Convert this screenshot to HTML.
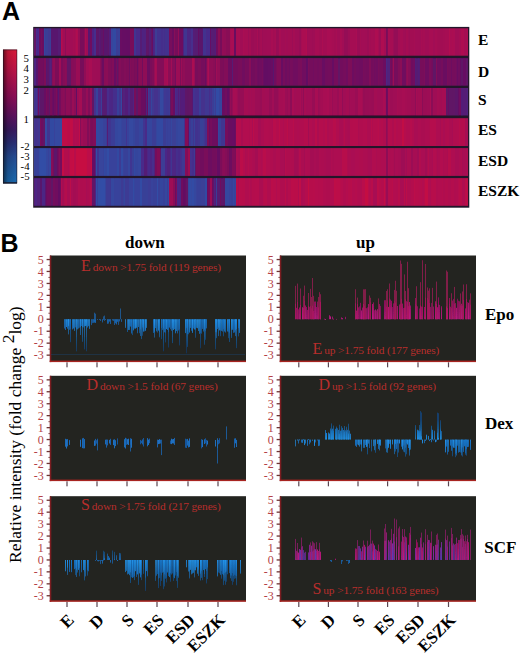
<!DOCTYPE html>
<html><head><meta charset="utf-8"><title>Figure</title>
<style>
html,body{margin:0;padding:0;background:#fff;}
body{width:520px;height:657px;position:relative;overflow:hidden;font-family:"Liberation Serif",serif;}
svg{position:absolute;left:0;top:0;}
.ax{font-family:"Liberation Serif",serif;font-size:12px;fill:#b44044;}
.ann{font-family:"Liberation Serif",serif;font-size:11.4px;fill:#b82e2c;letter-spacing:-0.12px;}
.annb{font-size:16px;}
.xl{font-family:"Liberation Serif",serif;font-weight:bold;font-size:17px;fill:#000;}
.rl{font-family:"Liberation Serif",serif;font-weight:bold;font-size:15.5px;fill:#000;}
.hd{font-family:"Liberation Serif",serif;font-weight:bold;font-size:17px;fill:#000;}
.pl{font-family:"Liberation Sans",sans-serif;font-weight:bold;font-size:25px;fill:#000;}
.cb{font-family:"Liberation Serif",serif;font-size:10.8px;fill:#000;}
.yl{font-family:"Liberation Serif",serif;font-size:17.5px;fill:#000;}
</style></head>
<body>
<svg width="520" height="657" viewBox="0 0 520 657">
<defs>
<linearGradient id="bu0a" gradientUnits="userSpaceOnUse" x1="0" y1="319.2" x2="0" y2="299.2"><stop offset="0" stop-color="#2090e4"/><stop offset="1" stop-color="#0e4a8a"/></linearGradient>
<linearGradient id="bd0a" gradientUnits="userSpaceOnUse" x1="0" y1="319.2" x2="0" y2="353.2"><stop offset="0" stop-color="#2396ee"/><stop offset="1" stop-color="#0a3a70"/></linearGradient>
<linearGradient id="bd0b" gradientUnits="userSpaceOnUse" x1="0" y1="319.2" x2="0" y2="353.2"><stop offset="0" stop-color="#1a78cc"/><stop offset="1" stop-color="#0a3464"/></linearGradient>
<linearGradient id="bdd0u" gradientUnits="userSpaceOnUse" x1="0" y1="319.2" x2="0" y2="339.2"><stop offset="0" stop-color="#1a6ab8"/><stop offset="1" stop-color="#0c3a6a"/></linearGradient>
<linearGradient id="bdd0c" gradientUnits="userSpaceOnUse" x1="0" y1="319.2" x2="0" y2="339.2"><stop offset="0" stop-color="#1a6ab8"/><stop offset="1" stop-color="#0c3a6a"/></linearGradient>
<linearGradient id="bu1a" gradientUnits="userSpaceOnUse" x1="0" y1="439.6" x2="0" y2="419.6"><stop offset="0" stop-color="#2090e4"/><stop offset="1" stop-color="#0e4a8a"/></linearGradient>
<linearGradient id="bd1a" gradientUnits="userSpaceOnUse" x1="0" y1="439.6" x2="0" y2="473.6"><stop offset="0" stop-color="#2396ee"/><stop offset="1" stop-color="#0a3a70"/></linearGradient>
<linearGradient id="bd1b" gradientUnits="userSpaceOnUse" x1="0" y1="439.6" x2="0" y2="473.6"><stop offset="0" stop-color="#1a78cc"/><stop offset="1" stop-color="#0a3464"/></linearGradient>
<linearGradient id="bu2a" gradientUnits="userSpaceOnUse" x1="0" y1="560.0" x2="0" y2="540.0"><stop offset="0" stop-color="#2090e4"/><stop offset="1" stop-color="#0e4a8a"/></linearGradient>
<linearGradient id="bd2a" gradientUnits="userSpaceOnUse" x1="0" y1="560.0" x2="0" y2="594.0"><stop offset="0" stop-color="#2396ee"/><stop offset="1" stop-color="#0a3a70"/></linearGradient>
<linearGradient id="bd2b" gradientUnits="userSpaceOnUse" x1="0" y1="560.0" x2="0" y2="594.0"><stop offset="0" stop-color="#1a78cc"/><stop offset="1" stop-color="#0a3464"/></linearGradient>
<linearGradient id="bu2d" gradientUnits="userSpaceOnUse" x1="0" y1="560.0" x2="0" y2="546.0"><stop offset="0" stop-color="#1a72c4"/><stop offset="1" stop-color="#10406e"/></linearGradient>
<linearGradient id="bdd2c" gradientUnits="userSpaceOnUse" x1="0" y1="560.0" x2="0" y2="580.0"><stop offset="0" stop-color="#1a6ab8"/><stop offset="1" stop-color="#0c3a6a"/></linearGradient>
<linearGradient id="mu0a" gradientUnits="userSpaceOnUse" x1="0" y1="319.2" x2="0" y2="289.2"><stop offset="0" stop-color="#c8168a"/><stop offset="1" stop-color="#8a1048"/></linearGradient>
<linearGradient id="mu0b" gradientUnits="userSpaceOnUse" x1="0" y1="319.2" x2="0" y2="289.2"><stop offset="0" stop-color="#b01478"/><stop offset="1" stop-color="#7a1050"/></linearGradient>
<linearGradient id="mu0c" gradientUnits="userSpaceOnUse" x1="0" y1="319.2" x2="0" y2="289.2"><stop offset="0" stop-color="#b01478"/><stop offset="1" stop-color="#7a1050"/></linearGradient>
<linearGradient id="mu2a" gradientUnits="userSpaceOnUse" x1="0" y1="560.0" x2="0" y2="530.0"><stop offset="0" stop-color="#c8168a"/><stop offset="1" stop-color="#8a1048"/></linearGradient>
<linearGradient id="su2b" gradientUnits="userSpaceOnUse" x1="0" y1="560.0" x2="0" y2="530.0"><stop offset="0" stop-color="#5a3ab8"/><stop offset="1" stop-color="#9a1a88"/></linearGradient>
<linearGradient id="su2c" gradientUnits="userSpaceOnUse" x1="0" y1="560.0" x2="0" y2="530.0"><stop offset="0" stop-color="#7a2aa8"/><stop offset="1" stop-color="#a8147a"/></linearGradient>
<linearGradient id="bdd2d" gradientUnits="userSpaceOnUse" x1="0" y1="560.0" x2="0" y2="580.0"><stop offset="0" stop-color="#1a6ab8"/><stop offset="1" stop-color="#0c3a6a"/></linearGradient>
<filter id="bb" x="-0.05" y="-0.05" width="1.1" height="1.1"><feGaussianBlur stdDeviation="0.45 0.3"/></filter>
<filter id="hb" x="-0.01" y="0" width="1.02" height="1"><feGaussianBlur stdDeviation="0.6 0"/></filter>
<linearGradient id="cbv" x1="0" y1="0" x2="0" y2="1">
<stop offset="0" stop-color="#dc1a3a"/>
<stop offset="0.15" stop-color="#c01448"/>
<stop offset="0.35" stop-color="#8e0e58"/>
<stop offset="0.5" stop-color="#5c1260"/>
<stop offset="0.6" stop-color="#3a1a62"/>
<stop offset="0.7" stop-color="#2a3078"/>
<stop offset="0.8" stop-color="#264c94"/>
<stop offset="0.92" stop-color="#1e60a6"/>
<stop offset="1" stop-color="#1a6cb2"/>
</linearGradient>
<linearGradient id="cbh" x1="0" y1="0" x2="1" y2="0">
<stop offset="0" stop-color="#000" stop-opacity="0.55"/>
<stop offset="0.35" stop-color="#000" stop-opacity="0.15"/>
<stop offset="1" stop-color="#000" stop-opacity="0"/>
</linearGradient>
</defs>
<text x="2" y="19.6" class="pl">A</text>
<text x="0.6" y="252.3" class="pl">B</text>
<rect x="3" y="49.6" width="14" height="133.7" fill="url(#cbv)"/>
<rect x="3" y="49.6" width="14" height="133.7" fill="url(#cbh)"/>
<rect x="3.3" y="49.9" width="13.6" height="133.1" fill="none" stroke="#1e1420" stroke-width="0.7" stroke-opacity="0.8"/>
<rect x="3" y="182.3" width="14" height="1.2" fill="#1a1a2a"/>
<text x="23.6" y="61.5" class="cb">5</text>
<text x="23.6" y="71.8" class="cb">4</text>
<text x="23.6" y="82.8" class="cb">3</text>
<text x="23.6" y="93.8" class="cb">2</text>
<text x="23.6" y="123" class="cb">1</text>
<text x="20.6" y="150.2" class="cb">-2</text>
<text x="20.6" y="160" class="cb">-3</text>
<text x="20.6" y="169.8" class="cb">-4</text>
<text x="20.6" y="179.5" class="cb">-5</text>
<text x="478" y="45.3" class="rl">E</text>
<text x="478" y="76.5" class="rl">D</text>
<text x="478" y="105.3" class="rl">S</text>
<text x="478" y="135.4" class="rl">ES</text>
<text x="478" y="165.5" class="rl">ESD</text>
<text x="478" y="195.6" class="rl">ESZK</text>
<text x="125" y="248" class="hd">down</text>
<text x="356" y="248.2" class="hd">up</text>
<text x="485" y="320.2" class="hd">Epo</text>
<text x="485" y="428.8" class="hd">Dex</text>
<text x="484.3" y="552.5" class="hd">SCF</text>
<text class="yl" transform="translate(20.6,563) rotate(-90)">Relative intensity (fold change <tspan dy="-6.4">2</tspan><tspan dy="6.4">log)</tspan></text>
<rect x="33.2" y="26.9" width="436.1" height="180.8" fill="#22162a"/>
<g filter="url(#hb)">
<rect x="34" y="28.3" width="2" height="27.4" fill="#621265"/>
<rect x="36" y="28.3" width="1" height="27.4" fill="#482b8a"/>
<rect x="37" y="28.3" width="1" height="27.4" fill="#4b2686"/>
<rect x="38" y="28.3" width="1" height="27.4" fill="#472c8a"/>
<rect x="39" y="28.3" width="2" height="27.4" fill="#6a0f61"/>
<rect x="41" y="28.3" width="1" height="27.4" fill="#750b5b"/>
<rect x="42" y="28.3" width="1" height="27.4" fill="#6a0f61"/>
<rect x="43" y="28.3" width="1" height="27.4" fill="#671062"/>
<rect x="44" y="28.3" width="1" height="27.4" fill="#36459d"/>
<rect x="45" y="28.3" width="3" height="27.4" fill="#3a3e96"/>
<rect x="48" y="28.3" width="2" height="27.4" fill="#3f3792"/>
<rect x="50" y="28.3" width="1" height="27.4" fill="#3a3e96"/>
<rect x="51" y="28.3" width="4" height="27.4" fill="#59186e"/>
<rect x="55" y="28.3" width="3" height="27.4" fill="#58186e"/>
<rect x="58" y="28.3" width="3" height="27.4" fill="#551b74"/>
<rect x="61" y="28.3" width="1" height="27.4" fill="#b40c4d"/>
<rect x="62" y="28.3" width="1" height="27.4" fill="#aa0c51"/>
<rect x="63" y="28.3" width="2" height="27.4" fill="#a10c54"/>
<rect x="65" y="28.3" width="1" height="27.4" fill="#8f0b57"/>
<rect x="66" y="28.3" width="3" height="27.4" fill="#a20c54"/>
<rect x="69" y="28.3" width="4" height="27.4" fill="#a10c54"/>
<rect x="73" y="28.3" width="1" height="27.4" fill="#a50c53"/>
<rect x="74" y="28.3" width="1" height="27.4" fill="#a30c53"/>
<rect x="75" y="28.3" width="1" height="27.4" fill="#a70c52"/>
<rect x="76" y="28.3" width="1" height="27.4" fill="#b00c50"/>
<rect x="77" y="28.3" width="1" height="27.4" fill="#ad0c51"/>
<rect x="78" y="28.3" width="2" height="27.4" fill="#940b56"/>
<rect x="80" y="28.3" width="1" height="27.4" fill="#780a5a"/>
<rect x="81" y="28.3" width="3" height="27.4" fill="#790a5a"/>
<rect x="84" y="28.3" width="1" height="27.4" fill="#880b58"/>
<rect x="85" y="28.3" width="1" height="27.4" fill="#a80c52"/>
<rect x="86" y="28.3" width="2" height="27.4" fill="#9c0c55"/>
<rect x="88" y="28.3" width="2" height="27.4" fill="#58186f"/>
<rect x="90" y="28.3" width="2" height="27.4" fill="#6f0d5f"/>
<rect x="92" y="28.3" width="2" height="27.4" fill="#4d2482"/>
<rect x="94" y="28.3" width="1" height="27.4" fill="#472d8b"/>
<rect x="95" y="28.3" width="1" height="27.4" fill="#452f8d"/>
<rect x="96" y="28.3" width="1" height="27.4" fill="#611266"/>
<rect x="97" y="28.3" width="2" height="27.4" fill="#5b1569"/>
<rect x="99" y="28.3" width="1" height="27.4" fill="#561b72"/>
<rect x="100" y="28.3" width="1" height="27.4" fill="#581970"/>
<rect x="101" y="28.3" width="2" height="27.4" fill="#5c1469"/>
<rect x="103" y="28.3" width="1" height="27.4" fill="#671063"/>
<rect x="104" y="28.3" width="4" height="27.4" fill="#59176d"/>
<rect x="108" y="28.3" width="1" height="27.4" fill="#5d1467"/>
<rect x="109" y="28.3" width="2" height="27.4" fill="#531e79"/>
<rect x="111" y="28.3" width="2" height="27.4" fill="#37449c"/>
<rect x="113" y="28.3" width="3" height="27.4" fill="#3349a1"/>
<rect x="116" y="28.3" width="2" height="27.4" fill="#3a3e96"/>
<rect x="118" y="28.3" width="2" height="27.4" fill="#393f97"/>
<rect x="120" y="28.3" width="2" height="27.4" fill="#690f62"/>
<rect x="122" y="28.3" width="4" height="27.4" fill="#661063"/>
<rect x="126" y="28.3" width="4" height="27.4" fill="#651164"/>
<rect x="130" y="28.3" width="4" height="27.4" fill="#780a5a"/>
<rect x="134" y="28.3" width="2" height="27.4" fill="#413590"/>
<rect x="136" y="28.3" width="4" height="27.4" fill="#482b8a"/>
<rect x="140" y="28.3" width="2" height="27.4" fill="#551c75"/>
<rect x="142" y="28.3" width="1" height="27.4" fill="#4e2381"/>
<rect x="143" y="28.3" width="3" height="27.4" fill="#4f237f"/>
<rect x="146" y="28.3" width="2" height="27.4" fill="#5f1367"/>
<rect x="148" y="28.3" width="1" height="27.4" fill="#5b1569"/>
<rect x="149" y="28.3" width="2" height="27.4" fill="#551c75"/>
<rect x="151" y="28.3" width="1" height="27.4" fill="#621265"/>
<rect x="152" y="28.3" width="1" height="27.4" fill="#661063"/>
<rect x="153" y="28.3" width="1" height="27.4" fill="#4d2482"/>
<rect x="154" y="28.3" width="1" height="27.4" fill="#4d2583"/>
<rect x="155" y="28.3" width="2" height="27.4" fill="#3c3c94"/>
<rect x="157" y="28.3" width="4" height="27.4" fill="#42338f"/>
<rect x="161" y="28.3" width="2" height="27.4" fill="#452f8c"/>
<rect x="163" y="28.3" width="1" height="27.4" fill="#44308d"/>
<rect x="164" y="28.3" width="1" height="27.4" fill="#452f8c"/>
<rect x="165" y="28.3" width="4" height="27.4" fill="#43328e"/>
<rect x="169" y="28.3" width="3" height="27.4" fill="#770a5b"/>
<rect x="172" y="28.3" width="1" height="27.4" fill="#6a0f61"/>
<rect x="173" y="28.3" width="1" height="27.4" fill="#6b0f60"/>
<rect x="174" y="28.3" width="1" height="27.4" fill="#870b58"/>
<rect x="175" y="28.3" width="3" height="27.4" fill="#770a5a"/>
<rect x="178" y="28.3" width="1" height="27.4" fill="#940b56"/>
<rect x="179" y="28.3" width="4" height="27.4" fill="#6d0e5f"/>
<rect x="183" y="28.3" width="1" height="27.4" fill="#4e2380"/>
<rect x="184" y="28.3" width="3" height="27.4" fill="#413590"/>
<rect x="187" y="28.3" width="4" height="27.4" fill="#4c2584"/>
<rect x="191" y="28.3" width="2" height="27.4" fill="#462e8c"/>
<rect x="193" y="28.3" width="2" height="27.4" fill="#541d76"/>
<rect x="195" y="28.3" width="3" height="27.4" fill="#561a72"/>
<rect x="198" y="28.3" width="1" height="27.4" fill="#631164"/>
<rect x="199" y="28.3" width="3" height="27.4" fill="#5a166b"/>
<rect x="202" y="28.3" width="1" height="27.4" fill="#59186e"/>
<rect x="203" y="28.3" width="3" height="27.4" fill="#43318e"/>
<rect x="206" y="28.3" width="1" height="27.4" fill="#492a89"/>
<rect x="207" y="28.3" width="3" height="27.4" fill="#472c8b"/>
<rect x="210" y="28.3" width="1" height="27.4" fill="#661063"/>
<rect x="211" y="28.3" width="2" height="27.4" fill="#561b73"/>
<rect x="213" y="28.3" width="2" height="27.4" fill="#561a72"/>
<rect x="215" y="28.3" width="1" height="27.4" fill="#521f79"/>
<rect x="216" y="28.3" width="1" height="27.4" fill="#6e0e5f"/>
<rect x="217" y="28.3" width="1" height="27.4" fill="#700d5e"/>
<rect x="218" y="28.3" width="2" height="27.4" fill="#8a0b57"/>
<rect x="220" y="28.3" width="2" height="27.4" fill="#770a5a"/>
<rect x="222" y="28.3" width="2" height="27.4" fill="#920b56"/>
<rect x="224" y="28.3" width="2" height="27.4" fill="#900b56"/>
<rect x="226" y="28.3" width="4" height="27.4" fill="#890b57"/>
<rect x="230" y="28.3" width="1" height="27.4" fill="#a50c53"/>
<rect x="231" y="28.3" width="3" height="27.4" fill="#a90c52"/>
<rect x="234" y="28.3" width="2" height="27.4" fill="#690f61"/>
<rect x="236" y="28.3" width="1" height="27.4" fill="#a60c53"/>
<rect x="237" y="28.3" width="2" height="27.4" fill="#a70c52"/>
<rect x="239" y="28.3" width="1" height="27.4" fill="#a80c52"/>
<rect x="240" y="28.3" width="3" height="27.4" fill="#a10c54"/>
<rect x="243" y="28.3" width="1" height="27.4" fill="#a90c52"/>
<rect x="244" y="28.3" width="4" height="27.4" fill="#a60c52"/>
<rect x="248" y="28.3" width="1" height="27.4" fill="#9d0c54"/>
<rect x="249" y="28.3" width="2" height="27.4" fill="#a40c53"/>
<rect x="251" y="28.3" width="3" height="27.4" fill="#9b0c55"/>
<rect x="254" y="28.3" width="2" height="27.4" fill="#9e0c54"/>
<rect x="256" y="28.3" width="1" height="27.4" fill="#9d0c54"/>
<rect x="257" y="28.3" width="1" height="27.4" fill="#a60c52"/>
<rect x="258" y="28.3" width="1" height="27.4" fill="#990c55"/>
<rect x="259" y="28.3" width="1" height="27.4" fill="#9e0c54"/>
<rect x="260" y="28.3" width="1" height="27.4" fill="#a30c53"/>
<rect x="261" y="28.3" width="1" height="27.4" fill="#a40c53"/>
<rect x="262" y="28.3" width="1" height="27.4" fill="#9c0c55"/>
<rect x="263" y="28.3" width="4" height="27.4" fill="#a00c54"/>
<rect x="267" y="28.3" width="4" height="27.4" fill="#a10c54"/>
<rect x="271" y="28.3" width="2" height="27.4" fill="#a70c52"/>
<rect x="273" y="28.3" width="1" height="27.4" fill="#a20c53"/>
<rect x="274" y="28.3" width="1" height="27.4" fill="#a40c53"/>
<rect x="275" y="28.3" width="1" height="27.4" fill="#a60c52"/>
<rect x="276" y="28.3" width="2" height="27.4" fill="#980c55"/>
<rect x="278" y="28.3" width="1" height="27.4" fill="#990c55"/>
<rect x="279" y="28.3" width="2" height="27.4" fill="#a70c52"/>
<rect x="281" y="28.3" width="4" height="27.4" fill="#a10c54"/>
<rect x="285" y="28.3" width="1" height="27.4" fill="#a40c53"/>
<rect x="286" y="28.3" width="2" height="27.4" fill="#a10c54"/>
<rect x="288" y="28.3" width="4" height="27.4" fill="#a30c53"/>
<rect x="292" y="28.3" width="1" height="27.4" fill="#9c0c55"/>
<rect x="293" y="28.3" width="2" height="27.4" fill="#a40c53"/>
<rect x="295" y="28.3" width="4" height="27.4" fill="#9f0c54"/>
<rect x="299" y="28.3" width="2" height="27.4" fill="#980c55"/>
<rect x="301" y="28.3" width="1" height="27.4" fill="#a50c53"/>
<rect x="302" y="28.3" width="4" height="27.4" fill="#ab0c51"/>
<rect x="306" y="28.3" width="1" height="27.4" fill="#af0c50"/>
<rect x="307" y="28.3" width="1" height="27.4" fill="#9e0c54"/>
<rect x="308" y="28.3" width="4" height="27.4" fill="#a00c54"/>
<rect x="312" y="28.3" width="1" height="27.4" fill="#9d0c54"/>
<rect x="313" y="28.3" width="2" height="27.4" fill="#9f0c54"/>
<rect x="315" y="28.3" width="4" height="27.4" fill="#a60c53"/>
<rect x="319" y="28.3" width="3" height="27.4" fill="#a20c53"/>
<rect x="322" y="28.3" width="1" height="27.4" fill="#ab0c51"/>
<rect x="323" y="28.3" width="4" height="27.4" fill="#a40c53"/>
<rect x="327" y="28.3" width="4" height="27.4" fill="#a90c52"/>
<rect x="331" y="28.3" width="1" height="27.4" fill="#a80c52"/>
<rect x="332" y="28.3" width="2" height="27.4" fill="#a60c52"/>
<rect x="334" y="28.3" width="2" height="27.4" fill="#a30c53"/>
<rect x="336" y="28.3" width="1" height="27.4" fill="#a70c52"/>
<rect x="337" y="28.3" width="3" height="27.4" fill="#a10c54"/>
<rect x="340" y="28.3" width="1" height="27.4" fill="#a80c52"/>
<rect x="341" y="28.3" width="1" height="27.4" fill="#a70c52"/>
<rect x="342" y="28.3" width="2" height="27.4" fill="#a10c54"/>
<rect x="344" y="28.3" width="4" height="27.4" fill="#950b56"/>
<rect x="348" y="28.3" width="2" height="27.4" fill="#9d0c55"/>
<rect x="350" y="28.3" width="6" height="27.4" fill="#a50c53"/>
<rect x="356" y="28.3" width="1" height="27.4" fill="#a90c52"/>
<rect x="357" y="28.3" width="3" height="27.4" fill="#9b0c55"/>
<rect x="360" y="28.3" width="1" height="27.4" fill="#a40c53"/>
<rect x="361" y="28.3" width="1" height="27.4" fill="#a10c54"/>
<rect x="362" y="28.3" width="3" height="27.4" fill="#a20c54"/>
<rect x="365" y="28.3" width="2" height="27.4" fill="#a10c54"/>
<rect x="367" y="28.3" width="2" height="27.4" fill="#9c0c55"/>
<rect x="369" y="28.3" width="1" height="27.4" fill="#a40c53"/>
<rect x="370" y="28.3" width="1" height="27.4" fill="#a20c53"/>
<rect x="371" y="28.3" width="2" height="27.4" fill="#a50c53"/>
<rect x="373" y="28.3" width="2" height="27.4" fill="#a40c53"/>
<rect x="375" y="28.3" width="3" height="27.4" fill="#ad0c51"/>
<rect x="378" y="28.3" width="1" height="27.4" fill="#a50c53"/>
<rect x="379" y="28.3" width="2" height="27.4" fill="#9b0c55"/>
<rect x="381" y="28.3" width="3" height="27.4" fill="#ae0c51"/>
<rect x="384" y="28.3" width="2" height="27.4" fill="#a40c53"/>
<rect x="386" y="28.3" width="1" height="27.4" fill="#7a0a5a"/>
<rect x="387" y="28.3" width="1" height="27.4" fill="#7f0a59"/>
<rect x="388" y="28.3" width="2" height="27.4" fill="#a70c52"/>
<rect x="390" y="28.3" width="3" height="27.4" fill="#a50c53"/>
<rect x="393" y="28.3" width="1" height="27.4" fill="#9c0c55"/>
<rect x="394" y="28.3" width="4" height="27.4" fill="#940b56"/>
<rect x="398" y="28.3" width="2" height="27.4" fill="#a20c54"/>
<rect x="400" y="28.3" width="3" height="27.4" fill="#a60c53"/>
<rect x="403" y="28.3" width="2" height="27.4" fill="#a10c54"/>
<rect x="405" y="28.3" width="1" height="27.4" fill="#9f0c54"/>
<rect x="406" y="28.3" width="2" height="27.4" fill="#a50c53"/>
<rect x="408" y="28.3" width="1" height="27.4" fill="#a10c54"/>
<rect x="409" y="28.3" width="1" height="27.4" fill="#9e0c54"/>
<rect x="410" y="28.3" width="4" height="27.4" fill="#a20c53"/>
<rect x="414" y="28.3" width="1" height="27.4" fill="#a50c53"/>
<rect x="415" y="28.3" width="4" height="27.4" fill="#a10c54"/>
<rect x="419" y="28.3" width="2" height="27.4" fill="#a00c54"/>
<rect x="421" y="28.3" width="1" height="27.4" fill="#a60c52"/>
<rect x="422" y="28.3" width="1" height="27.4" fill="#a30c53"/>
<rect x="423" y="28.3" width="2" height="27.4" fill="#a50c53"/>
<rect x="425" y="28.3" width="4" height="27.4" fill="#a10c54"/>
<rect x="429" y="28.3" width="1" height="27.4" fill="#a60c53"/>
<rect x="430" y="28.3" width="3" height="27.4" fill="#a70c52"/>
<rect x="433" y="28.3" width="2" height="27.4" fill="#a20c54"/>
<rect x="435" y="28.3" width="2" height="27.4" fill="#a60c53"/>
<rect x="437" y="28.3" width="1" height="27.4" fill="#a30c53"/>
<rect x="438" y="28.3" width="5" height="27.4" fill="#a20c53"/>
<rect x="443" y="28.3" width="2" height="27.4" fill="#a40c53"/>
<rect x="445" y="28.3" width="4" height="27.4" fill="#a60c53"/>
<rect x="449" y="28.3" width="1" height="27.4" fill="#b20c4f"/>
<rect x="450" y="28.3" width="2" height="27.4" fill="#a90c52"/>
<rect x="452" y="28.3" width="1" height="27.4" fill="#ab0c51"/>
<rect x="453" y="28.3" width="2" height="27.4" fill="#aa0c52"/>
<rect x="455" y="28.3" width="4" height="27.4" fill="#a10c54"/>
<rect x="459" y="28.3" width="2" height="27.4" fill="#a50c53"/>
<rect x="461" y="28.3" width="3" height="27.4" fill="#ad0c51"/>
<rect x="464" y="28.3" width="3" height="27.4" fill="#a60c53"/>
<rect x="467" y="28.3" width="1" height="27.4" fill="#aa0c52"/>
<rect x="34" y="58.1" width="1" height="27.6" fill="#51207b"/>
<rect x="35" y="58.1" width="1" height="27.6" fill="#4c2685"/>
<rect x="36" y="58.1" width="2" height="27.6" fill="#59176d"/>
<rect x="38" y="58.1" width="3" height="27.6" fill="#720c5d"/>
<rect x="41" y="58.1" width="2" height="27.6" fill="#730c5c"/>
<rect x="43" y="58.1" width="1" height="27.6" fill="#6e0d5f"/>
<rect x="44" y="58.1" width="2" height="27.6" fill="#7c0a59"/>
<rect x="46" y="58.1" width="1" height="27.6" fill="#58196f"/>
<rect x="47" y="58.1" width="2" height="27.6" fill="#5b156a"/>
<rect x="49" y="58.1" width="1" height="27.6" fill="#531d77"/>
<rect x="50" y="58.1" width="1" height="27.6" fill="#51207c"/>
<rect x="51" y="58.1" width="1" height="27.6" fill="#551c74"/>
<rect x="52" y="58.1" width="1" height="27.6" fill="#850b58"/>
<rect x="53" y="58.1" width="2" height="27.6" fill="#8f0b56"/>
<rect x="55" y="58.1" width="4" height="27.6" fill="#7c0a59"/>
<rect x="59" y="58.1" width="2" height="27.6" fill="#9f0c54"/>
<rect x="61" y="58.1" width="2" height="27.6" fill="#7b0a5a"/>
<rect x="63" y="58.1" width="2" height="27.6" fill="#850b58"/>
<rect x="65" y="58.1" width="1" height="27.6" fill="#8a0b57"/>
<rect x="66" y="58.1" width="1" height="27.6" fill="#850b58"/>
<rect x="67" y="58.1" width="4" height="27.6" fill="#621265"/>
<rect x="71" y="58.1" width="1" height="27.6" fill="#840b58"/>
<rect x="72" y="58.1" width="2" height="27.6" fill="#860b58"/>
<rect x="74" y="58.1" width="2" height="27.6" fill="#880b58"/>
<rect x="76" y="58.1" width="4" height="27.6" fill="#990c55"/>
<rect x="80" y="58.1" width="4" height="27.6" fill="#770a5a"/>
<rect x="84" y="58.1" width="2" height="27.6" fill="#900b56"/>
<rect x="86" y="58.1" width="3" height="27.6" fill="#a10c54"/>
<rect x="89" y="58.1" width="3" height="27.6" fill="#a80c52"/>
<rect x="92" y="58.1" width="4" height="27.6" fill="#9e0c54"/>
<rect x="96" y="58.1" width="4" height="27.6" fill="#9d0c54"/>
<rect x="100" y="58.1" width="1" height="27.6" fill="#890b57"/>
<rect x="101" y="58.1" width="1" height="27.6" fill="#7a0a5a"/>
<rect x="102" y="58.1" width="2" height="27.6" fill="#6b0e60"/>
<rect x="104" y="58.1" width="2" height="27.6" fill="#890b57"/>
<rect x="106" y="58.1" width="2" height="27.6" fill="#8b0b57"/>
<rect x="108" y="58.1" width="3" height="27.6" fill="#7f0a59"/>
<rect x="111" y="58.1" width="1" height="27.6" fill="#7a0a5a"/>
<rect x="112" y="58.1" width="2" height="27.6" fill="#810a59"/>
<rect x="114" y="58.1" width="2" height="27.6" fill="#671063"/>
<rect x="116" y="58.1" width="1" height="27.6" fill="#760b5b"/>
<rect x="117" y="58.1" width="1" height="27.6" fill="#621265"/>
<rect x="118" y="58.1" width="1" height="27.6" fill="#740b5c"/>
<rect x="119" y="58.1" width="2" height="27.6" fill="#830b58"/>
<rect x="121" y="58.1" width="3" height="27.6" fill="#7d0a59"/>
<rect x="124" y="58.1" width="2" height="27.6" fill="#820b58"/>
<rect x="126" y="58.1" width="1" height="27.6" fill="#7e0a59"/>
<rect x="127" y="58.1" width="2" height="27.6" fill="#7f0a59"/>
<rect x="129" y="58.1" width="1" height="27.6" fill="#700d5e"/>
<rect x="130" y="58.1" width="1" height="27.6" fill="#820a59"/>
<rect x="131" y="58.1" width="1" height="27.6" fill="#7d0a59"/>
<rect x="132" y="58.1" width="2" height="27.6" fill="#7f0a59"/>
<rect x="134" y="58.1" width="1" height="27.6" fill="#780a5a"/>
<rect x="135" y="58.1" width="2" height="27.6" fill="#7b0a59"/>
<rect x="137" y="58.1" width="1" height="27.6" fill="#6a0f61"/>
<rect x="138" y="58.1" width="1" height="27.6" fill="#800a59"/>
<rect x="139" y="58.1" width="3" height="27.6" fill="#890b57"/>
<rect x="142" y="58.1" width="1" height="27.6" fill="#720c5d"/>
<rect x="143" y="58.1" width="4" height="27.6" fill="#8e0b57"/>
<rect x="147" y="58.1" width="3" height="27.6" fill="#6c0e60"/>
<rect x="150" y="58.1" width="2" height="27.6" fill="#7a0a5a"/>
<rect x="152" y="58.1" width="2" height="27.6" fill="#800a59"/>
<rect x="154" y="58.1" width="1" height="27.6" fill="#950b56"/>
<rect x="155" y="58.1" width="1" height="27.6" fill="#a70c52"/>
<rect x="156" y="58.1" width="1" height="27.6" fill="#a20c53"/>
<rect x="157" y="58.1" width="7" height="27.6" fill="#830b58"/>
<rect x="164" y="58.1" width="3" height="27.6" fill="#a20c54"/>
<rect x="167" y="58.1" width="1" height="27.6" fill="#a80c52"/>
<rect x="168" y="58.1" width="3" height="27.6" fill="#8b0b57"/>
<rect x="171" y="58.1" width="1" height="27.6" fill="#a10c54"/>
<rect x="172" y="58.1" width="3" height="27.6" fill="#870b58"/>
<rect x="175" y="58.1" width="1" height="27.6" fill="#740b5c"/>
<rect x="176" y="58.1" width="4" height="27.6" fill="#9b0c55"/>
<rect x="180" y="58.1" width="1" height="27.6" fill="#7f0a59"/>
<rect x="181" y="58.1" width="1" height="27.6" fill="#9b0c55"/>
<rect x="182" y="58.1" width="1" height="27.6" fill="#8b0b57"/>
<rect x="183" y="58.1" width="2" height="27.6" fill="#900b56"/>
<rect x="185" y="58.1" width="7" height="27.6" fill="#880b58"/>
<rect x="192" y="58.1" width="2" height="27.6" fill="#ab0c51"/>
<rect x="194" y="58.1" width="1" height="27.6" fill="#9a0c55"/>
<rect x="195" y="58.1" width="3" height="27.6" fill="#790a5a"/>
<rect x="198" y="58.1" width="3" height="27.6" fill="#7e0a59"/>
<rect x="201" y="58.1" width="3" height="27.6" fill="#750b5b"/>
<rect x="204" y="58.1" width="1" height="27.6" fill="#780a5a"/>
<rect x="205" y="58.1" width="1" height="27.6" fill="#6b0f60"/>
<rect x="206" y="58.1" width="1" height="27.6" fill="#7b0a5a"/>
<rect x="207" y="58.1" width="1" height="27.6" fill="#9c0c55"/>
<rect x="208" y="58.1" width="1" height="27.6" fill="#aa0c52"/>
<rect x="209" y="58.1" width="4" height="27.6" fill="#8f0b57"/>
<rect x="213" y="58.1" width="2" height="27.6" fill="#8b0b57"/>
<rect x="215" y="58.1" width="1" height="27.6" fill="#810a59"/>
<rect x="216" y="58.1" width="1" height="27.6" fill="#9d0c55"/>
<rect x="217" y="58.1" width="3" height="27.6" fill="#920b56"/>
<rect x="220" y="58.1" width="3" height="27.6" fill="#7d0a59"/>
<rect x="223" y="58.1" width="1" height="27.6" fill="#7a0a5a"/>
<rect x="224" y="58.1" width="4" height="27.6" fill="#820a59"/>
<rect x="228" y="58.1" width="4" height="27.6" fill="#6c0e60"/>
<rect x="232" y="58.1" width="1" height="27.6" fill="#561b73"/>
<rect x="233" y="58.1" width="5" height="27.6" fill="#730c5c"/>
<rect x="238" y="58.1" width="4" height="27.6" fill="#780a5a"/>
<rect x="242" y="58.1" width="3" height="27.6" fill="#6f0d5f"/>
<rect x="245" y="58.1" width="1" height="27.6" fill="#780a5a"/>
<rect x="246" y="58.1" width="3" height="27.6" fill="#760b5b"/>
<rect x="249" y="58.1" width="2" height="27.6" fill="#860b58"/>
<rect x="251" y="58.1" width="1" height="27.6" fill="#700d5e"/>
<rect x="252" y="58.1" width="3" height="27.6" fill="#730c5c"/>
<rect x="255" y="58.1" width="2" height="27.6" fill="#770a5b"/>
<rect x="257" y="58.1" width="1" height="27.6" fill="#700d5e"/>
<rect x="258" y="58.1" width="1" height="27.6" fill="#6d0e5f"/>
<rect x="259" y="58.1" width="3" height="27.6" fill="#6f0d5f"/>
<rect x="262" y="58.1" width="1" height="27.6" fill="#740b5c"/>
<rect x="263" y="58.1" width="1" height="27.6" fill="#690f62"/>
<rect x="264" y="58.1" width="4" height="27.6" fill="#641164"/>
<rect x="268" y="58.1" width="3" height="27.6" fill="#651164"/>
<rect x="271" y="58.1" width="2" height="27.6" fill="#681062"/>
<rect x="273" y="58.1" width="1" height="27.6" fill="#59176d"/>
<rect x="274" y="58.1" width="2" height="27.6" fill="#710d5e"/>
<rect x="276" y="58.1" width="1" height="27.6" fill="#7a0a5a"/>
<rect x="277" y="58.1" width="4" height="27.6" fill="#810a59"/>
<rect x="281" y="58.1" width="2" height="27.6" fill="#681062"/>
<rect x="283" y="58.1" width="2" height="27.6" fill="#760b5b"/>
<rect x="285" y="58.1" width="2" height="27.6" fill="#6e0e5f"/>
<rect x="287" y="58.1" width="2" height="27.6" fill="#730c5d"/>
<rect x="289" y="58.1" width="1" height="27.6" fill="#6e0e5f"/>
<rect x="290" y="58.1" width="2" height="27.6" fill="#760b5b"/>
<rect x="292" y="58.1" width="1" height="27.6" fill="#750b5c"/>
<rect x="293" y="58.1" width="5" height="27.6" fill="#6f0d5f"/>
<rect x="298" y="58.1" width="2" height="27.6" fill="#770a5b"/>
<rect x="300" y="58.1" width="2" height="27.6" fill="#7a0a5a"/>
<rect x="302" y="58.1" width="2" height="27.6" fill="#700d5e"/>
<rect x="304" y="58.1" width="2" height="27.6" fill="#710d5e"/>
<rect x="306" y="58.1" width="2" height="27.6" fill="#641164"/>
<rect x="308" y="58.1" width="1" height="27.6" fill="#7a0a5a"/>
<rect x="309" y="58.1" width="4" height="27.6" fill="#740c5c"/>
<rect x="313" y="58.1" width="1" height="27.6" fill="#710d5e"/>
<rect x="314" y="58.1" width="3" height="27.6" fill="#760b5b"/>
<rect x="317" y="58.1" width="2" height="27.6" fill="#730c5d"/>
<rect x="319" y="58.1" width="2" height="27.6" fill="#760b5b"/>
<rect x="321" y="58.1" width="1" height="27.6" fill="#740b5c"/>
<rect x="322" y="58.1" width="3" height="27.6" fill="#681062"/>
<rect x="325" y="58.1" width="3" height="27.6" fill="#710c5d"/>
<rect x="328" y="58.1" width="4" height="27.6" fill="#730c5c"/>
<rect x="332" y="58.1" width="2" height="27.6" fill="#661063"/>
<rect x="334" y="58.1" width="4" height="27.6" fill="#740b5c"/>
<rect x="338" y="58.1" width="2" height="27.6" fill="#621265"/>
<rect x="340" y="58.1" width="3" height="27.6" fill="#720c5d"/>
<rect x="343" y="58.1" width="1" height="27.6" fill="#740c5c"/>
<rect x="344" y="58.1" width="2" height="27.6" fill="#760b5b"/>
<rect x="346" y="58.1" width="2" height="27.6" fill="#700d5e"/>
<rect x="348" y="58.1" width="4" height="27.6" fill="#7d0a59"/>
<rect x="352" y="58.1" width="2" height="27.6" fill="#6d0e60"/>
<rect x="354" y="58.1" width="2" height="27.6" fill="#730c5c"/>
<rect x="356" y="58.1" width="3" height="27.6" fill="#6f0d5f"/>
<rect x="359" y="58.1" width="4" height="27.6" fill="#6e0e5f"/>
<rect x="363" y="58.1" width="1" height="27.6" fill="#770a5a"/>
<rect x="364" y="58.1" width="2" height="27.6" fill="#740b5c"/>
<rect x="366" y="58.1" width="3" height="27.6" fill="#730c5c"/>
<rect x="369" y="58.1" width="2" height="27.6" fill="#810a59"/>
<rect x="371" y="58.1" width="2" height="27.6" fill="#730c5c"/>
<rect x="373" y="58.1" width="1" height="27.6" fill="#740b5c"/>
<rect x="374" y="58.1" width="1" height="27.6" fill="#6f0d5f"/>
<rect x="375" y="58.1" width="1" height="27.6" fill="#730c5d"/>
<rect x="376" y="58.1" width="2" height="27.6" fill="#700d5e"/>
<rect x="378" y="58.1" width="1" height="27.6" fill="#790a5a"/>
<rect x="379" y="58.1" width="4" height="27.6" fill="#750b5c"/>
<rect x="383" y="58.1" width="3" height="27.6" fill="#6c0e60"/>
<rect x="386" y="58.1" width="1" height="27.6" fill="#4d2583"/>
<rect x="387" y="58.1" width="3" height="27.6" fill="#51207c"/>
<rect x="390" y="58.1" width="1" height="27.6" fill="#760b5b"/>
<rect x="391" y="58.1" width="1" height="27.6" fill="#6e0e5f"/>
<rect x="392" y="58.1" width="1" height="27.6" fill="#7e0a59"/>
<rect x="393" y="58.1" width="1" height="27.6" fill="#9b0c55"/>
<rect x="394" y="58.1" width="4" height="27.6" fill="#760b5b"/>
<rect x="398" y="58.1" width="1" height="27.6" fill="#820b58"/>
<rect x="399" y="58.1" width="1" height="27.6" fill="#820a59"/>
<rect x="400" y="58.1" width="2" height="27.6" fill="#8a0b57"/>
<rect x="402" y="58.1" width="4" height="27.6" fill="#700d5e"/>
<rect x="406" y="58.1" width="1" height="27.6" fill="#8a0b57"/>
<rect x="407" y="58.1" width="1" height="27.6" fill="#910b56"/>
<rect x="408" y="58.1" width="2" height="27.6" fill="#860b58"/>
<rect x="410" y="58.1" width="1" height="27.6" fill="#7f0a59"/>
<rect x="411" y="58.1" width="2" height="27.6" fill="#6e0e5f"/>
<rect x="413" y="58.1" width="2" height="27.6" fill="#710d5e"/>
<rect x="415" y="58.1" width="1" height="27.6" fill="#531e78"/>
<rect x="416" y="58.1" width="2" height="27.6" fill="#561b72"/>
<rect x="418" y="58.1" width="1" height="27.6" fill="#521f79"/>
<rect x="419" y="58.1" width="1" height="27.6" fill="#561b73"/>
<rect x="420" y="58.1" width="4" height="27.6" fill="#770a5a"/>
<rect x="424" y="58.1" width="1" height="27.6" fill="#7b0a5a"/>
<rect x="425" y="58.1" width="4" height="27.6" fill="#6d0e60"/>
<rect x="429" y="58.1" width="2" height="27.6" fill="#7b0a5a"/>
<rect x="431" y="58.1" width="1" height="27.6" fill="#760b5b"/>
<rect x="432" y="58.1" width="1" height="27.6" fill="#720c5d"/>
<rect x="433" y="58.1" width="3" height="27.6" fill="#611265"/>
<rect x="436" y="58.1" width="1" height="27.6" fill="#820b58"/>
<rect x="437" y="58.1" width="4" height="27.6" fill="#6f0d5e"/>
<rect x="441" y="58.1" width="2" height="27.6" fill="#740c5c"/>
<rect x="443" y="58.1" width="3" height="27.6" fill="#6a0f61"/>
<rect x="446" y="58.1" width="1" height="27.6" fill="#690f62"/>
<rect x="447" y="58.1" width="1" height="27.6" fill="#780a5a"/>
<rect x="448" y="58.1" width="3" height="27.6" fill="#740b5c"/>
<rect x="451" y="58.1" width="1" height="27.6" fill="#6d0e60"/>
<rect x="452" y="58.1" width="3" height="27.6" fill="#740c5c"/>
<rect x="455" y="58.1" width="1" height="27.6" fill="#760b5b"/>
<rect x="456" y="58.1" width="1" height="27.6" fill="#710d5e"/>
<rect x="457" y="58.1" width="1" height="27.6" fill="#681062"/>
<rect x="458" y="58.1" width="2" height="27.6" fill="#700d5e"/>
<rect x="460" y="58.1" width="1" height="27.6" fill="#651164"/>
<rect x="461" y="58.1" width="2" height="27.6" fill="#5f1366"/>
<rect x="463" y="58.1" width="1" height="27.6" fill="#661063"/>
<rect x="464" y="58.1" width="2" height="27.6" fill="#661163"/>
<rect x="466" y="58.1" width="1" height="27.6" fill="#621265"/>
<rect x="467" y="58.1" width="1" height="27.6" fill="#5d1367"/>
<rect x="34" y="88.0" width="2" height="27.5" fill="#42338f"/>
<rect x="36" y="88.0" width="1" height="27.5" fill="#42348f"/>
<rect x="37" y="88.0" width="1" height="27.5" fill="#4c2685"/>
<rect x="38" y="88.0" width="1" height="27.5" fill="#6d0e60"/>
<rect x="39" y="88.0" width="1" height="27.5" fill="#51207c"/>
<rect x="40" y="88.0" width="4" height="27.5" fill="#5d1468"/>
<rect x="44" y="88.0" width="2" height="27.5" fill="#671062"/>
<rect x="46" y="88.0" width="1" height="27.5" fill="#770a5a"/>
<rect x="47" y="88.0" width="2" height="27.5" fill="#6e0e5f"/>
<rect x="49" y="88.0" width="1" height="27.5" fill="#611265"/>
<rect x="50" y="88.0" width="2" height="27.5" fill="#780a5a"/>
<rect x="52" y="88.0" width="1" height="27.5" fill="#6d0e60"/>
<rect x="53" y="88.0" width="1" height="27.5" fill="#661063"/>
<rect x="54" y="88.0" width="2" height="27.5" fill="#710d5e"/>
<rect x="56" y="88.0" width="1" height="27.5" fill="#7d0a59"/>
<rect x="57" y="88.0" width="1" height="27.5" fill="#6b0f61"/>
<rect x="58" y="88.0" width="1" height="27.5" fill="#58186f"/>
<rect x="59" y="88.0" width="1" height="27.5" fill="#710d5e"/>
<rect x="60" y="88.0" width="1" height="27.5" fill="#750b5b"/>
<rect x="61" y="88.0" width="2" height="27.5" fill="#880b58"/>
<rect x="63" y="88.0" width="1" height="27.5" fill="#8b0b57"/>
<rect x="64" y="88.0" width="1" height="27.5" fill="#870b58"/>
<rect x="65" y="88.0" width="1" height="27.5" fill="#7d0a59"/>
<rect x="66" y="88.0" width="4" height="27.5" fill="#8e0b57"/>
<rect x="70" y="88.0" width="2" height="27.5" fill="#850b58"/>
<rect x="72" y="88.0" width="2" height="27.5" fill="#990c55"/>
<rect x="74" y="88.0" width="2" height="27.5" fill="#8d0b57"/>
<rect x="76" y="88.0" width="1" height="27.5" fill="#641164"/>
<rect x="77" y="88.0" width="2" height="27.5" fill="#9b0c55"/>
<rect x="79" y="88.0" width="3" height="27.5" fill="#a40c53"/>
<rect x="82" y="88.0" width="4" height="27.5" fill="#850b58"/>
<rect x="86" y="88.0" width="2" height="27.5" fill="#950b56"/>
<rect x="88" y="88.0" width="2" height="27.5" fill="#810a59"/>
<rect x="90" y="88.0" width="2" height="27.5" fill="#970c55"/>
<rect x="92" y="88.0" width="2" height="27.5" fill="#611265"/>
<rect x="94" y="88.0" width="1" height="27.5" fill="#44308d"/>
<rect x="95" y="88.0" width="1" height="27.5" fill="#44318e"/>
<rect x="96" y="88.0" width="2" height="27.5" fill="#38429a"/>
<rect x="98" y="88.0" width="3" height="27.5" fill="#482a89"/>
<rect x="101" y="88.0" width="1" height="27.5" fill="#3a3e96"/>
<rect x="102" y="88.0" width="2" height="27.5" fill="#551b74"/>
<rect x="104" y="88.0" width="2" height="27.5" fill="#571a72"/>
<rect x="106" y="88.0" width="1" height="27.5" fill="#531e78"/>
<rect x="107" y="88.0" width="2" height="27.5" fill="#462e8c"/>
<rect x="109" y="88.0" width="2" height="27.5" fill="#4b2786"/>
<rect x="111" y="88.0" width="2" height="27.5" fill="#4c2584"/>
<rect x="113" y="88.0" width="4" height="27.5" fill="#452e8c"/>
<rect x="117" y="88.0" width="2" height="27.5" fill="#384199"/>
<rect x="119" y="88.0" width="2" height="27.5" fill="#403590"/>
<rect x="121" y="88.0" width="1" height="27.5" fill="#35469e"/>
<rect x="122" y="88.0" width="1" height="27.5" fill="#561b73"/>
<rect x="123" y="88.0" width="2" height="27.5" fill="#51207c"/>
<rect x="125" y="88.0" width="3" height="27.5" fill="#521f79"/>
<rect x="128" y="88.0" width="2" height="27.5" fill="#4c2685"/>
<rect x="130" y="88.0" width="3" height="27.5" fill="#551c75"/>
<rect x="133" y="88.0" width="1" height="27.5" fill="#4f227f"/>
<rect x="134" y="88.0" width="2" height="27.5" fill="#770a5a"/>
<rect x="136" y="88.0" width="2" height="27.5" fill="#601366"/>
<rect x="138" y="88.0" width="3" height="27.5" fill="#760b5b"/>
<rect x="141" y="88.0" width="4" height="27.5" fill="#690f61"/>
<rect x="145" y="88.0" width="1" height="27.5" fill="#641164"/>
<rect x="146" y="88.0" width="1" height="27.5" fill="#50217d"/>
<rect x="147" y="88.0" width="1" height="27.5" fill="#6a0f61"/>
<rect x="148" y="88.0" width="1" height="27.5" fill="#3c3b94"/>
<rect x="149" y="88.0" width="2" height="27.5" fill="#44308d"/>
<rect x="151" y="88.0" width="1" height="27.5" fill="#36449c"/>
<rect x="152" y="88.0" width="2" height="27.5" fill="#3f3892"/>
<rect x="154" y="88.0" width="4" height="27.5" fill="#45308d"/>
<rect x="158" y="88.0" width="2" height="27.5" fill="#3f3792"/>
<rect x="160" y="88.0" width="3" height="27.5" fill="#3448a0"/>
<rect x="163" y="88.0" width="1" height="27.5" fill="#384199"/>
<rect x="164" y="88.0" width="2" height="27.5" fill="#3f3792"/>
<rect x="166" y="88.0" width="3" height="27.5" fill="#3e3993"/>
<rect x="169" y="88.0" width="1" height="27.5" fill="#3c3b94"/>
<rect x="170" y="88.0" width="1" height="27.5" fill="#611265"/>
<rect x="171" y="88.0" width="2" height="27.5" fill="#780a5a"/>
<rect x="173" y="88.0" width="2" height="27.5" fill="#681062"/>
<rect x="175" y="88.0" width="1" height="27.5" fill="#492989"/>
<rect x="176" y="88.0" width="2" height="27.5" fill="#4c2685"/>
<rect x="178" y="88.0" width="1" height="27.5" fill="#531e79"/>
<rect x="179" y="88.0" width="1" height="27.5" fill="#4d2583"/>
<rect x="180" y="88.0" width="1" height="27.5" fill="#541d76"/>
<rect x="181" y="88.0" width="4" height="27.5" fill="#521f7a"/>
<rect x="185" y="88.0" width="2" height="27.5" fill="#5f1367"/>
<rect x="187" y="88.0" width="2" height="27.5" fill="#611265"/>
<rect x="189" y="88.0" width="3" height="27.5" fill="#621265"/>
<rect x="192" y="88.0" width="1" height="27.5" fill="#59186e"/>
<rect x="193" y="88.0" width="2" height="27.5" fill="#42338f"/>
<rect x="195" y="88.0" width="4" height="27.5" fill="#452e8c"/>
<rect x="199" y="88.0" width="2" height="27.5" fill="#3a3e96"/>
<rect x="201" y="88.0" width="2" height="27.5" fill="#44318d"/>
<rect x="203" y="88.0" width="2" height="27.5" fill="#44308d"/>
<rect x="205" y="88.0" width="4" height="27.5" fill="#3f3792"/>
<rect x="209" y="88.0" width="1" height="27.5" fill="#462d8b"/>
<rect x="210" y="88.0" width="1" height="27.5" fill="#403691"/>
<rect x="211" y="88.0" width="1" height="27.5" fill="#45308d"/>
<rect x="212" y="88.0" width="2" height="27.5" fill="#3a3e96"/>
<rect x="214" y="88.0" width="1" height="27.5" fill="#35469e"/>
<rect x="215" y="88.0" width="1" height="27.5" fill="#3a3d96"/>
<rect x="216" y="88.0" width="3" height="27.5" fill="#314ca4"/>
<rect x="219" y="88.0" width="3" height="27.5" fill="#36459d"/>
<rect x="222" y="88.0" width="2" height="27.5" fill="#671062"/>
<rect x="224" y="88.0" width="1" height="27.5" fill="#6b0f61"/>
<rect x="225" y="88.0" width="2" height="27.5" fill="#700d5e"/>
<rect x="227" y="88.0" width="2" height="27.5" fill="#651164"/>
<rect x="229" y="88.0" width="1" height="27.5" fill="#730c5c"/>
<rect x="230" y="88.0" width="1" height="27.5" fill="#920b56"/>
<rect x="231" y="88.0" width="1" height="27.5" fill="#890b57"/>
<rect x="232" y="88.0" width="1" height="27.5" fill="#950b56"/>
<rect x="233" y="88.0" width="3" height="27.5" fill="#a60c52"/>
<rect x="236" y="88.0" width="1" height="27.5" fill="#a40c53"/>
<rect x="237" y="88.0" width="1" height="27.5" fill="#9c0c55"/>
<rect x="238" y="88.0" width="2" height="27.5" fill="#930b56"/>
<rect x="240" y="88.0" width="4" height="27.5" fill="#960c55"/>
<rect x="244" y="88.0" width="1" height="27.5" fill="#a50c53"/>
<rect x="245" y="88.0" width="3" height="27.5" fill="#a40c53"/>
<rect x="248" y="88.0" width="2" height="27.5" fill="#a10c54"/>
<rect x="250" y="88.0" width="1" height="27.5" fill="#a40c53"/>
<rect x="251" y="88.0" width="1" height="27.5" fill="#a10c54"/>
<rect x="252" y="88.0" width="3" height="27.5" fill="#a30c53"/>
<rect x="255" y="88.0" width="4" height="27.5" fill="#9c0c55"/>
<rect x="259" y="88.0" width="1" height="27.5" fill="#9b0c55"/>
<rect x="260" y="88.0" width="2" height="27.5" fill="#980c55"/>
<rect x="262" y="88.0" width="3" height="27.5" fill="#a20c53"/>
<rect x="265" y="88.0" width="4" height="27.5" fill="#a10c54"/>
<rect x="269" y="88.0" width="3" height="27.5" fill="#960c55"/>
<rect x="272" y="88.0" width="2" height="27.5" fill="#a00c54"/>
<rect x="274" y="88.0" width="4" height="27.5" fill="#930b56"/>
<rect x="278" y="88.0" width="1" height="27.5" fill="#9c0c55"/>
<rect x="279" y="88.0" width="4" height="27.5" fill="#a40c53"/>
<rect x="283" y="88.0" width="2" height="27.5" fill="#a60c53"/>
<rect x="285" y="88.0" width="2" height="27.5" fill="#9b0c55"/>
<rect x="287" y="88.0" width="1" height="27.5" fill="#980c55"/>
<rect x="288" y="88.0" width="2" height="27.5" fill="#9f0c54"/>
<rect x="290" y="88.0" width="2" height="27.5" fill="#8d0b57"/>
<rect x="292" y="88.0" width="2" height="27.5" fill="#a80c52"/>
<rect x="294" y="88.0" width="2" height="27.5" fill="#a10c54"/>
<rect x="296" y="88.0" width="4" height="27.5" fill="#a20c53"/>
<rect x="300" y="88.0" width="1" height="27.5" fill="#a70c52"/>
<rect x="301" y="88.0" width="1" height="27.5" fill="#9b0c55"/>
<rect x="302" y="88.0" width="1" height="27.5" fill="#a10c54"/>
<rect x="303" y="88.0" width="1" height="27.5" fill="#900b56"/>
<rect x="304" y="88.0" width="2" height="27.5" fill="#a50c53"/>
<rect x="306" y="88.0" width="2" height="27.5" fill="#a10c54"/>
<rect x="308" y="88.0" width="4" height="27.5" fill="#a20c54"/>
<rect x="312" y="88.0" width="3" height="27.5" fill="#970c55"/>
<rect x="315" y="88.0" width="3" height="27.5" fill="#a70c52"/>
<rect x="318" y="88.0" width="1" height="27.5" fill="#990c55"/>
<rect x="319" y="88.0" width="1" height="27.5" fill="#9d0c54"/>
<rect x="320" y="88.0" width="1" height="27.5" fill="#a20c53"/>
<rect x="321" y="88.0" width="1" height="27.5" fill="#a40c53"/>
<rect x="322" y="88.0" width="1" height="27.5" fill="#a30c53"/>
<rect x="323" y="88.0" width="4" height="27.5" fill="#a80c52"/>
<rect x="327" y="88.0" width="2" height="27.5" fill="#aa0c52"/>
<rect x="329" y="88.0" width="2" height="27.5" fill="#a30c53"/>
<rect x="331" y="88.0" width="1" height="27.5" fill="#a50c53"/>
<rect x="332" y="88.0" width="1" height="27.5" fill="#990c55"/>
<rect x="333" y="88.0" width="4" height="27.5" fill="#a10c54"/>
<rect x="337" y="88.0" width="2" height="27.5" fill="#9a0c55"/>
<rect x="339" y="88.0" width="3" height="27.5" fill="#a50c53"/>
<rect x="342" y="88.0" width="1" height="27.5" fill="#920b56"/>
<rect x="343" y="88.0" width="3" height="27.5" fill="#a10c54"/>
<rect x="346" y="88.0" width="3" height="27.5" fill="#a40c53"/>
<rect x="349" y="88.0" width="1" height="27.5" fill="#9c0c55"/>
<rect x="350" y="88.0" width="1" height="27.5" fill="#a20c54"/>
<rect x="351" y="88.0" width="4" height="27.5" fill="#a10c54"/>
<rect x="355" y="88.0" width="3" height="27.5" fill="#9a0c55"/>
<rect x="358" y="88.0" width="4" height="27.5" fill="#a80c52"/>
<rect x="362" y="88.0" width="1" height="27.5" fill="#a20c53"/>
<rect x="363" y="88.0" width="2" height="27.5" fill="#960c55"/>
<rect x="365" y="88.0" width="4" height="27.5" fill="#990c55"/>
<rect x="369" y="88.0" width="2" height="27.5" fill="#9b0c55"/>
<rect x="371" y="88.0" width="1" height="27.5" fill="#9a0c55"/>
<rect x="372" y="88.0" width="2" height="27.5" fill="#990c55"/>
<rect x="374" y="88.0" width="3" height="27.5" fill="#a30c53"/>
<rect x="377" y="88.0" width="4" height="27.5" fill="#a00c54"/>
<rect x="381" y="88.0" width="2" height="27.5" fill="#a10c54"/>
<rect x="383" y="88.0" width="2" height="27.5" fill="#a80c52"/>
<rect x="385" y="88.0" width="1" height="27.5" fill="#a20c54"/>
<rect x="386" y="88.0" width="1" height="27.5" fill="#6d0e5f"/>
<rect x="387" y="88.0" width="1" height="27.5" fill="#6f0d5e"/>
<rect x="388" y="88.0" width="2" height="27.5" fill="#a30c53"/>
<rect x="390" y="88.0" width="3" height="27.5" fill="#9d0c54"/>
<rect x="393" y="88.0" width="4" height="27.5" fill="#a00c54"/>
<rect x="397" y="88.0" width="1" height="27.5" fill="#a60c52"/>
<rect x="398" y="88.0" width="4" height="27.5" fill="#a40c53"/>
<rect x="402" y="88.0" width="3" height="27.5" fill="#a70c52"/>
<rect x="405" y="88.0" width="2" height="27.5" fill="#a40c53"/>
<rect x="407" y="88.0" width="4" height="27.5" fill="#a20c53"/>
<rect x="411" y="88.0" width="4" height="27.5" fill="#9e0c54"/>
<rect x="415" y="88.0" width="1" height="27.5" fill="#8f0b57"/>
<rect x="416" y="88.0" width="1" height="27.5" fill="#a50c53"/>
<rect x="417" y="88.0" width="1" height="27.5" fill="#9f0c54"/>
<rect x="418" y="88.0" width="4" height="27.5" fill="#a20c53"/>
<rect x="422" y="88.0" width="1" height="27.5" fill="#8b0b57"/>
<rect x="423" y="88.0" width="4" height="27.5" fill="#9b0c55"/>
<rect x="427" y="88.0" width="3" height="27.5" fill="#9d0c54"/>
<rect x="430" y="88.0" width="1" height="27.5" fill="#a80c52"/>
<rect x="431" y="88.0" width="2" height="27.5" fill="#8b0b57"/>
<rect x="433" y="88.0" width="1" height="27.5" fill="#a00c54"/>
<rect x="434" y="88.0" width="3" height="27.5" fill="#9f0c54"/>
<rect x="437" y="88.0" width="2" height="27.5" fill="#a50c53"/>
<rect x="439" y="88.0" width="2" height="27.5" fill="#a30c53"/>
<rect x="441" y="88.0" width="1" height="27.5" fill="#a10c54"/>
<rect x="442" y="88.0" width="4" height="27.5" fill="#a60c52"/>
<rect x="446" y="88.0" width="2" height="27.5" fill="#611265"/>
<rect x="448" y="88.0" width="1" height="27.5" fill="#671063"/>
<rect x="449" y="88.0" width="3" height="27.5" fill="#601266"/>
<rect x="452" y="88.0" width="1" height="27.5" fill="#611265"/>
<rect x="453" y="88.0" width="2" height="27.5" fill="#611266"/>
<rect x="455" y="88.0" width="3" height="27.5" fill="#5c1469"/>
<rect x="458" y="88.0" width="1" height="27.5" fill="#641164"/>
<rect x="459" y="88.0" width="2" height="27.5" fill="#6f0d5f"/>
<rect x="461" y="88.0" width="2" height="27.5" fill="#531e78"/>
<rect x="463" y="88.0" width="4" height="27.5" fill="#541d76"/>
<rect x="467" y="88.0" width="1" height="27.5" fill="#50217e"/>
<rect x="34" y="118.2" width="3" height="27.8" fill="#43328e"/>
<rect x="37" y="118.2" width="1" height="27.8" fill="#44308d"/>
<rect x="38" y="118.2" width="2" height="27.8" fill="#403590"/>
<rect x="40" y="118.2" width="1" height="27.8" fill="#7a0a5a"/>
<rect x="41" y="118.2" width="2" height="27.8" fill="#6e0e5f"/>
<rect x="43" y="118.2" width="2" height="27.8" fill="#621265"/>
<rect x="45" y="118.2" width="2" height="27.8" fill="#3448a0"/>
<rect x="47" y="118.2" width="3" height="27.8" fill="#413490"/>
<rect x="50" y="118.2" width="4" height="27.8" fill="#3349a1"/>
<rect x="54" y="118.2" width="1" height="27.8" fill="#37439b"/>
<rect x="55" y="118.2" width="7" height="27.8" fill="#3448a0"/>
<rect x="62" y="118.2" width="5" height="27.8" fill="#be0c47"/>
<rect x="67" y="118.2" width="1" height="27.8" fill="#ba0c4a"/>
<rect x="68" y="118.2" width="2" height="27.8" fill="#b90c4a"/>
<rect x="70" y="118.2" width="2" height="27.8" fill="#c10c45"/>
<rect x="72" y="118.2" width="1" height="27.8" fill="#bf0c46"/>
<rect x="73" y="118.2" width="2" height="27.8" fill="#ae0c51"/>
<rect x="75" y="118.2" width="1" height="27.8" fill="#b20c4f"/>
<rect x="76" y="118.2" width="3" height="27.8" fill="#b00c50"/>
<rect x="79" y="118.2" width="1" height="27.8" fill="#c00c46"/>
<rect x="80" y="118.2" width="1" height="27.8" fill="#870b58"/>
<rect x="81" y="118.2" width="2" height="27.8" fill="#9f0c54"/>
<rect x="83" y="118.2" width="4" height="27.8" fill="#990c55"/>
<rect x="87" y="118.2" width="2" height="27.8" fill="#820a59"/>
<rect x="89" y="118.2" width="1" height="27.8" fill="#930b56"/>
<rect x="90" y="118.2" width="1" height="27.8" fill="#7f0a59"/>
<rect x="91" y="118.2" width="2" height="27.8" fill="#7c0a59"/>
<rect x="93" y="118.2" width="3" height="27.8" fill="#810a59"/>
<rect x="96" y="118.2" width="3" height="27.8" fill="#3349a1"/>
<rect x="99" y="118.2" width="4" height="27.8" fill="#34479f"/>
<rect x="103" y="118.2" width="1" height="27.8" fill="#37439b"/>
<rect x="104" y="118.2" width="1" height="27.8" fill="#38429a"/>
<rect x="105" y="118.2" width="1" height="27.8" fill="#37439b"/>
<rect x="106" y="118.2" width="1" height="27.8" fill="#3c3b94"/>
<rect x="107" y="118.2" width="1" height="27.8" fill="#541c76"/>
<rect x="108" y="118.2" width="1" height="27.8" fill="#403591"/>
<rect x="109" y="118.2" width="1" height="27.8" fill="#413490"/>
<rect x="110" y="118.2" width="1" height="27.8" fill="#413590"/>
<rect x="111" y="118.2" width="4" height="27.8" fill="#3a3e96"/>
<rect x="115" y="118.2" width="3" height="27.8" fill="#35469e"/>
<rect x="118" y="118.2" width="3" height="27.8" fill="#3448a0"/>
<rect x="121" y="118.2" width="1" height="27.8" fill="#36459d"/>
<rect x="122" y="118.2" width="4" height="27.8" fill="#37429a"/>
<rect x="126" y="118.2" width="1" height="27.8" fill="#403691"/>
<rect x="127" y="118.2" width="2" height="27.8" fill="#37439b"/>
<rect x="129" y="118.2" width="4" height="27.8" fill="#3448a0"/>
<rect x="133" y="118.2" width="2" height="27.8" fill="#36449c"/>
<rect x="135" y="118.2" width="4" height="27.8" fill="#394098"/>
<rect x="139" y="118.2" width="4" height="27.8" fill="#36449c"/>
<rect x="143" y="118.2" width="2" height="27.8" fill="#3f3691"/>
<rect x="145" y="118.2" width="2" height="27.8" fill="#492989"/>
<rect x="147" y="118.2" width="1" height="27.8" fill="#36449c"/>
<rect x="148" y="118.2" width="4" height="27.8" fill="#36459d"/>
<rect x="152" y="118.2" width="4" height="27.8" fill="#3a3d96"/>
<rect x="156" y="118.2" width="1" height="27.8" fill="#36449c"/>
<rect x="157" y="118.2" width="2" height="27.8" fill="#3349a1"/>
<rect x="159" y="118.2" width="4" height="27.8" fill="#334aa2"/>
<rect x="163" y="118.2" width="3" height="27.8" fill="#3b3d95"/>
<rect x="166" y="118.2" width="1" height="27.8" fill="#37439b"/>
<rect x="167" y="118.2" width="1" height="27.8" fill="#384199"/>
<rect x="168" y="118.2" width="2" height="27.8" fill="#37439b"/>
<rect x="170" y="118.2" width="1" height="27.8" fill="#394098"/>
<rect x="171" y="118.2" width="1" height="27.8" fill="#35469e"/>
<rect x="172" y="118.2" width="4" height="27.8" fill="#3a3f97"/>
<rect x="176" y="118.2" width="2" height="27.8" fill="#36449c"/>
<rect x="178" y="118.2" width="2" height="27.8" fill="#34479f"/>
<rect x="180" y="118.2" width="4" height="27.8" fill="#35469e"/>
<rect x="184" y="118.2" width="1" height="27.8" fill="#42338f"/>
<rect x="185" y="118.2" width="3" height="27.8" fill="#830b58"/>
<rect x="188" y="118.2" width="1" height="27.8" fill="#681062"/>
<rect x="189" y="118.2" width="2" height="27.8" fill="#3e3993"/>
<rect x="191" y="118.2" width="2" height="27.8" fill="#384098"/>
<rect x="193" y="118.2" width="1" height="27.8" fill="#413590"/>
<rect x="194" y="118.2" width="1" height="27.8" fill="#37429a"/>
<rect x="195" y="118.2" width="3" height="27.8" fill="#43318e"/>
<rect x="198" y="118.2" width="2" height="27.8" fill="#413590"/>
<rect x="200" y="118.2" width="3" height="27.8" fill="#393f97"/>
<rect x="203" y="118.2" width="1" height="27.8" fill="#3c3c94"/>
<rect x="204" y="118.2" width="1" height="27.8" fill="#3e3993"/>
<rect x="205" y="118.2" width="1" height="27.8" fill="#462d8b"/>
<rect x="206" y="118.2" width="1" height="27.8" fill="#452f8c"/>
<rect x="207" y="118.2" width="2" height="27.8" fill="#7d0a59"/>
<rect x="209" y="118.2" width="1" height="27.8" fill="#681062"/>
<rect x="210" y="118.2" width="1" height="27.8" fill="#740b5c"/>
<rect x="211" y="118.2" width="1" height="27.8" fill="#760b5b"/>
<rect x="212" y="118.2" width="4" height="27.8" fill="#6d0e5f"/>
<rect x="216" y="118.2" width="2" height="27.8" fill="#6b0e60"/>
<rect x="218" y="118.2" width="1" height="27.8" fill="#36459d"/>
<rect x="219" y="118.2" width="2" height="27.8" fill="#384199"/>
<rect x="221" y="118.2" width="3" height="27.8" fill="#413490"/>
<rect x="224" y="118.2" width="1" height="27.8" fill="#3e3993"/>
<rect x="225" y="118.2" width="3" height="27.8" fill="#750b5b"/>
<rect x="228" y="118.2" width="4" height="27.8" fill="#6a0f61"/>
<rect x="232" y="118.2" width="2" height="27.8" fill="#671063"/>
<rect x="234" y="118.2" width="1" height="27.8" fill="#651163"/>
<rect x="235" y="118.2" width="1" height="27.8" fill="#6d0e5f"/>
<rect x="236" y="118.2" width="4" height="27.8" fill="#b30c4e"/>
<rect x="240" y="118.2" width="1" height="27.8" fill="#b40c4d"/>
<rect x="241" y="118.2" width="2" height="27.8" fill="#aa0c51"/>
<rect x="243" y="118.2" width="6" height="27.8" fill="#b20c4f"/>
<rect x="249" y="118.2" width="1" height="27.8" fill="#af0c50"/>
<rect x="250" y="118.2" width="2" height="27.8" fill="#b50c4d"/>
<rect x="252" y="118.2" width="1" height="27.8" fill="#aa0c52"/>
<rect x="253" y="118.2" width="1" height="27.8" fill="#bb0c49"/>
<rect x="254" y="118.2" width="4" height="27.8" fill="#b10c4f"/>
<rect x="258" y="118.2" width="3" height="27.8" fill="#a60c52"/>
<rect x="261" y="118.2" width="3" height="27.8" fill="#ac0c51"/>
<rect x="264" y="118.2" width="4" height="27.8" fill="#b10c50"/>
<rect x="268" y="118.2" width="1" height="27.8" fill="#b00c50"/>
<rect x="269" y="118.2" width="3" height="27.8" fill="#af0c50"/>
<rect x="272" y="118.2" width="1" height="27.8" fill="#ac0c51"/>
<rect x="273" y="118.2" width="3" height="27.8" fill="#b80c4b"/>
<rect x="276" y="118.2" width="3" height="27.8" fill="#b30c4e"/>
<rect x="279" y="118.2" width="1" height="27.8" fill="#bc0c48"/>
<rect x="280" y="118.2" width="3" height="27.8" fill="#b20c4f"/>
<rect x="283" y="118.2" width="1" height="27.8" fill="#ae0c51"/>
<rect x="284" y="118.2" width="3" height="27.8" fill="#b30c4e"/>
<rect x="287" y="118.2" width="1" height="27.8" fill="#ba0c4a"/>
<rect x="288" y="118.2" width="1" height="27.8" fill="#af0c50"/>
<rect x="289" y="118.2" width="4" height="27.8" fill="#b20c4f"/>
<rect x="293" y="118.2" width="1" height="27.8" fill="#b80c4b"/>
<rect x="294" y="118.2" width="3" height="27.8" fill="#af0c50"/>
<rect x="297" y="118.2" width="2" height="27.8" fill="#ae0c51"/>
<rect x="299" y="118.2" width="1" height="27.8" fill="#af0c50"/>
<rect x="300" y="118.2" width="4" height="27.8" fill="#b00c50"/>
<rect x="304" y="118.2" width="4" height="27.8" fill="#b40c4e"/>
<rect x="308" y="118.2" width="1" height="27.8" fill="#a20c53"/>
<rect x="309" y="118.2" width="3" height="27.8" fill="#b10c4f"/>
<rect x="312" y="118.2" width="3" height="27.8" fill="#ad0c51"/>
<rect x="315" y="118.2" width="2" height="27.8" fill="#b80c4b"/>
<rect x="317" y="118.2" width="2" height="27.8" fill="#ab0c51"/>
<rect x="319" y="118.2" width="4" height="27.8" fill="#b40c4d"/>
<rect x="323" y="118.2" width="2" height="27.8" fill="#b10c50"/>
<rect x="325" y="118.2" width="2" height="27.8" fill="#b60c4c"/>
<rect x="327" y="118.2" width="2" height="27.8" fill="#ad0c51"/>
<rect x="329" y="118.2" width="4" height="27.8" fill="#b10c50"/>
<rect x="333" y="118.2" width="3" height="27.8" fill="#b70c4c"/>
<rect x="336" y="118.2" width="3" height="27.8" fill="#b00c50"/>
<rect x="339" y="118.2" width="4" height="27.8" fill="#a90c52"/>
<rect x="343" y="118.2" width="1" height="27.8" fill="#ae0c51"/>
<rect x="344" y="118.2" width="1" height="27.8" fill="#b40c4d"/>
<rect x="345" y="118.2" width="2" height="27.8" fill="#ac0c51"/>
<rect x="347" y="118.2" width="1" height="27.8" fill="#aa0c52"/>
<rect x="348" y="118.2" width="2" height="27.8" fill="#a90c52"/>
<rect x="350" y="118.2" width="3" height="27.8" fill="#b40c4d"/>
<rect x="353" y="118.2" width="5" height="27.8" fill="#b50c4d"/>
<rect x="358" y="118.2" width="1" height="27.8" fill="#ac0c51"/>
<rect x="359" y="118.2" width="4" height="27.8" fill="#b00c50"/>
<rect x="363" y="118.2" width="3" height="27.8" fill="#b20c4f"/>
<rect x="366" y="118.2" width="1" height="27.8" fill="#b30c4e"/>
<rect x="367" y="118.2" width="4" height="27.8" fill="#ad0c51"/>
<rect x="371" y="118.2" width="1" height="27.8" fill="#b70c4c"/>
<rect x="372" y="118.2" width="1" height="27.8" fill="#af0c50"/>
<rect x="373" y="118.2" width="4" height="27.8" fill="#b40c4e"/>
<rect x="377" y="118.2" width="1" height="27.8" fill="#b50c4d"/>
<rect x="378" y="118.2" width="1" height="27.8" fill="#b80c4b"/>
<rect x="379" y="118.2" width="2" height="27.8" fill="#b20c4f"/>
<rect x="381" y="118.2" width="2" height="27.8" fill="#b30c4e"/>
<rect x="383" y="118.2" width="3" height="27.8" fill="#af0c50"/>
<rect x="386" y="118.2" width="1" height="27.8" fill="#900b56"/>
<rect x="387" y="118.2" width="1" height="27.8" fill="#9a0c55"/>
<rect x="388" y="118.2" width="4" height="27.8" fill="#b40c4d"/>
<rect x="392" y="118.2" width="2" height="27.8" fill="#ae0c50"/>
<rect x="394" y="118.2" width="2" height="27.8" fill="#b60c4c"/>
<rect x="396" y="118.2" width="2" height="27.8" fill="#b10c4f"/>
<rect x="398" y="118.2" width="4" height="27.8" fill="#b30c4e"/>
<rect x="402" y="118.2" width="2" height="27.8" fill="#c10c45"/>
<rect x="404" y="118.2" width="2" height="27.8" fill="#b50c4d"/>
<rect x="406" y="118.2" width="4" height="27.8" fill="#b10c50"/>
<rect x="410" y="118.2" width="2" height="27.8" fill="#b50c4d"/>
<rect x="412" y="118.2" width="2" height="27.8" fill="#b00c50"/>
<rect x="414" y="118.2" width="4" height="27.8" fill="#a90c52"/>
<rect x="418" y="118.2" width="3" height="27.8" fill="#ad0c51"/>
<rect x="421" y="118.2" width="4" height="27.8" fill="#aa0c51"/>
<rect x="425" y="118.2" width="4" height="27.8" fill="#ad0c51"/>
<rect x="429" y="118.2" width="1" height="27.8" fill="#ae0c50"/>
<rect x="430" y="118.2" width="6" height="27.8" fill="#b50c4d"/>
<rect x="436" y="118.2" width="4" height="27.8" fill="#ad0c51"/>
<rect x="440" y="118.2" width="1" height="27.8" fill="#a70c52"/>
<rect x="441" y="118.2" width="2" height="27.8" fill="#af0c50"/>
<rect x="443" y="118.2" width="2" height="27.8" fill="#aa0c52"/>
<rect x="445" y="118.2" width="2" height="27.8" fill="#af0c50"/>
<rect x="447" y="118.2" width="2" height="27.8" fill="#b00c50"/>
<rect x="449" y="118.2" width="3" height="27.8" fill="#ab0c51"/>
<rect x="452" y="118.2" width="1" height="27.8" fill="#a70c52"/>
<rect x="453" y="118.2" width="4" height="27.8" fill="#b00c50"/>
<rect x="457" y="118.2" width="2" height="27.8" fill="#b10c4f"/>
<rect x="459" y="118.2" width="1" height="27.8" fill="#b70c4b"/>
<rect x="460" y="118.2" width="1" height="27.8" fill="#b20c4f"/>
<rect x="461" y="118.2" width="4" height="27.8" fill="#b30c4e"/>
<rect x="465" y="118.2" width="3" height="27.8" fill="#a60c53"/>
<rect x="34" y="148.1" width="2" height="27.8" fill="#393f97"/>
<rect x="36" y="148.1" width="3" height="27.8" fill="#384199"/>
<rect x="39" y="148.1" width="1" height="27.8" fill="#3448a0"/>
<rect x="40" y="148.1" width="4" height="27.8" fill="#304ea6"/>
<rect x="44" y="148.1" width="2" height="27.8" fill="#314da5"/>
<rect x="46" y="148.1" width="2" height="27.8" fill="#34479f"/>
<rect x="48" y="148.1" width="1" height="27.8" fill="#38429a"/>
<rect x="49" y="148.1" width="2" height="27.8" fill="#35469e"/>
<rect x="51" y="148.1" width="1" height="27.8" fill="#850b58"/>
<rect x="52" y="148.1" width="1" height="27.8" fill="#820b58"/>
<rect x="53" y="148.1" width="1" height="27.8" fill="#720c5d"/>
<rect x="54" y="148.1" width="3" height="27.8" fill="#5b156a"/>
<rect x="57" y="148.1" width="1" height="27.8" fill="#6a0f61"/>
<rect x="58" y="148.1" width="1" height="27.8" fill="#750b5c"/>
<rect x="59" y="148.1" width="1" height="27.8" fill="#840b58"/>
<rect x="60" y="148.1" width="2" height="27.8" fill="#750b5b"/>
<rect x="62" y="148.1" width="2" height="27.8" fill="#c30c44"/>
<rect x="64" y="148.1" width="4" height="27.8" fill="#b20c4e"/>
<rect x="68" y="148.1" width="1" height="27.8" fill="#ad0c51"/>
<rect x="69" y="148.1" width="1" height="27.8" fill="#b50c4d"/>
<rect x="70" y="148.1" width="3" height="27.8" fill="#c30c44"/>
<rect x="73" y="148.1" width="1" height="27.8" fill="#c60c42"/>
<rect x="74" y="148.1" width="2" height="27.8" fill="#b80c4b"/>
<rect x="76" y="148.1" width="1" height="27.8" fill="#c50c42"/>
<rect x="77" y="148.1" width="9" height="27.8" fill="#c60c42"/>
<rect x="86" y="148.1" width="1" height="27.8" fill="#c40c43"/>
<rect x="87" y="148.1" width="4" height="27.8" fill="#bc0c48"/>
<rect x="91" y="148.1" width="1" height="27.8" fill="#c60c42"/>
<rect x="92" y="148.1" width="3" height="27.8" fill="#661163"/>
<rect x="95" y="148.1" width="1" height="27.8" fill="#51207c"/>
<rect x="96" y="148.1" width="1" height="27.8" fill="#304da5"/>
<rect x="97" y="148.1" width="2" height="27.8" fill="#3f3691"/>
<rect x="99" y="148.1" width="4" height="27.8" fill="#37449c"/>
<rect x="103" y="148.1" width="1" height="27.8" fill="#38429a"/>
<rect x="104" y="148.1" width="1" height="27.8" fill="#324aa2"/>
<rect x="105" y="148.1" width="2" height="27.8" fill="#35469e"/>
<rect x="107" y="148.1" width="2" height="27.8" fill="#314da5"/>
<rect x="109" y="148.1" width="8" height="27.8" fill="#37439b"/>
<rect x="117" y="148.1" width="2" height="27.8" fill="#3349a1"/>
<rect x="119" y="148.1" width="2" height="27.8" fill="#3c3b94"/>
<rect x="121" y="148.1" width="2" height="27.8" fill="#314ca4"/>
<rect x="123" y="148.1" width="1" height="27.8" fill="#37429a"/>
<rect x="124" y="148.1" width="4" height="27.8" fill="#394098"/>
<rect x="128" y="148.1" width="2" height="27.8" fill="#35469e"/>
<rect x="130" y="148.1" width="2" height="27.8" fill="#403691"/>
<rect x="132" y="148.1" width="2" height="27.8" fill="#393f97"/>
<rect x="134" y="148.1" width="1" height="27.8" fill="#3349a1"/>
<rect x="135" y="148.1" width="3" height="27.8" fill="#36449c"/>
<rect x="138" y="148.1" width="1" height="27.8" fill="#35469e"/>
<rect x="139" y="148.1" width="1" height="27.8" fill="#34479f"/>
<rect x="140" y="148.1" width="1" height="27.8" fill="#35469e"/>
<rect x="141" y="148.1" width="3" height="27.8" fill="#482b8a"/>
<rect x="144" y="148.1" width="3" height="27.8" fill="#531d77"/>
<rect x="147" y="148.1" width="1" height="27.8" fill="#4d2583"/>
<rect x="148" y="148.1" width="2" height="27.8" fill="#472c8b"/>
<rect x="150" y="148.1" width="2" height="27.8" fill="#4b2786"/>
<rect x="152" y="148.1" width="2" height="27.8" fill="#462e8c"/>
<rect x="154" y="148.1" width="1" height="27.8" fill="#51207b"/>
<rect x="155" y="148.1" width="2" height="27.8" fill="#760b5b"/>
<rect x="157" y="148.1" width="3" height="27.8" fill="#810a59"/>
<rect x="160" y="148.1" width="1" height="27.8" fill="#5e1367"/>
<rect x="161" y="148.1" width="4" height="27.8" fill="#3c3c95"/>
<rect x="165" y="148.1" width="2" height="27.8" fill="#4b2787"/>
<rect x="167" y="148.1" width="3" height="27.8" fill="#51207b"/>
<rect x="170" y="148.1" width="1" height="27.8" fill="#472c8b"/>
<rect x="171" y="148.1" width="1" height="27.8" fill="#403590"/>
<rect x="172" y="148.1" width="3" height="27.8" fill="#4d2584"/>
<rect x="175" y="148.1" width="1" height="27.8" fill="#4c2684"/>
<rect x="176" y="148.1" width="2" height="27.8" fill="#452f8c"/>
<rect x="178" y="148.1" width="2" height="27.8" fill="#472c8a"/>
<rect x="180" y="148.1" width="1" height="27.8" fill="#462e8c"/>
<rect x="181" y="148.1" width="1" height="27.8" fill="#43328e"/>
<rect x="182" y="148.1" width="3" height="27.8" fill="#3f3792"/>
<rect x="185" y="148.1" width="1" height="27.8" fill="#8a0b57"/>
<rect x="186" y="148.1" width="2" height="27.8" fill="#850b58"/>
<rect x="188" y="148.1" width="2" height="27.8" fill="#9d0c54"/>
<rect x="190" y="148.1" width="2" height="27.8" fill="#44318e"/>
<rect x="192" y="148.1" width="2" height="27.8" fill="#452e8c"/>
<rect x="194" y="148.1" width="1" height="27.8" fill="#3d3a94"/>
<rect x="195" y="148.1" width="1" height="27.8" fill="#611266"/>
<rect x="196" y="148.1" width="4" height="27.8" fill="#780a5a"/>
<rect x="200" y="148.1" width="4" height="27.8" fill="#710c5d"/>
<rect x="204" y="148.1" width="4" height="27.8" fill="#7a0a5a"/>
<rect x="208" y="148.1" width="4" height="27.8" fill="#6d0e60"/>
<rect x="212" y="148.1" width="4" height="27.8" fill="#730c5c"/>
<rect x="216" y="148.1" width="1" height="27.8" fill="#740b5c"/>
<rect x="217" y="148.1" width="3" height="27.8" fill="#651163"/>
<rect x="220" y="148.1" width="1" height="27.8" fill="#7b0a5a"/>
<rect x="221" y="148.1" width="1" height="27.8" fill="#7c0a59"/>
<rect x="222" y="148.1" width="1" height="27.8" fill="#880b58"/>
<rect x="223" y="148.1" width="2" height="27.8" fill="#8b0b57"/>
<rect x="225" y="148.1" width="2" height="27.8" fill="#850b58"/>
<rect x="227" y="148.1" width="2" height="27.8" fill="#7c0a59"/>
<rect x="229" y="148.1" width="1" height="27.8" fill="#6a0f61"/>
<rect x="230" y="148.1" width="2" height="27.8" fill="#6d0e5f"/>
<rect x="232" y="148.1" width="3" height="27.8" fill="#7f0a59"/>
<rect x="235" y="148.1" width="1" height="27.8" fill="#7c0a59"/>
<rect x="236" y="148.1" width="2" height="27.8" fill="#a90c52"/>
<rect x="238" y="148.1" width="2" height="27.8" fill="#a60c52"/>
<rect x="240" y="148.1" width="3" height="27.8" fill="#bb0c49"/>
<rect x="243" y="148.1" width="2" height="27.8" fill="#b40c4d"/>
<rect x="245" y="148.1" width="1" height="27.8" fill="#ac0c51"/>
<rect x="246" y="148.1" width="2" height="27.8" fill="#af0c50"/>
<rect x="248" y="148.1" width="1" height="27.8" fill="#b50c4d"/>
<rect x="249" y="148.1" width="3" height="27.8" fill="#af0c50"/>
<rect x="252" y="148.1" width="1" height="27.8" fill="#ac0c51"/>
<rect x="253" y="148.1" width="2" height="27.8" fill="#ab0c51"/>
<rect x="255" y="148.1" width="3" height="27.8" fill="#a40c53"/>
<rect x="258" y="148.1" width="3" height="27.8" fill="#b10c50"/>
<rect x="261" y="148.1" width="1" height="27.8" fill="#ae0c51"/>
<rect x="262" y="148.1" width="1" height="27.8" fill="#b10c50"/>
<rect x="263" y="148.1" width="3" height="27.8" fill="#b90c4b"/>
<rect x="266" y="148.1" width="4" height="27.8" fill="#b20c4f"/>
<rect x="270" y="148.1" width="3" height="27.8" fill="#af0c50"/>
<rect x="273" y="148.1" width="3" height="27.8" fill="#ab0c51"/>
<rect x="276" y="148.1" width="4" height="27.8" fill="#af0c50"/>
<rect x="280" y="148.1" width="4" height="27.8" fill="#a90c52"/>
<rect x="284" y="148.1" width="1" height="27.8" fill="#a40c53"/>
<rect x="285" y="148.1" width="1" height="27.8" fill="#b40c4d"/>
<rect x="286" y="148.1" width="4" height="27.8" fill="#ae0c50"/>
<rect x="290" y="148.1" width="1" height="27.8" fill="#af0c50"/>
<rect x="291" y="148.1" width="3" height="27.8" fill="#ae0c50"/>
<rect x="294" y="148.1" width="4" height="27.8" fill="#a30c53"/>
<rect x="298" y="148.1" width="1" height="27.8" fill="#a70c52"/>
<rect x="299" y="148.1" width="2" height="27.8" fill="#b40c4d"/>
<rect x="301" y="148.1" width="3" height="27.8" fill="#ab0c51"/>
<rect x="304" y="148.1" width="1" height="27.8" fill="#a40c53"/>
<rect x="305" y="148.1" width="2" height="27.8" fill="#ae0c51"/>
<rect x="307" y="148.1" width="3" height="27.8" fill="#ad0c51"/>
<rect x="310" y="148.1" width="4" height="27.8" fill="#a40c53"/>
<rect x="314" y="148.1" width="2" height="27.8" fill="#a80c52"/>
<rect x="316" y="148.1" width="3" height="27.8" fill="#a50c53"/>
<rect x="319" y="148.1" width="2" height="27.8" fill="#ac0c51"/>
<rect x="321" y="148.1" width="3" height="27.8" fill="#ab0c51"/>
<rect x="324" y="148.1" width="1" height="27.8" fill="#a90c52"/>
<rect x="325" y="148.1" width="1" height="27.8" fill="#aa0c51"/>
<rect x="326" y="148.1" width="4" height="27.8" fill="#a70c52"/>
<rect x="330" y="148.1" width="1" height="27.8" fill="#a80c52"/>
<rect x="331" y="148.1" width="1" height="27.8" fill="#ae0c51"/>
<rect x="332" y="148.1" width="1" height="27.8" fill="#ab0c51"/>
<rect x="333" y="148.1" width="1" height="27.8" fill="#aa0c51"/>
<rect x="334" y="148.1" width="8" height="27.8" fill="#ad0c51"/>
<rect x="342" y="148.1" width="4" height="27.8" fill="#b70c4b"/>
<rect x="346" y="148.1" width="1" height="27.8" fill="#b70c4c"/>
<rect x="347" y="148.1" width="1" height="27.8" fill="#ae0c50"/>
<rect x="348" y="148.1" width="1" height="27.8" fill="#ab0c51"/>
<rect x="349" y="148.1" width="2" height="27.8" fill="#ac0c51"/>
<rect x="351" y="148.1" width="4" height="27.8" fill="#aa0c52"/>
<rect x="355" y="148.1" width="4" height="27.8" fill="#ad0c51"/>
<rect x="359" y="148.1" width="4" height="27.8" fill="#ae0c50"/>
<rect x="363" y="148.1" width="4" height="27.8" fill="#ac0c51"/>
<rect x="367" y="148.1" width="1" height="27.8" fill="#aa0c51"/>
<rect x="368" y="148.1" width="4" height="27.8" fill="#a80c52"/>
<rect x="372" y="148.1" width="4" height="27.8" fill="#b00c50"/>
<rect x="376" y="148.1" width="1" height="27.8" fill="#ab0c51"/>
<rect x="377" y="148.1" width="4" height="27.8" fill="#ae0c50"/>
<rect x="381" y="148.1" width="4" height="27.8" fill="#ad0c51"/>
<rect x="385" y="148.1" width="1" height="27.8" fill="#ae0c51"/>
<rect x="386" y="148.1" width="2" height="27.8" fill="#8e0b57"/>
<rect x="388" y="148.1" width="1" height="27.8" fill="#ae0c51"/>
<rect x="389" y="148.1" width="2" height="27.8" fill="#ab0c51"/>
<rect x="391" y="148.1" width="2" height="27.8" fill="#ac0c51"/>
<rect x="393" y="148.1" width="1" height="27.8" fill="#aa0c51"/>
<rect x="394" y="148.1" width="1" height="27.8" fill="#a20c53"/>
<rect x="395" y="148.1" width="3" height="27.8" fill="#a90c52"/>
<rect x="398" y="148.1" width="3" height="27.8" fill="#a70c52"/>
<rect x="401" y="148.1" width="4" height="27.8" fill="#9e0c54"/>
<rect x="405" y="148.1" width="1" height="27.8" fill="#a80c52"/>
<rect x="406" y="148.1" width="1" height="27.8" fill="#a10c54"/>
<rect x="407" y="148.1" width="4" height="27.8" fill="#aa0c51"/>
<rect x="411" y="148.1" width="2" height="27.8" fill="#9b0c55"/>
<rect x="413" y="148.1" width="4" height="27.8" fill="#a60c52"/>
<rect x="417" y="148.1" width="2" height="27.8" fill="#9f0c54"/>
<rect x="419" y="148.1" width="2" height="27.8" fill="#b00c50"/>
<rect x="421" y="148.1" width="4" height="27.8" fill="#aa0c52"/>
<rect x="425" y="148.1" width="2" height="27.8" fill="#a20c53"/>
<rect x="427" y="148.1" width="1" height="27.8" fill="#aa0c52"/>
<rect x="428" y="148.1" width="1" height="27.8" fill="#b30c4e"/>
<rect x="429" y="148.1" width="1" height="27.8" fill="#aa0c52"/>
<rect x="430" y="148.1" width="2" height="27.8" fill="#ab0c51"/>
<rect x="432" y="148.1" width="1" height="27.8" fill="#a80c52"/>
<rect x="433" y="148.1" width="3" height="27.8" fill="#b20c4f"/>
<rect x="436" y="148.1" width="1" height="27.8" fill="#ae0c50"/>
<rect x="437" y="148.1" width="1" height="27.8" fill="#a90c52"/>
<rect x="438" y="148.1" width="2" height="27.8" fill="#ac0c51"/>
<rect x="440" y="148.1" width="3" height="27.8" fill="#b20c4f"/>
<rect x="443" y="148.1" width="1" height="27.8" fill="#ac0c51"/>
<rect x="444" y="148.1" width="3" height="27.8" fill="#af0c50"/>
<rect x="447" y="148.1" width="1" height="27.8" fill="#ab0c51"/>
<rect x="448" y="148.1" width="3" height="27.8" fill="#b70c4b"/>
<rect x="451" y="148.1" width="4" height="27.8" fill="#ae0c51"/>
<rect x="455" y="148.1" width="4" height="27.8" fill="#a80c52"/>
<rect x="459" y="148.1" width="2" height="27.8" fill="#ac0c51"/>
<rect x="461" y="148.1" width="1" height="27.8" fill="#ae0c50"/>
<rect x="462" y="148.1" width="1" height="27.8" fill="#a60c53"/>
<rect x="463" y="148.1" width="2" height="27.8" fill="#a80c52"/>
<rect x="465" y="148.1" width="2" height="27.8" fill="#a90c52"/>
<rect x="467" y="148.1" width="1" height="27.8" fill="#ae0c51"/>
<rect x="34" y="178.1" width="1" height="27.7" fill="#551b74"/>
<rect x="35" y="178.1" width="2" height="27.7" fill="#4d2583"/>
<rect x="37" y="178.1" width="3" height="27.7" fill="#51207c"/>
<rect x="40" y="178.1" width="2" height="27.7" fill="#59176d"/>
<rect x="42" y="178.1" width="3" height="27.7" fill="#4c2584"/>
<rect x="45" y="178.1" width="1" height="27.7" fill="#581970"/>
<rect x="46" y="178.1" width="1" height="27.7" fill="#6b0f60"/>
<rect x="47" y="178.1" width="4" height="27.7" fill="#6f0d5f"/>
<rect x="51" y="178.1" width="2" height="27.7" fill="#611266"/>
<rect x="53" y="178.1" width="2" height="27.7" fill="#750b5c"/>
<rect x="55" y="178.1" width="3" height="27.7" fill="#6f0d5e"/>
<rect x="58" y="178.1" width="2" height="27.7" fill="#631164"/>
<rect x="60" y="178.1" width="1" height="27.7" fill="#710c5d"/>
<rect x="61" y="178.1" width="1" height="27.7" fill="#af0c50"/>
<rect x="62" y="178.1" width="2" height="27.7" fill="#a40c53"/>
<rect x="64" y="178.1" width="1" height="27.7" fill="#af0c50"/>
<rect x="65" y="178.1" width="2" height="27.7" fill="#b30c4e"/>
<rect x="67" y="178.1" width="2" height="27.7" fill="#a80c52"/>
<rect x="69" y="178.1" width="1" height="27.7" fill="#a90c52"/>
<rect x="70" y="178.1" width="1" height="27.7" fill="#bc0c48"/>
<rect x="71" y="178.1" width="2" height="27.7" fill="#a90c52"/>
<rect x="73" y="178.1" width="3" height="27.7" fill="#a40c53"/>
<rect x="76" y="178.1" width="2" height="27.7" fill="#a70c52"/>
<rect x="78" y="178.1" width="2" height="27.7" fill="#b10c50"/>
<rect x="80" y="178.1" width="3" height="27.7" fill="#ae0c50"/>
<rect x="83" y="178.1" width="3" height="27.7" fill="#af0c50"/>
<rect x="86" y="178.1" width="1" height="27.7" fill="#a80c52"/>
<rect x="87" y="178.1" width="2" height="27.7" fill="#ab0c51"/>
<rect x="89" y="178.1" width="1" height="27.7" fill="#ae0c50"/>
<rect x="90" y="178.1" width="1" height="27.7" fill="#b40c4d"/>
<rect x="91" y="178.1" width="1" height="27.7" fill="#ad0c51"/>
<rect x="92" y="178.1" width="3" height="27.7" fill="#611266"/>
<rect x="95" y="178.1" width="1" height="27.7" fill="#4e2381"/>
<rect x="96" y="178.1" width="1" height="27.7" fill="#304ea6"/>
<rect x="97" y="178.1" width="1" height="27.7" fill="#37429a"/>
<rect x="98" y="178.1" width="3" height="27.7" fill="#314da5"/>
<rect x="101" y="178.1" width="4" height="27.7" fill="#304ea6"/>
<rect x="105" y="178.1" width="1" height="27.7" fill="#36449c"/>
<rect x="106" y="178.1" width="4" height="27.7" fill="#3d3a93"/>
<rect x="110" y="178.1" width="1" height="27.7" fill="#3e3993"/>
<rect x="111" y="178.1" width="2" height="27.7" fill="#35469e"/>
<rect x="113" y="178.1" width="1" height="27.7" fill="#34479f"/>
<rect x="114" y="178.1" width="1" height="27.7" fill="#37429a"/>
<rect x="115" y="178.1" width="4" height="27.7" fill="#37439b"/>
<rect x="119" y="178.1" width="2" height="27.7" fill="#38429a"/>
<rect x="121" y="178.1" width="2" height="27.7" fill="#3c3b94"/>
<rect x="123" y="178.1" width="1" height="27.7" fill="#394098"/>
<rect x="124" y="178.1" width="1" height="27.7" fill="#36449c"/>
<rect x="125" y="178.1" width="4" height="27.7" fill="#3c3b94"/>
<rect x="129" y="178.1" width="4" height="27.7" fill="#37439b"/>
<rect x="133" y="178.1" width="1" height="27.7" fill="#324ba3"/>
<rect x="134" y="178.1" width="1" height="27.7" fill="#36449c"/>
<rect x="135" y="178.1" width="5" height="27.7" fill="#37439b"/>
<rect x="140" y="178.1" width="2" height="27.7" fill="#314ca4"/>
<rect x="142" y="178.1" width="4" height="27.7" fill="#393f97"/>
<rect x="146" y="178.1" width="2" height="27.7" fill="#394098"/>
<rect x="148" y="178.1" width="3" height="27.7" fill="#3a3e96"/>
<rect x="151" y="178.1" width="2" height="27.7" fill="#37439b"/>
<rect x="153" y="178.1" width="4" height="27.7" fill="#394098"/>
<rect x="157" y="178.1" width="1" height="27.7" fill="#304ea6"/>
<rect x="158" y="178.1" width="1" height="27.7" fill="#384199"/>
<rect x="159" y="178.1" width="1" height="27.7" fill="#393f97"/>
<rect x="160" y="178.1" width="3" height="27.7" fill="#35459d"/>
<rect x="163" y="178.1" width="2" height="27.7" fill="#384199"/>
<rect x="165" y="178.1" width="2" height="27.7" fill="#35469e"/>
<rect x="167" y="178.1" width="1" height="27.7" fill="#3a3e96"/>
<rect x="168" y="178.1" width="1" height="27.7" fill="#35469e"/>
<rect x="169" y="178.1" width="4" height="27.7" fill="#9e0c54"/>
<rect x="173" y="178.1" width="2" height="27.7" fill="#8b0b57"/>
<rect x="175" y="178.1" width="1" height="27.7" fill="#681062"/>
<rect x="176" y="178.1" width="1" height="27.7" fill="#7b0a5a"/>
<rect x="177" y="178.1" width="2" height="27.7" fill="#4a2887"/>
<rect x="179" y="178.1" width="2" height="27.7" fill="#4c2584"/>
<rect x="181" y="178.1" width="2" height="27.7" fill="#6e0e5f"/>
<rect x="183" y="178.1" width="2" height="27.7" fill="#641164"/>
<rect x="185" y="178.1" width="1" height="27.7" fill="#681062"/>
<rect x="186" y="178.1" width="2" height="27.7" fill="#631265"/>
<rect x="188" y="178.1" width="1" height="27.7" fill="#36449c"/>
<rect x="189" y="178.1" width="2" height="27.7" fill="#324ba3"/>
<rect x="191" y="178.1" width="1" height="27.7" fill="#3448a0"/>
<rect x="192" y="178.1" width="2" height="27.7" fill="#324ca4"/>
<rect x="194" y="178.1" width="2" height="27.7" fill="#35469e"/>
<rect x="196" y="178.1" width="1" height="27.7" fill="#38429a"/>
<rect x="197" y="178.1" width="4" height="27.7" fill="#394098"/>
<rect x="201" y="178.1" width="4" height="27.7" fill="#3a3f97"/>
<rect x="205" y="178.1" width="2" height="27.7" fill="#334aa2"/>
<rect x="207" y="178.1" width="1" height="27.7" fill="#6a0f61"/>
<rect x="208" y="178.1" width="2" height="27.7" fill="#720c5d"/>
<rect x="210" y="178.1" width="2" height="27.7" fill="#9d0c55"/>
<rect x="212" y="178.1" width="1" height="27.7" fill="#681062"/>
<rect x="213" y="178.1" width="1" height="27.7" fill="#611265"/>
<rect x="214" y="178.1" width="1" height="27.7" fill="#4f2380"/>
<rect x="215" y="178.1" width="1" height="27.7" fill="#541d76"/>
<rect x="216" y="178.1" width="1" height="27.7" fill="#3b3d95"/>
<rect x="217" y="178.1" width="3" height="27.7" fill="#571a71"/>
<rect x="220" y="178.1" width="1" height="27.7" fill="#700d5e"/>
<rect x="221" y="178.1" width="2" height="27.7" fill="#5e1367"/>
<rect x="223" y="178.1" width="2" height="27.7" fill="#5c1468"/>
<rect x="225" y="178.1" width="4" height="27.7" fill="#35469e"/>
<rect x="229" y="178.1" width="2" height="27.7" fill="#37439b"/>
<rect x="231" y="178.1" width="2" height="27.7" fill="#394098"/>
<rect x="233" y="178.1" width="1" height="27.7" fill="#35479f"/>
<rect x="234" y="178.1" width="1" height="27.7" fill="#37429a"/>
<rect x="235" y="178.1" width="1" height="27.7" fill="#35459d"/>
<rect x="236" y="178.1" width="2" height="27.7" fill="#b60c4c"/>
<rect x="238" y="178.1" width="1" height="27.7" fill="#ac0c51"/>
<rect x="239" y="178.1" width="3" height="27.7" fill="#b70c4c"/>
<rect x="242" y="178.1" width="3" height="27.7" fill="#b60c4c"/>
<rect x="245" y="178.1" width="4" height="27.7" fill="#b00c50"/>
<rect x="249" y="178.1" width="1" height="27.7" fill="#b50c4d"/>
<rect x="250" y="178.1" width="1" height="27.7" fill="#ae0c51"/>
<rect x="251" y="178.1" width="1" height="27.7" fill="#af0c50"/>
<rect x="252" y="178.1" width="3" height="27.7" fill="#b40c4d"/>
<rect x="255" y="178.1" width="4" height="27.7" fill="#b50c4d"/>
<rect x="259" y="178.1" width="4" height="27.7" fill="#ab0c51"/>
<rect x="263" y="178.1" width="1" height="27.7" fill="#b30c4e"/>
<rect x="264" y="178.1" width="3" height="27.7" fill="#b60c4c"/>
<rect x="267" y="178.1" width="4" height="27.7" fill="#af0c50"/>
<rect x="271" y="178.1" width="2" height="27.7" fill="#ba0c4a"/>
<rect x="273" y="178.1" width="3" height="27.7" fill="#b80c4b"/>
<rect x="276" y="178.1" width="1" height="27.7" fill="#b10c4f"/>
<rect x="277" y="178.1" width="3" height="27.7" fill="#b70c4b"/>
<rect x="280" y="178.1" width="5" height="27.7" fill="#af0c50"/>
<rect x="285" y="178.1" width="1" height="27.7" fill="#ba0c49"/>
<rect x="286" y="178.1" width="2" height="27.7" fill="#ae0c50"/>
<rect x="288" y="178.1" width="3" height="27.7" fill="#b40c4e"/>
<rect x="291" y="178.1" width="3" height="27.7" fill="#bb0c49"/>
<rect x="294" y="178.1" width="4" height="27.7" fill="#ba0c4a"/>
<rect x="298" y="178.1" width="1" height="27.7" fill="#af0c50"/>
<rect x="299" y="178.1" width="2" height="27.7" fill="#bf0c46"/>
<rect x="301" y="178.1" width="2" height="27.7" fill="#ab0c51"/>
<rect x="303" y="178.1" width="2" height="27.7" fill="#ae0c51"/>
<rect x="305" y="178.1" width="3" height="27.7" fill="#b40c4e"/>
<rect x="308" y="178.1" width="1" height="27.7" fill="#c40c43"/>
<rect x="309" y="178.1" width="4" height="27.7" fill="#b60c4c"/>
<rect x="313" y="178.1" width="2" height="27.7" fill="#b70c4c"/>
<rect x="315" y="178.1" width="3" height="27.7" fill="#b50c4d"/>
<rect x="318" y="178.1" width="1" height="27.7" fill="#b30c4e"/>
<rect x="319" y="178.1" width="4" height="27.7" fill="#b40c4d"/>
<rect x="323" y="178.1" width="3" height="27.7" fill="#b00c50"/>
<rect x="326" y="178.1" width="4" height="27.7" fill="#ae0c50"/>
<rect x="330" y="178.1" width="4" height="27.7" fill="#b10c4f"/>
<rect x="334" y="178.1" width="2" height="27.7" fill="#be0c47"/>
<rect x="336" y="178.1" width="4" height="27.7" fill="#bc0c48"/>
<rect x="340" y="178.1" width="1" height="27.7" fill="#b70c4b"/>
<rect x="341" y="178.1" width="2" height="27.7" fill="#b50c4d"/>
<rect x="343" y="178.1" width="3" height="27.7" fill="#b00c50"/>
<rect x="346" y="178.1" width="1" height="27.7" fill="#b40c4d"/>
<rect x="347" y="178.1" width="1" height="27.7" fill="#b20c4f"/>
<rect x="348" y="178.1" width="3" height="27.7" fill="#b60c4c"/>
<rect x="351" y="178.1" width="1" height="27.7" fill="#b70c4c"/>
<rect x="352" y="178.1" width="3" height="27.7" fill="#b20c4f"/>
<rect x="355" y="178.1" width="2" height="27.7" fill="#b40c4d"/>
<rect x="357" y="178.1" width="1" height="27.7" fill="#b10c50"/>
<rect x="358" y="178.1" width="4" height="27.7" fill="#b00c50"/>
<rect x="362" y="178.1" width="3" height="27.7" fill="#b90c4b"/>
<rect x="365" y="178.1" width="3" height="27.7" fill="#c40c43"/>
<rect x="368" y="178.1" width="1" height="27.7" fill="#b80c4b"/>
<rect x="369" y="178.1" width="2" height="27.7" fill="#b20c4f"/>
<rect x="371" y="178.1" width="2" height="27.7" fill="#b80c4b"/>
<rect x="373" y="178.1" width="4" height="27.7" fill="#a80c52"/>
<rect x="377" y="178.1" width="2" height="27.7" fill="#bb0c49"/>
<rect x="379" y="178.1" width="2" height="27.7" fill="#b60c4c"/>
<rect x="381" y="178.1" width="3" height="27.7" fill="#b30c4e"/>
<rect x="384" y="178.1" width="1" height="27.7" fill="#c20c44"/>
<rect x="385" y="178.1" width="1" height="27.7" fill="#b10c50"/>
<rect x="386" y="178.1" width="2" height="27.7" fill="#990c55"/>
<rect x="388" y="178.1" width="1" height="27.7" fill="#b40c4e"/>
<rect x="389" y="178.1" width="3" height="27.7" fill="#b60c4c"/>
<rect x="392" y="178.1" width="1" height="27.7" fill="#b90c4a"/>
<rect x="393" y="178.1" width="3" height="27.7" fill="#b20c4f"/>
<rect x="396" y="178.1" width="2" height="27.7" fill="#b10c50"/>
<rect x="398" y="178.1" width="2" height="27.7" fill="#b70c4c"/>
<rect x="400" y="178.1" width="4" height="27.7" fill="#a90c52"/>
<rect x="404" y="178.1" width="1" height="27.7" fill="#b90c4a"/>
<rect x="405" y="178.1" width="1" height="27.7" fill="#ab0c51"/>
<rect x="406" y="178.1" width="1" height="27.7" fill="#ba0c4a"/>
<rect x="407" y="178.1" width="4" height="27.7" fill="#af0c50"/>
<rect x="411" y="178.1" width="3" height="27.7" fill="#b30c4e"/>
<rect x="414" y="178.1" width="1" height="27.7" fill="#bc0c48"/>
<rect x="415" y="178.1" width="3" height="27.7" fill="#b70c4c"/>
<rect x="418" y="178.1" width="1" height="27.7" fill="#b60c4c"/>
<rect x="419" y="178.1" width="2" height="27.7" fill="#b50c4d"/>
<rect x="421" y="178.1" width="1" height="27.7" fill="#b60c4c"/>
<rect x="422" y="178.1" width="2" height="27.7" fill="#b20c4f"/>
<rect x="424" y="178.1" width="1" height="27.7" fill="#b70c4b"/>
<rect x="425" y="178.1" width="3" height="27.7" fill="#c20c45"/>
<rect x="428" y="178.1" width="2" height="27.7" fill="#b10c4f"/>
<rect x="430" y="178.1" width="1" height="27.7" fill="#ae0c51"/>
<rect x="431" y="178.1" width="1" height="27.7" fill="#b60c4c"/>
<rect x="432" y="178.1" width="4" height="27.7" fill="#b70c4c"/>
<rect x="436" y="178.1" width="2" height="27.7" fill="#b00c50"/>
<rect x="438" y="178.1" width="4" height="27.7" fill="#b20c4f"/>
<rect x="442" y="178.1" width="1" height="27.7" fill="#b40c4d"/>
<rect x="443" y="178.1" width="2" height="27.7" fill="#b00c50"/>
<rect x="445" y="178.1" width="3" height="27.7" fill="#b30c4e"/>
<rect x="448" y="178.1" width="2" height="27.7" fill="#b00c50"/>
<rect x="450" y="178.1" width="1" height="27.7" fill="#af0c50"/>
<rect x="451" y="178.1" width="3" height="27.7" fill="#b30c4e"/>
<rect x="454" y="178.1" width="2" height="27.7" fill="#af0c50"/>
<rect x="456" y="178.1" width="2" height="27.7" fill="#b00c50"/>
<rect x="458" y="178.1" width="1" height="27.7" fill="#b50c4d"/>
<rect x="459" y="178.1" width="3" height="27.7" fill="#b90c4a"/>
<rect x="462" y="178.1" width="3" height="27.7" fill="#af0c50"/>
<rect x="465" y="178.1" width="1" height="27.7" fill="#ba0c4a"/>
<rect x="466" y="178.1" width="2" height="27.7" fill="#bc0c48"/>
</g>
<rect x="50.0" y="255.5" width="196.0" height="106.0" fill="#232420"/>
<rect x="49.7" y="255.5" width="1.6" height="106.6" fill="#7a1c20"/>
<rect x="49.7" y="360.6" width="196.3" height="1.5" fill="#a82420"/>
<rect x="46.6" y="258.9" width="3.4" height="1.3" fill="#6e3434"/>
<rect x="48.4" y="264.9" width="1.6" height="1.1" fill="#7a3a3a" opacity="0.8"/>
<text x="43.7" y="263.6" class="ax" text-anchor="end">5</text>
<rect x="46.6" y="270.8" width="3.4" height="1.3" fill="#6e3434"/>
<rect x="48.4" y="276.9" width="1.6" height="1.1" fill="#7a3a3a" opacity="0.8"/>
<text x="43.7" y="275.6" class="ax" text-anchor="end">4</text>
<rect x="46.6" y="282.8" width="3.4" height="1.3" fill="#6e3434"/>
<rect x="48.4" y="288.8" width="1.6" height="1.1" fill="#7a3a3a" opacity="0.8"/>
<text x="43.7" y="287.5" class="ax" text-anchor="end">3</text>
<rect x="46.6" y="294.7" width="3.4" height="1.3" fill="#6e3434"/>
<rect x="48.4" y="300.8" width="1.6" height="1.1" fill="#7a3a3a" opacity="0.8"/>
<text x="43.7" y="299.5" class="ax" text-anchor="end">2</text>
<rect x="46.6" y="306.7" width="3.4" height="1.3" fill="#6e3434"/>
<rect x="48.4" y="312.7" width="1.6" height="1.1" fill="#7a3a3a" opacity="0.8"/>
<text x="43.7" y="311.4" class="ax" text-anchor="end">1</text>
<rect x="46.6" y="318.6" width="3.4" height="1.3" fill="#6e3434"/>
<rect x="48.4" y="324.7" width="1.6" height="1.1" fill="#7a3a3a" opacity="0.8"/>
<text x="43.7" y="323.4" class="ax" text-anchor="end">0</text>
<rect x="46.6" y="330.6" width="3.4" height="1.3" fill="#6e3434"/>
<rect x="48.4" y="336.6" width="1.6" height="1.1" fill="#7a3a3a" opacity="0.8"/>
<text x="43.7" y="335.3" class="ax" text-anchor="end">-1</text>
<rect x="46.6" y="342.5" width="3.4" height="1.3" fill="#6e3434"/>
<rect x="48.4" y="348.6" width="1.6" height="1.1" fill="#7a3a3a" opacity="0.8"/>
<text x="43.7" y="347.2" class="ax" text-anchor="end">-2</text>
<rect x="46.6" y="354.5" width="3.4" height="1.3" fill="#6e3434"/>
<text x="43.7" y="359.2" class="ax" text-anchor="end">-3</text>
<rect x="66.4" y="362.3" width="1.2" height="5" fill="#5a4652"/>
<rect x="96.4" y="362.3" width="1.2" height="5" fill="#5a4652"/>
<rect x="126.4" y="362.3" width="1.2" height="5" fill="#5a4652"/>
<rect x="156.4" y="362.3" width="1.2" height="5" fill="#5a4652"/>
<rect x="187.4" y="362.3" width="1.2" height="5" fill="#5a4652"/>
<rect x="217.4" y="362.3" width="1.2" height="5" fill="#5a4652"/>
<rect x="280.0" y="255.5" width="196.0" height="106.0" fill="#232420"/>
<rect x="279.7" y="255.5" width="1.6" height="106.6" fill="#7a1c20"/>
<rect x="279.7" y="360.6" width="196.3" height="1.5" fill="#a82420"/>
<rect x="276.6" y="258.9" width="3.4" height="1.3" fill="#6e3434"/>
<rect x="278.4" y="264.9" width="1.6" height="1.1" fill="#7a3a3a" opacity="0.8"/>
<text x="273.7" y="263.6" class="ax" text-anchor="end">5</text>
<rect x="276.6" y="270.8" width="3.4" height="1.3" fill="#6e3434"/>
<rect x="278.4" y="276.9" width="1.6" height="1.1" fill="#7a3a3a" opacity="0.8"/>
<text x="273.7" y="275.6" class="ax" text-anchor="end">4</text>
<rect x="276.6" y="282.8" width="3.4" height="1.3" fill="#6e3434"/>
<rect x="278.4" y="288.8" width="1.6" height="1.1" fill="#7a3a3a" opacity="0.8"/>
<text x="273.7" y="287.5" class="ax" text-anchor="end">3</text>
<rect x="276.6" y="294.7" width="3.4" height="1.3" fill="#6e3434"/>
<rect x="278.4" y="300.8" width="1.6" height="1.1" fill="#7a3a3a" opacity="0.8"/>
<text x="273.7" y="299.5" class="ax" text-anchor="end">2</text>
<rect x="276.6" y="306.7" width="3.4" height="1.3" fill="#6e3434"/>
<rect x="278.4" y="312.7" width="1.6" height="1.1" fill="#7a3a3a" opacity="0.8"/>
<text x="273.7" y="311.4" class="ax" text-anchor="end">1</text>
<rect x="276.6" y="318.6" width="3.4" height="1.3" fill="#6e3434"/>
<rect x="278.4" y="324.7" width="1.6" height="1.1" fill="#7a3a3a" opacity="0.8"/>
<text x="273.7" y="323.4" class="ax" text-anchor="end">0</text>
<rect x="276.6" y="330.6" width="3.4" height="1.3" fill="#6e3434"/>
<rect x="278.4" y="336.6" width="1.6" height="1.1" fill="#7a3a3a" opacity="0.8"/>
<text x="273.7" y="335.3" class="ax" text-anchor="end">-1</text>
<rect x="276.6" y="342.5" width="3.4" height="1.3" fill="#6e3434"/>
<rect x="278.4" y="348.6" width="1.6" height="1.1" fill="#7a3a3a" opacity="0.8"/>
<text x="273.7" y="347.2" class="ax" text-anchor="end">-2</text>
<rect x="276.6" y="354.5" width="3.4" height="1.3" fill="#6e3434"/>
<text x="273.7" y="359.2" class="ax" text-anchor="end">-3</text>
<rect x="298.2" y="362.3" width="1.2" height="5" fill="#5a4652"/>
<rect x="327.8" y="362.3" width="1.2" height="5" fill="#5a4652"/>
<rect x="357.4" y="362.3" width="1.2" height="5" fill="#5a4652"/>
<rect x="387.0" y="362.3" width="1.2" height="5" fill="#5a4652"/>
<rect x="417.4" y="362.3" width="1.2" height="5" fill="#5a4652"/>
<rect x="447.9" y="362.3" width="1.2" height="5" fill="#5a4652"/>
<rect x="50.0" y="375.8" width="196.0" height="104.7" fill="#232420"/>
<rect x="49.7" y="375.8" width="1.6" height="105.3" fill="#7a1c20"/>
<rect x="49.7" y="479.6" width="196.3" height="1.5" fill="#a82420"/>
<rect x="46.6" y="379.2" width="3.4" height="1.3" fill="#6e3434"/>
<rect x="48.4" y="385.2" width="1.6" height="1.1" fill="#7a3a3a" opacity="0.8"/>
<text x="43.7" y="383.9" class="ax" text-anchor="end">5</text>
<rect x="46.6" y="391.1" width="3.4" height="1.3" fill="#6e3434"/>
<rect x="48.4" y="397.2" width="1.6" height="1.1" fill="#7a3a3a" opacity="0.8"/>
<text x="43.7" y="395.9" class="ax" text-anchor="end">4</text>
<rect x="46.6" y="403.1" width="3.4" height="1.3" fill="#6e3434"/>
<rect x="48.4" y="409.1" width="1.6" height="1.1" fill="#7a3a3a" opacity="0.8"/>
<text x="43.7" y="407.8" class="ax" text-anchor="end">3</text>
<rect x="46.6" y="415.0" width="3.4" height="1.3" fill="#6e3434"/>
<rect x="48.4" y="421.1" width="1.6" height="1.1" fill="#7a3a3a" opacity="0.8"/>
<text x="43.7" y="419.8" class="ax" text-anchor="end">2</text>
<rect x="46.6" y="427.0" width="3.4" height="1.3" fill="#6e3434"/>
<rect x="48.4" y="433.0" width="1.6" height="1.1" fill="#7a3a3a" opacity="0.8"/>
<text x="43.7" y="431.7" class="ax" text-anchor="end">1</text>
<rect x="46.6" y="438.9" width="3.4" height="1.3" fill="#6e3434"/>
<rect x="48.4" y="445.0" width="1.6" height="1.1" fill="#7a3a3a" opacity="0.8"/>
<text x="43.7" y="443.7" class="ax" text-anchor="end">0</text>
<rect x="46.6" y="450.9" width="3.4" height="1.3" fill="#6e3434"/>
<rect x="48.4" y="456.9" width="1.6" height="1.1" fill="#7a3a3a" opacity="0.8"/>
<text x="43.7" y="455.6" class="ax" text-anchor="end">-1</text>
<rect x="46.6" y="462.8" width="3.4" height="1.3" fill="#6e3434"/>
<rect x="48.4" y="468.9" width="1.6" height="1.1" fill="#7a3a3a" opacity="0.8"/>
<text x="43.7" y="467.6" class="ax" text-anchor="end">-2</text>
<rect x="46.6" y="474.8" width="3.4" height="1.3" fill="#6e3434"/>
<text x="43.7" y="479.5" class="ax" text-anchor="end">-3</text>
<rect x="66.4" y="481.3" width="1.2" height="5" fill="#5a4652"/>
<rect x="96.4" y="481.3" width="1.2" height="5" fill="#5a4652"/>
<rect x="126.4" y="481.3" width="1.2" height="5" fill="#5a4652"/>
<rect x="156.4" y="481.3" width="1.2" height="5" fill="#5a4652"/>
<rect x="187.4" y="481.3" width="1.2" height="5" fill="#5a4652"/>
<rect x="217.4" y="481.3" width="1.2" height="5" fill="#5a4652"/>
<rect x="280.0" y="375.8" width="196.0" height="104.7" fill="#232420"/>
<rect x="279.7" y="375.8" width="1.6" height="105.3" fill="#7a1c20"/>
<rect x="279.7" y="479.6" width="196.3" height="1.5" fill="#a82420"/>
<rect x="276.6" y="379.2" width="3.4" height="1.3" fill="#6e3434"/>
<rect x="278.4" y="385.2" width="1.6" height="1.1" fill="#7a3a3a" opacity="0.8"/>
<text x="273.7" y="383.9" class="ax" text-anchor="end">5</text>
<rect x="276.6" y="391.1" width="3.4" height="1.3" fill="#6e3434"/>
<rect x="278.4" y="397.2" width="1.6" height="1.1" fill="#7a3a3a" opacity="0.8"/>
<text x="273.7" y="395.9" class="ax" text-anchor="end">4</text>
<rect x="276.6" y="403.1" width="3.4" height="1.3" fill="#6e3434"/>
<rect x="278.4" y="409.1" width="1.6" height="1.1" fill="#7a3a3a" opacity="0.8"/>
<text x="273.7" y="407.8" class="ax" text-anchor="end">3</text>
<rect x="276.6" y="415.0" width="3.4" height="1.3" fill="#6e3434"/>
<rect x="278.4" y="421.1" width="1.6" height="1.1" fill="#7a3a3a" opacity="0.8"/>
<text x="273.7" y="419.8" class="ax" text-anchor="end">2</text>
<rect x="276.6" y="427.0" width="3.4" height="1.3" fill="#6e3434"/>
<rect x="278.4" y="433.0" width="1.6" height="1.1" fill="#7a3a3a" opacity="0.8"/>
<text x="273.7" y="431.7" class="ax" text-anchor="end">1</text>
<rect x="276.6" y="438.9" width="3.4" height="1.3" fill="#6e3434"/>
<rect x="278.4" y="445.0" width="1.6" height="1.1" fill="#7a3a3a" opacity="0.8"/>
<text x="273.7" y="443.7" class="ax" text-anchor="end">0</text>
<rect x="276.6" y="450.9" width="3.4" height="1.3" fill="#6e3434"/>
<rect x="278.4" y="456.9" width="1.6" height="1.1" fill="#7a3a3a" opacity="0.8"/>
<text x="273.7" y="455.6" class="ax" text-anchor="end">-1</text>
<rect x="276.6" y="462.8" width="3.4" height="1.3" fill="#6e3434"/>
<rect x="278.4" y="468.9" width="1.6" height="1.1" fill="#7a3a3a" opacity="0.8"/>
<text x="273.7" y="467.6" class="ax" text-anchor="end">-2</text>
<rect x="276.6" y="474.8" width="3.4" height="1.3" fill="#6e3434"/>
<text x="273.7" y="479.5" class="ax" text-anchor="end">-3</text>
<rect x="298.2" y="481.3" width="1.2" height="5" fill="#5a4652"/>
<rect x="327.8" y="481.3" width="1.2" height="5" fill="#5a4652"/>
<rect x="357.4" y="481.3" width="1.2" height="5" fill="#5a4652"/>
<rect x="387.0" y="481.3" width="1.2" height="5" fill="#5a4652"/>
<rect x="417.4" y="481.3" width="1.2" height="5" fill="#5a4652"/>
<rect x="447.9" y="481.3" width="1.2" height="5" fill="#5a4652"/>
<rect x="50.0" y="496.2" width="196.0" height="105.0" fill="#232420"/>
<rect x="49.7" y="496.2" width="1.6" height="105.6" fill="#7a1c20"/>
<rect x="49.7" y="600.3" width="196.3" height="1.5" fill="#a82420"/>
<rect x="46.6" y="499.6" width="3.4" height="1.3" fill="#6e3434"/>
<rect x="48.4" y="505.6" width="1.6" height="1.1" fill="#7a3a3a" opacity="0.8"/>
<text x="43.7" y="504.3" class="ax" text-anchor="end">5</text>
<rect x="46.6" y="511.5" width="3.4" height="1.3" fill="#6e3434"/>
<rect x="48.4" y="517.6" width="1.6" height="1.1" fill="#7a3a3a" opacity="0.8"/>
<text x="43.7" y="516.2" class="ax" text-anchor="end">4</text>
<rect x="46.6" y="523.5" width="3.4" height="1.3" fill="#6e3434"/>
<rect x="48.4" y="529.5" width="1.6" height="1.1" fill="#7a3a3a" opacity="0.8"/>
<text x="43.7" y="528.2" class="ax" text-anchor="end">3</text>
<rect x="46.6" y="535.4" width="3.4" height="1.3" fill="#6e3434"/>
<rect x="48.4" y="541.5" width="1.6" height="1.1" fill="#7a3a3a" opacity="0.8"/>
<text x="43.7" y="540.1" class="ax" text-anchor="end">2</text>
<rect x="46.6" y="547.4" width="3.4" height="1.3" fill="#6e3434"/>
<rect x="48.4" y="553.4" width="1.6" height="1.1" fill="#7a3a3a" opacity="0.8"/>
<text x="43.7" y="552.1" class="ax" text-anchor="end">1</text>
<rect x="46.6" y="559.3" width="3.4" height="1.3" fill="#6e3434"/>
<rect x="48.4" y="565.4" width="1.6" height="1.1" fill="#7a3a3a" opacity="0.8"/>
<text x="43.7" y="564.1" class="ax" text-anchor="end">0</text>
<rect x="46.6" y="571.2" width="3.4" height="1.3" fill="#6e3434"/>
<rect x="48.4" y="577.3" width="1.6" height="1.1" fill="#7a3a3a" opacity="0.8"/>
<text x="43.7" y="576.0" class="ax" text-anchor="end">-1</text>
<rect x="46.6" y="583.2" width="3.4" height="1.3" fill="#6e3434"/>
<rect x="48.4" y="589.3" width="1.6" height="1.1" fill="#7a3a3a" opacity="0.8"/>
<text x="43.7" y="588.0" class="ax" text-anchor="end">-2</text>
<rect x="46.6" y="595.1" width="3.4" height="1.3" fill="#6e3434"/>
<text x="43.7" y="599.9" class="ax" text-anchor="end">-3</text>
<rect x="66.4" y="602.0" width="1.2" height="5" fill="#5a4652"/>
<rect x="96.4" y="602.0" width="1.2" height="5" fill="#5a4652"/>
<rect x="126.4" y="602.0" width="1.2" height="5" fill="#5a4652"/>
<rect x="156.4" y="602.0" width="1.2" height="5" fill="#5a4652"/>
<rect x="187.4" y="602.0" width="1.2" height="5" fill="#5a4652"/>
<rect x="217.4" y="602.0" width="1.2" height="5" fill="#5a4652"/>
<rect x="280.0" y="496.2" width="196.0" height="105.0" fill="#232420"/>
<rect x="279.7" y="496.2" width="1.6" height="105.6" fill="#7a1c20"/>
<rect x="279.7" y="600.3" width="196.3" height="1.5" fill="#a82420"/>
<rect x="276.6" y="499.6" width="3.4" height="1.3" fill="#6e3434"/>
<rect x="278.4" y="505.6" width="1.6" height="1.1" fill="#7a3a3a" opacity="0.8"/>
<text x="273.7" y="504.3" class="ax" text-anchor="end">5</text>
<rect x="276.6" y="511.5" width="3.4" height="1.3" fill="#6e3434"/>
<rect x="278.4" y="517.6" width="1.6" height="1.1" fill="#7a3a3a" opacity="0.8"/>
<text x="273.7" y="516.2" class="ax" text-anchor="end">4</text>
<rect x="276.6" y="523.5" width="3.4" height="1.3" fill="#6e3434"/>
<rect x="278.4" y="529.5" width="1.6" height="1.1" fill="#7a3a3a" opacity="0.8"/>
<text x="273.7" y="528.2" class="ax" text-anchor="end">3</text>
<rect x="276.6" y="535.4" width="3.4" height="1.3" fill="#6e3434"/>
<rect x="278.4" y="541.5" width="1.6" height="1.1" fill="#7a3a3a" opacity="0.8"/>
<text x="273.7" y="540.1" class="ax" text-anchor="end">2</text>
<rect x="276.6" y="547.4" width="3.4" height="1.3" fill="#6e3434"/>
<rect x="278.4" y="553.4" width="1.6" height="1.1" fill="#7a3a3a" opacity="0.8"/>
<text x="273.7" y="552.1" class="ax" text-anchor="end">1</text>
<rect x="276.6" y="559.3" width="3.4" height="1.3" fill="#6e3434"/>
<rect x="278.4" y="565.4" width="1.6" height="1.1" fill="#7a3a3a" opacity="0.8"/>
<text x="273.7" y="564.1" class="ax" text-anchor="end">0</text>
<rect x="276.6" y="571.2" width="3.4" height="1.3" fill="#6e3434"/>
<rect x="278.4" y="577.3" width="1.6" height="1.1" fill="#7a3a3a" opacity="0.8"/>
<text x="273.7" y="576.0" class="ax" text-anchor="end">-1</text>
<rect x="276.6" y="583.2" width="3.4" height="1.3" fill="#6e3434"/>
<rect x="278.4" y="589.3" width="1.6" height="1.1" fill="#7a3a3a" opacity="0.8"/>
<text x="273.7" y="588.0" class="ax" text-anchor="end">-2</text>
<rect x="276.6" y="595.1" width="3.4" height="1.3" fill="#6e3434"/>
<text x="273.7" y="599.9" class="ax" text-anchor="end">-3</text>
<rect x="298.2" y="602.0" width="1.2" height="5" fill="#5a4652"/>
<rect x="327.8" y="602.0" width="1.2" height="5" fill="#5a4652"/>
<rect x="357.4" y="602.0" width="1.2" height="5" fill="#5a4652"/>
<rect x="387.0" y="602.0" width="1.2" height="5" fill="#5a4652"/>
<rect x="417.4" y="602.0" width="1.2" height="5" fill="#5a4652"/>
<rect x="447.9" y="602.0" width="1.2" height="5" fill="#5a4652"/>
<g filter="url(#bb)"><rect x="64.0" y="319.2" width="1" height="9.3" fill="url(#bd0b)" opacity="0.84"/>
<rect x="65.0" y="319.2" width="1" height="10.8" fill="url(#bd0b)" opacity="0.89"/>
<rect x="66.0" y="319.2" width="1" height="7.8" fill="url(#bd0a)" opacity="0.86"/>
<rect x="67.0" y="319.2" width="1" height="9.5" fill="url(#bd0b)" opacity="0.99"/>
<rect x="68.0" y="319.2" width="1" height="6.9" fill="url(#bd0a)" opacity="0.95"/>
<rect x="68.0" y="319.2" width="1" height="15.2" fill="url(#bd0a)" opacity="0.7"/>
<rect x="69.0" y="319.2" width="1" height="10.6" fill="url(#bd0b)" opacity="0.83"/>
<rect x="70.0" y="319.2" width="1" height="9.8" fill="url(#bd0b)" opacity="0.70"/>
<rect x="70.0" y="319.2" width="1" height="23.0" fill="url(#bd0b)" opacity="0.7"/>
<rect x="72.0" y="319.2" width="1" height="10.2" fill="url(#bd0b)" opacity="0.93"/>
<rect x="73.0" y="319.2" width="1" height="9.3" fill="url(#bd0a)" opacity="0.82"/>
<rect x="74.0" y="319.2" width="1" height="11.7" fill="url(#bd0a)" opacity="0.76"/>
<rect x="75.0" y="319.2" width="1" height="8.2" fill="url(#bd0b)" opacity="0.83"/>
<rect x="76.0" y="319.2" width="1" height="10.0" fill="url(#bd0b)" opacity="0.73"/>
<rect x="76.0" y="319.2" width="1" height="32.2" fill="url(#bd0a)" opacity="0.7"/>
<rect x="77.0" y="319.2" width="1" height="10.2" fill="url(#bd0a)" opacity="0.72"/>
<rect x="78.0" y="319.2" width="1" height="9.3" fill="url(#bd0b)" opacity="0.85"/>
<rect x="79.0" y="319.2" width="1" height="8.5" fill="url(#bd0b)" opacity="0.73"/>
<rect x="80.0" y="319.2" width="1" height="7.6" fill="url(#bd0b)" opacity="1.00"/>
<rect x="80.0" y="319.2" width="1" height="15.8" fill="url(#bd0a)" opacity="0.7"/>
<rect x="81.0" y="319.2" width="1" height="6.8" fill="url(#bd0b)" opacity="0.78"/>
<rect x="82.0" y="319.2" width="1" height="7.7" fill="url(#bd0a)" opacity="0.72"/>
<rect x="82.0" y="319.2" width="1" height="22.6" fill="url(#bd0a)" opacity="0.7"/>
<rect x="83.0" y="319.2" width="1" height="8.2" fill="url(#bd0b)" opacity="0.74"/>
<rect x="84.0" y="319.2" width="1" height="6.8" fill="url(#bd0b)" opacity="0.75"/>
<rect x="84.0" y="319.2" width="1" height="30.3" fill="url(#bd0a)" opacity="0.7"/>
<rect x="85.0" y="319.2" width="1" height="6.9" fill="url(#bd0a)" opacity="0.91"/>
<rect x="86.0" y="319.2" width="1" height="6.4" fill="url(#bd0a)" opacity="0.73"/>
<rect x="86.0" y="319.2" width="1" height="32.1" fill="url(#bd0a)" opacity="0.7"/>
<rect x="87.0" y="319.2" width="1" height="8.3" fill="url(#bd0b)" opacity="0.95"/>
<rect x="88.0" y="319.2" width="1" height="7.0" fill="url(#bd0a)" opacity="0.74"/>
<rect x="89.0" y="319.2" width="1" height="9.7" fill="url(#bd0a)" opacity="0.78"/>
<rect x="91.0" y="319.2" width="1" height="5.9" fill="url(#bdd0c)" opacity="0.82"/>
<rect x="92.0" y="319.2" width="1" height="4.0" fill="url(#bdd0c)" opacity="0.73"/>
<rect x="93.0" y="319.2" width="1" height="3.6" fill="url(#bdd0c)" opacity="0.88"/>
<rect x="94.0" y="319.2" width="1" height="3.4" fill="url(#bdd0c)" opacity="0.99"/>
<rect x="94.0" y="312.7" width="1" height="6.5" fill="url(#bdd0u)" opacity="0.7"/>
<rect x="95.0" y="319.2" width="1" height="3.7" fill="url(#bdd0c)" opacity="1.00"/>
<rect x="95.0" y="313.7" width="1" height="5.5" fill="url(#bdd0u)" opacity="0.7"/>
<rect x="97.0" y="319.2" width="1" height="0.8" fill="url(#bdd0c)" opacity="0.81"/>
<rect x="99.0" y="319.2" width="1" height="0.8" fill="url(#bdd0c)" opacity="0.87"/>
<rect x="100.0" y="319.2" width="1" height="1.8" fill="url(#bdd0c)" opacity="0.72"/>
<rect x="102.0" y="319.2" width="1" height="3.2" fill="url(#bdd0c)" opacity="0.83"/>
<rect x="103.0" y="319.2" width="1" height="0.8" fill="url(#bdd0c)" opacity="0.79"/>
<rect x="103.0" y="316.4" width="1" height="2.8" fill="url(#bdd0u)" opacity="0.7"/>
<rect x="104.0" y="319.2" width="1" height="1.6" fill="url(#bdd0c)" opacity="0.78"/>
<rect x="104.0" y="315.6" width="1" height="3.6" fill="url(#bdd0u)" opacity="0.7"/>
<rect x="105.0" y="319.2" width="1" height="0.8" fill="url(#bdd0c)" opacity="0.90"/>
<rect x="107.0" y="319.2" width="1" height="4.6" fill="url(#bdd0c)" opacity="0.94"/>
<rect x="108.0" y="319.2" width="1" height="4.4" fill="url(#bdd0c)" opacity="0.87"/>
<rect x="109.0" y="319.2" width="1" height="2.4" fill="url(#bdd0c)" opacity="0.91"/>
<rect x="110.0" y="319.2" width="1" height="4.8" fill="url(#bdd0c)" opacity="0.84"/>
<rect x="112.0" y="319.2" width="1" height="1.2" fill="url(#bdd0c)" opacity="0.80"/>
<rect x="113.0" y="319.2" width="1" height="1.6" fill="url(#bdd0c)" opacity="0.87"/>
<rect x="114.0" y="319.2" width="1" height="5.8" fill="url(#bdd0c)" opacity="0.82"/>
<rect x="115.0" y="319.2" width="1" height="4.1" fill="url(#bdd0c)" opacity="0.94"/>
<rect x="116.0" y="319.2" width="1" height="5.2" fill="url(#bdd0c)" opacity="0.99"/>
<rect x="117.0" y="319.2" width="1" height="2.6" fill="url(#bdd0c)" opacity="0.91"/>
<rect x="118.0" y="319.2" width="1" height="5.7" fill="url(#bdd0c)" opacity="0.78"/>
<rect x="119.0" y="319.2" width="1" height="2.2" fill="url(#bdd0c)" opacity="0.82"/>
<rect x="120.0" y="308.5" width="1" height="10.8" fill="url(#bdd0u)" opacity="0.7"/>
<rect x="121.0" y="319.2" width="1" height="2.7" fill="url(#bdd0c)" opacity="0.81"/>
<rect x="125.0" y="319.2" width="1" height="8.6" fill="url(#bd0a)" opacity="0.76"/>
<rect x="127.0" y="319.2" width="1" height="12.8" fill="url(#bd0b)" opacity="0.78"/>
<rect x="128.0" y="319.2" width="1" height="10.8" fill="url(#bd0a)" opacity="0.83"/>
<rect x="129.0" y="319.2" width="1" height="10.7" fill="url(#bd0a)" opacity="0.77"/>
<rect x="130.0" y="319.2" width="1" height="7.4" fill="url(#bd0b)" opacity="0.91"/>
<rect x="131.0" y="319.2" width="1" height="14.3" fill="url(#bd0b)" opacity="0.98"/>
<rect x="132.0" y="319.2" width="1" height="15.9" fill="url(#bd0b)" opacity="0.7"/>
<rect x="133.0" y="319.2" width="1" height="11.2" fill="url(#bd0a)" opacity="0.86"/>
<rect x="134.0" y="319.2" width="1" height="9.4" fill="url(#bd0b)" opacity="0.99"/>
<rect x="135.0" y="319.2" width="1" height="9.4" fill="url(#bd0a)" opacity="0.99"/>
<rect x="136.0" y="319.2" width="1" height="8.6" fill="url(#bd0a)" opacity="0.85"/>
<rect x="137.0" y="319.2" width="1" height="14.1" fill="url(#bd0b)" opacity="0.86"/>
<rect x="138.0" y="319.2" width="1" height="7.8" fill="url(#bd0a)" opacity="0.72"/>
<rect x="139.0" y="319.2" width="1" height="14.0" fill="url(#bd0b)" opacity="0.78"/>
<rect x="140.0" y="319.2" width="1" height="10.3" fill="url(#bd0b)" opacity="0.86"/>
<rect x="140.0" y="319.2" width="1" height="16.8" fill="url(#bd0a)" opacity="0.7"/>
<rect x="141.0" y="319.2" width="1" height="19.9" fill="url(#bd0a)" opacity="0.7"/>
<rect x="142.0" y="319.2" width="1" height="8.3" fill="url(#bd0a)" opacity="0.91"/>
<rect x="142.0" y="319.2" width="1" height="16.5" fill="url(#bd0b)" opacity="0.7"/>
<rect x="143.0" y="319.2" width="1" height="12.4" fill="url(#bd0a)" opacity="0.96"/>
<rect x="144.0" y="319.2" width="1" height="12.2" fill="url(#bd0b)" opacity="0.71"/>
<rect x="145.0" y="319.2" width="1" height="11.6" fill="url(#bd0a)" opacity="0.96"/>
<rect x="146.0" y="319.2" width="1" height="8.7" fill="url(#bd0a)" opacity="0.77"/>
<rect x="153.0" y="319.2" width="1" height="13.8" fill="url(#bd0b)" opacity="0.88"/>
<rect x="154.0" y="319.2" width="1" height="13.0" fill="url(#bd0a)" opacity="0.97"/>
<rect x="154.0" y="319.2" width="1" height="18.4" fill="url(#bd0a)" opacity="0.7"/>
<rect x="155.0" y="319.2" width="1" height="8.9" fill="url(#bd0b)" opacity="0.86"/>
<rect x="156.0" y="319.2" width="1" height="12.1" fill="url(#bd0a)" opacity="0.73"/>
<rect x="157.0" y="319.2" width="1" height="13.3" fill="url(#bd0b)" opacity="0.73"/>
<rect x="158.0" y="319.2" width="1" height="11.4" fill="url(#bd0a)" opacity="0.94"/>
<rect x="159.0" y="319.2" width="1" height="12.9" fill="url(#bd0b)" opacity="0.74"/>
<rect x="159.0" y="319.2" width="1" height="18.1" fill="url(#bd0a)" opacity="0.7"/>
<rect x="161.0" y="319.2" width="1" height="8.7" fill="url(#bd0b)" opacity="0.72"/>
<rect x="161.0" y="319.2" width="1" height="20.0" fill="url(#bd0b)" opacity="0.7"/>
<rect x="162.0" y="319.2" width="1" height="10.9" fill="url(#bd0b)" opacity="0.70"/>
<rect x="163.0" y="319.2" width="1" height="9.4" fill="url(#bd0b)" opacity="0.81"/>
<rect x="163.0" y="319.2" width="1" height="32.1" fill="url(#bd0a)" opacity="0.7"/>
<rect x="164.0" y="319.2" width="1" height="13.1" fill="url(#bd0b)" opacity="0.97"/>
<rect x="165.0" y="319.2" width="1" height="13.5" fill="url(#bd0b)" opacity="0.87"/>
<rect x="165.0" y="319.2" width="1" height="23.3" fill="url(#bd0b)" opacity="0.7"/>
<rect x="166.0" y="319.2" width="1" height="9.9" fill="url(#bd0a)" opacity="0.92"/>
<rect x="167.0" y="319.2" width="1" height="10.8" fill="url(#bd0b)" opacity="0.96"/>
<rect x="168.0" y="319.2" width="1" height="12.9" fill="url(#bd0b)" opacity="0.76"/>
<rect x="168.0" y="319.2" width="1" height="28.4" fill="url(#bd0b)" opacity="0.7"/>
<rect x="169.0" y="319.2" width="1" height="8.4" fill="url(#bd0b)" opacity="1.00"/>
<rect x="170.0" y="319.2" width="1" height="10.0" fill="url(#bd0b)" opacity="0.80"/>
<rect x="171.0" y="319.2" width="1" height="11.6" fill="url(#bd0b)" opacity="0.85"/>
<rect x="172.0" y="319.2" width="1" height="9.1" fill="url(#bd0b)" opacity="0.99"/>
<rect x="172.0" y="319.2" width="1" height="23.9" fill="url(#bd0a)" opacity="0.7"/>
<rect x="173.0" y="319.2" width="1" height="10.8" fill="url(#bd0a)" opacity="0.93"/>
<rect x="174.0" y="319.2" width="1" height="9.9" fill="url(#bd0b)" opacity="0.97"/>
<rect x="175.0" y="319.2" width="1" height="14.1" fill="url(#bd0a)" opacity="0.89"/>
<rect x="176.0" y="319.2" width="1" height="11.9" fill="url(#bd0a)" opacity="0.82"/>
<rect x="177.0" y="319.2" width="1" height="14.2" fill="url(#bd0b)" opacity="0.86"/>
<rect x="178.0" y="319.2" width="1" height="11.3" fill="url(#bd0b)" opacity="0.86"/>
<rect x="179.0" y="319.2" width="1" height="10.1" fill="url(#bd0b)" opacity="0.87"/>
<rect x="179.0" y="319.2" width="1" height="26.3" fill="url(#bd0b)" opacity="0.7"/>
<rect x="185.0" y="319.2" width="1" height="13.9" fill="url(#bd0a)" opacity="0.89"/>
<rect x="186.0" y="319.2" width="1" height="8.7" fill="url(#bd0b)" opacity="0.92"/>
<rect x="186.0" y="319.2" width="1" height="34.3" fill="url(#bd0b)" opacity="0.7"/>
<rect x="187.0" y="319.2" width="1" height="14.9" fill="url(#bd0b)" opacity="0.92"/>
<rect x="187.0" y="319.2" width="1" height="27.7" fill="url(#bd0a)" opacity="0.7"/>
<rect x="188.0" y="319.2" width="1" height="15.1" fill="url(#bd0b)" opacity="0.74"/>
<rect x="189.0" y="319.2" width="1" height="13.4" fill="url(#bd0a)" opacity="0.89"/>
<rect x="190.0" y="319.2" width="1" height="8.7" fill="url(#bd0a)" opacity="0.74"/>
<rect x="191.0" y="319.2" width="1" height="11.6" fill="url(#bd0b)" opacity="0.89"/>
<rect x="192.0" y="319.2" width="1" height="13.7" fill="url(#bd0a)" opacity="0.99"/>
<rect x="193.0" y="319.2" width="1" height="9.2" fill="url(#bd0b)" opacity="0.94"/>
<rect x="194.0" y="319.2" width="1" height="10.3" fill="url(#bd0a)" opacity="0.89"/>
<rect x="195.0" y="319.2" width="1" height="10.2" fill="url(#bd0a)" opacity="0.96"/>
<rect x="195.0" y="319.2" width="1" height="18.5" fill="url(#bd0b)" opacity="0.7"/>
<rect x="196.0" y="319.2" width="1" height="8.6" fill="url(#bd0a)" opacity="0.73"/>
<rect x="197.0" y="319.2" width="1" height="9.0" fill="url(#bd0a)" opacity="0.87"/>
<rect x="198.0" y="319.2" width="1" height="11.8" fill="url(#bd0a)" opacity="0.80"/>
<rect x="199.0" y="319.2" width="1" height="14.6" fill="url(#bd0a)" opacity="0.83"/>
<rect x="200.0" y="319.2" width="1" height="13.9" fill="url(#bd0b)" opacity="0.83"/>
<rect x="200.0" y="319.2" width="1" height="29.1" fill="url(#bd0b)" opacity="0.7"/>
<rect x="201.0" y="319.2" width="1" height="14.4" fill="url(#bd0b)" opacity="0.79"/>
<rect x="202.0" y="319.2" width="1" height="9.7" fill="url(#bd0b)" opacity="0.87"/>
<rect x="203.0" y="319.2" width="1" height="12.3" fill="url(#bd0b)" opacity="0.87"/>
<rect x="204.0" y="319.2" width="1" height="10.5" fill="url(#bd0a)" opacity="0.72"/>
<rect x="204.0" y="319.2" width="1" height="25.5" fill="url(#bd0a)" opacity="0.7"/>
<rect x="205.0" y="319.2" width="1" height="11.9" fill="url(#bd0b)" opacity="0.78"/>
<rect x="205.0" y="319.2" width="1" height="20.5" fill="url(#bd0b)" opacity="0.7"/>
<rect x="206.0" y="319.2" width="1" height="9.2" fill="url(#bd0b)" opacity="0.87"/>
<rect x="215.0" y="319.2" width="1" height="12.9" fill="url(#bd0b)" opacity="0.84"/>
<rect x="215.0" y="319.2" width="1" height="30.2" fill="url(#bd0a)" opacity="0.7"/>
<rect x="216.0" y="319.2" width="1" height="13.1" fill="url(#bd0a)" opacity="0.81"/>
<rect x="216.0" y="319.2" width="1" height="19.0" fill="url(#bd0a)" opacity="0.7"/>
<rect x="217.0" y="319.2" width="1" height="9.8" fill="url(#bd0b)" opacity="0.86"/>
<rect x="218.0" y="319.2" width="1" height="8.4" fill="url(#bd0b)" opacity="0.96"/>
<rect x="218.0" y="319.2" width="1" height="16.9" fill="url(#bd0a)" opacity="0.7"/>
<rect x="219.0" y="319.2" width="1" height="11.2" fill="url(#bd0a)" opacity="0.90"/>
<rect x="220.0" y="319.2" width="1" height="11.1" fill="url(#bd0a)" opacity="0.80"/>
<rect x="220.0" y="319.2" width="1" height="17.0" fill="url(#bd0b)" opacity="0.7"/>
<rect x="221.0" y="319.2" width="1" height="11.7" fill="url(#bd0a)" opacity="0.73"/>
<rect x="222.0" y="319.2" width="1" height="12.3" fill="url(#bd0b)" opacity="0.93"/>
<rect x="223.0" y="319.2" width="1" height="10.0" fill="url(#bd0b)" opacity="0.94"/>
<rect x="223.0" y="319.2" width="1" height="17.1" fill="url(#bd0b)" opacity="0.7"/>
<rect x="224.0" y="319.2" width="1" height="12.3" fill="url(#bd0a)" opacity="0.82"/>
<rect x="225.0" y="319.2" width="1" height="13.3" fill="url(#bd0b)" opacity="0.95"/>
<rect x="227.0" y="319.2" width="1" height="12.3" fill="url(#bd0a)" opacity="0.83"/>
<rect x="228.0" y="319.2" width="1" height="12.5" fill="url(#bd0b)" opacity="0.91"/>
<rect x="228.0" y="319.2" width="1" height="19.0" fill="url(#bd0b)" opacity="0.7"/>
<rect x="229.0" y="319.2" width="1" height="13.5" fill="url(#bd0b)" opacity="0.79"/>
<rect x="229.0" y="319.2" width="1" height="22.8" fill="url(#bd0a)" opacity="0.7"/>
<rect x="231.0" y="319.2" width="1" height="10.6" fill="url(#bd0a)" opacity="0.79"/>
<rect x="231.0" y="319.2" width="1" height="18.7" fill="url(#bd0a)" opacity="0.7"/>
<rect x="232.0" y="319.2" width="1" height="10.6" fill="url(#bd0a)" opacity="0.83"/>
<rect x="233.0" y="319.2" width="1" height="13.7" fill="url(#bd0b)" opacity="0.89"/>
<rect x="234.0" y="319.2" width="1" height="13.3" fill="url(#bd0b)" opacity="0.97"/>
<rect x="235.0" y="319.2" width="1" height="11.1" fill="url(#bd0a)" opacity="0.84"/>
<rect x="235.0" y="319.2" width="1" height="16.9" fill="url(#bd0a)" opacity="0.7"/>
<rect x="236.0" y="319.2" width="1" height="9.9" fill="url(#bd0b)" opacity="0.94"/>
<rect x="236.0" y="319.2" width="1" height="29.0" fill="url(#bd0a)" opacity="0.7"/>
<rect x="238.0" y="319.2" width="1" height="8.9" fill="url(#bd0b)" opacity="0.88"/>
<rect x="238.0" y="319.2" width="1" height="17.2" fill="url(#bd0b)" opacity="0.7"/>
<rect x="239.0" y="319.2" width="1" height="13.7" fill="url(#bd0a)" opacity="0.89"/></g>
<rect x="51" y="354" width="194" height="0.8" fill="#1a4a7a" opacity="0.5"/>
<rect x="65" y="438.8" width="1" height="7.9" fill="#1a6ab8"/>
<rect x="66" y="439.3" width="1" height="9.2" fill="#2070c0"/>
<rect x="67" y="439.1" width="1" height="7.3" fill="#1a6ab8"/>
<rect x="69" y="440.1" width="1" height="4.8" fill="#1a6ab8"/>
<rect x="80" y="439.7" width="1" height="7.1" fill="#2070c0"/>
<rect x="82" y="438.3" width="1" height="9.8" fill="#1a6ab8"/>
<rect x="83" y="437.9" width="1" height="10.5" fill="#1a5fa8"/>
<rect x="84" y="439.1" width="1" height="9.2" fill="#1a6ab8"/>
<rect x="94" y="440.5" width="1" height="5.4" fill="#2070c0"/>
<rect x="95" y="438.9" width="1" height="6.7" fill="#1a5fa8"/>
<rect x="96" y="440.2" width="1" height="3.4" fill="#16559a"/>
<rect x="97" y="438.7" width="1" height="6.4" fill="#16559a"/>
<rect x="105" y="439.7" width="1" height="4.7" fill="#1a6ab8"/>
<rect x="106" y="439.5" width="1" height="8.1" fill="#1a5fa8"/>
<rect x="107" y="439.6" width="1" height="5.8" fill="#1a5fa8"/>
<rect x="109" y="439.9" width="1" height="3.6" fill="#2070c0"/>
<rect x="110" y="438.8" width="1" height="6.1" fill="#1a5fa8"/>
<rect x="113" y="439.7" width="1" height="5.4" fill="#2070c0"/>
<rect x="114" y="439.3" width="1" height="9.0" fill="#1a6ab8"/>
<rect x="115" y="440.2" width="1" height="5.9" fill="#1a6ab8"/>
<rect x="117" y="438.4" width="1" height="6.1" fill="#16559a"/>
<rect x="124" y="439.2" width="1" height="8.2" fill="#1a6ab8"/>
<rect x="125" y="437.8" width="1" height="10.7" fill="#1a6ab8"/>
<rect x="126" y="438.4" width="1" height="6.5" fill="#16559a"/>
<rect x="127" y="439.2" width="1" height="5.2" fill="#2070c0"/>
<rect x="128" y="438.7" width="1" height="6.3" fill="#2070c0"/>
<rect x="130" y="438.1" width="1" height="6.6" fill="#16559a"/>
<rect x="131" y="438.8" width="1" height="8.9" fill="#2070c0"/>
<rect x="140" y="439.9" width="1" height="4.4" fill="#16559a"/>
<rect x="141" y="440.7" width="1" height="2.5" fill="#16559a"/>
<rect x="142" y="439.4" width="1" height="5.0" fill="#1a5fa8"/>
<rect x="143" y="438.0" width="1" height="8.5" fill="#16559a"/>
<rect x="147" y="438.1" width="1" height="8.2" fill="#1a6ab8"/>
<rect x="148" y="439.6" width="1" height="5.4" fill="#2070c0"/>
<rect x="149" y="438.6" width="1" height="4.6" fill="#1a5fa8"/>
<rect x="157" y="439.6" width="1" height="7.8" fill="#1a5fa8"/>
<rect x="158" y="439.9" width="1" height="4.2" fill="#2070c0"/>
<rect x="159" y="439.1" width="1" height="4.7" fill="#2070c0"/>
<rect x="160" y="439.7" width="1" height="3.8" fill="#1a5fa8"/>
<rect x="170" y="440.5" width="1" height="3.4" fill="#16559a"/>
<rect x="171" y="438.7" width="1" height="5.4" fill="#2070c0"/>
<rect x="172" y="439.3" width="1" height="4.0" fill="#2070c0"/>
<rect x="173" y="439.0" width="1" height="4.5" fill="#2070c0"/>
<rect x="174" y="437.9" width="1" height="7.0" fill="#1a5fa8"/>
<rect x="185" y="438.7" width="1" height="9.0" fill="#16559a"/>
<rect x="186" y="439.2" width="1" height="8.8" fill="#16559a"/>
<rect x="187" y="438.9" width="1" height="6.7" fill="#1a6ab8"/>
<rect x="188" y="440.6" width="1" height="6.8" fill="#1a6ab8"/>
<rect x="189" y="438.4" width="1" height="8.5" fill="#2070c0"/>
<rect x="201" y="439.1" width="1" height="9.3" fill="#16559a"/>
<rect x="202" y="439.8" width="1" height="7.3" fill="#2070c0"/>
<rect x="204" y="439.3" width="1" height="4.7" fill="#1a6ab8"/>
<rect x="205" y="438.3" width="1" height="5.0" fill="#16559a"/>
<rect x="206" y="439.9" width="1" height="6.6" fill="#16559a"/>
<rect x="207" y="440.6" width="1" height="3.9" fill="#2070c0"/>
<rect x="215" y="440.0" width="1" height="6.5" fill="#2070c0"/>
<rect x="217" y="438.3" width="1" height="9.9" fill="#1a6ab8"/>
<rect x="218" y="440.0" width="1" height="4.3" fill="#16559a"/>
<rect x="219" y="438.2" width="1" height="5.2" fill="#16559a"/>
<rect x="234" y="438.5" width="1" height="9.3" fill="#1a5fa8"/>
<rect x="235" y="438.3" width="1" height="5.0" fill="#1a6ab8"/>
<rect x="236" y="439.9" width="1" height="7.1" fill="#1a6ab8"/>
<rect x="161" y="439.6" width="1" height="15.5" fill="#1a66b4" opacity="0.8"/>
<rect x="217" y="439.6" width="1" height="23.9" fill="#1a66b4" opacity="0.8"/>
<rect x="226" y="426.4" width="1" height="13.1" fill="#1a66b4" opacity="0.8"/>
<rect x="97" y="439.6" width="1" height="10.8" fill="#1a66b4" opacity="0.8"/>
<rect x="130" y="439.6" width="1" height="11.9" fill="#1a66b4" opacity="0.8"/>
<g filter="url(#bb)"><rect x="65.0" y="560.0" width="1" height="11.3" fill="url(#bd2a)" opacity="0.90"/>
<rect x="67.0" y="560.0" width="1" height="7.6" fill="url(#bd2a)" opacity="0.92"/>
<rect x="67.0" y="560.0" width="1" height="14.9" fill="url(#bd2a)" opacity="0.7"/>
<rect x="69.0" y="560.0" width="1" height="11.9" fill="url(#bd2b)" opacity="0.95"/>
<rect x="71.0" y="560.0" width="1" height="12.2" fill="url(#bd2b)" opacity="0.97"/>
<rect x="74.0" y="560.0" width="1" height="9.2" fill="url(#bd2b)" opacity="0.91"/>
<rect x="75.0" y="560.0" width="1" height="8.0" fill="url(#bd2b)" opacity="0.86"/>
<rect x="75.0" y="560.0" width="1" height="15.1" fill="url(#bd2b)" opacity="0.7"/>
<rect x="76.0" y="560.0" width="1" height="9.9" fill="url(#bd2b)" opacity="0.82"/>
<rect x="76.0" y="560.0" width="1" height="17.0" fill="url(#bd2a)" opacity="0.7"/>
<rect x="77.0" y="560.0" width="1" height="12.5" fill="url(#bd2b)" opacity="0.74"/>
<rect x="78.0" y="560.0" width="1" height="9.9" fill="url(#bd2a)" opacity="0.92"/>
<rect x="79.0" y="560.0" width="1" height="8.0" fill="url(#bd2b)" opacity="0.89"/>
<rect x="79.0" y="560.0" width="1" height="16.3" fill="url(#bd2b)" opacity="0.7"/>
<rect x="81.0" y="560.0" width="1" height="12.3" fill="url(#bd2b)" opacity="0.86"/>
<rect x="83.0" y="560.0" width="1" height="10.1" fill="url(#bd2a)" opacity="0.87"/>
<rect x="84.0" y="560.0" width="1" height="11.5" fill="url(#bd2b)" opacity="0.75"/>
<rect x="84.0" y="560.0" width="1" height="20.4" fill="url(#bd2a)" opacity="0.7"/>
<rect x="85.0" y="560.0" width="1" height="16.4" fill="url(#bd2a)" opacity="0.7"/>
<rect x="87.0" y="560.0" width="1" height="10.3" fill="url(#bd2a)" opacity="1.00"/>
<rect x="87.0" y="560.0" width="1" height="15.6" fill="url(#bd2b)" opacity="0.7"/>
<rect x="88.0" y="560.0" width="1" height="11.3" fill="url(#bd2b)" opacity="0.86"/>
<rect x="95.0" y="560.0" width="1" height="0.8" fill="url(#bdd2c)" opacity="0.85"/>
<rect x="96.0" y="558.7" width="1" height="1.2" fill="url(#bu2d)" opacity="0.79"/>
<rect x="96.0" y="550.6" width="1" height="9.3" fill="url(#bu2d)" opacity="0.7"/>
<rect x="97.0" y="560.0" width="1" height="1.2" fill="url(#bdd2c)" opacity="0.78"/>
<rect x="98.0" y="560.0" width="1" height="1.4" fill="url(#bdd2c)" opacity="0.83"/>
<rect x="99.0" y="560.0" width="1" height="0.8" fill="url(#bdd2c)" opacity="0.73"/>
<rect x="100.0" y="560.0" width="1" height="4.1" fill="url(#bdd2c)" opacity="0.76"/>
<rect x="101.0" y="560.0" width="1" height="0.8" fill="url(#bdd2c)" opacity="0.86"/>
<rect x="102.0" y="560.0" width="1" height="3.6" fill="url(#bdd2c)" opacity="0.95"/>
<rect x="103.0" y="559.7" width="1" height="0.8" fill="url(#bu2d)" opacity="0.80"/>
<rect x="103.0" y="550.7" width="1" height="9.3" fill="url(#bu2d)" opacity="0.7"/>
<rect x="104.0" y="558.1" width="1" height="1.9" fill="url(#bu2d)" opacity="0.99"/>
<rect x="104.0" y="551.7" width="1" height="8.2" fill="url(#bu2d)" opacity="0.7"/>
<rect x="107.0" y="553.6" width="1" height="6.4" fill="url(#bu2d)" opacity="0.80"/>
<rect x="108.0" y="556.0" width="1" height="4.0" fill="url(#bu2d)" opacity="0.86"/>
<rect x="109.0" y="557.6" width="1" height="2.3" fill="url(#bu2d)" opacity="0.95"/>
<rect x="110.0" y="560.0" width="1" height="2.6" fill="url(#bdd2c)" opacity="0.86"/>
<rect x="112.0" y="560.0" width="1" height="3.6" fill="url(#bdd2c)" opacity="0.75"/>
<rect x="112.0" y="550.5" width="1" height="9.5" fill="url(#bu2d)" opacity="0.7"/>
<rect x="114.0" y="559.3" width="1" height="0.8" fill="url(#bu2d)" opacity="0.98"/>
<rect x="114.0" y="551.8" width="1" height="8.1" fill="url(#bu2d)" opacity="0.7"/>
<rect x="116.0" y="555.2" width="1" height="4.7" fill="url(#bu2d)" opacity="0.79"/>
<rect x="117.0" y="560.0" width="1" height="1.0" fill="url(#bdd2c)" opacity="0.98"/>
<rect x="119.0" y="552.9" width="1" height="7.1" fill="url(#bu2d)" opacity="0.82"/>
<rect x="120.0" y="553.3" width="1" height="6.7" fill="url(#bu2d)" opacity="0.76"/>
<rect x="125.0" y="560.0" width="1" height="12.1" fill="url(#bd2a)" opacity="0.84"/>
<rect x="126.0" y="560.0" width="1" height="10.8" fill="url(#bd2a)" opacity="0.79"/>
<rect x="127.0" y="560.0" width="1" height="14.5" fill="url(#bd2a)" opacity="0.76"/>
<rect x="128.0" y="560.0" width="1" height="13.8" fill="url(#bd2a)" opacity="0.93"/>
<rect x="129.0" y="560.0" width="1" height="15.2" fill="url(#bd2a)" opacity="0.92"/>
<rect x="130.0" y="560.0" width="1" height="12.4" fill="url(#bd2a)" opacity="0.88"/>
<rect x="130.0" y="560.0" width="1" height="23.0" fill="url(#bd2a)" opacity="0.7"/>
<rect x="131.0" y="560.0" width="1" height="17.2" fill="url(#bd2b)" opacity="0.90"/>
<rect x="132.0" y="560.0" width="1" height="17.9" fill="url(#bd2a)" opacity="0.97"/>
<rect x="133.0" y="560.0" width="1" height="17.3" fill="url(#bd2b)" opacity="0.95"/>
<rect x="134.0" y="560.0" width="1" height="15.9" fill="url(#bd2b)" opacity="0.88"/>
<rect x="134.0" y="560.0" width="1" height="20.1" fill="url(#bd2a)" opacity="0.7"/>
<rect x="135.0" y="560.0" width="1" height="11.2" fill="url(#bd2a)" opacity="0.88"/>
<rect x="136.0" y="560.0" width="1" height="17.0" fill="url(#bd2b)" opacity="0.87"/>
<rect x="137.0" y="560.0" width="1" height="14.4" fill="url(#bd2a)" opacity="0.98"/>
<rect x="138.0" y="560.0" width="1" height="24.9" fill="url(#bd2a)" opacity="0.7"/>
<rect x="139.0" y="560.0" width="1" height="13.4" fill="url(#bd2a)" opacity="0.93"/>
<rect x="140.0" y="560.0" width="1" height="17.4" fill="url(#bd2a)" opacity="1.00"/>
<rect x="141.0" y="560.0" width="1" height="14.8" fill="url(#bd2a)" opacity="0.72"/>
<rect x="141.0" y="560.0" width="1" height="20.1" fill="url(#bd2b)" opacity="0.7"/>
<rect x="143.0" y="560.0" width="1" height="13.8" fill="url(#bd2b)" opacity="0.70"/>
<rect x="145.0" y="560.0" width="1" height="17.6" fill="url(#bd2b)" opacity="0.89"/>
<rect x="145.0" y="560.0" width="1" height="30.9" fill="url(#bd2a)" opacity="0.7"/>
<rect x="146.0" y="560.0" width="1" height="11.1" fill="url(#bd2a)" opacity="0.83"/>
<rect x="147.0" y="560.0" width="1" height="16.3" fill="url(#bd2b)" opacity="0.91"/>
<rect x="155.0" y="560.0" width="1" height="20.9" fill="url(#bd2a)" opacity="0.7"/>
<rect x="156.0" y="560.0" width="1" height="15.7" fill="url(#bd2a)" opacity="0.73"/>
<rect x="157.0" y="560.0" width="1" height="14.1" fill="url(#bd2b)" opacity="0.78"/>
<rect x="158.0" y="560.0" width="1" height="18.5" fill="url(#bd2b)" opacity="0.92"/>
<rect x="158.0" y="560.0" width="1" height="28.1" fill="url(#bd2a)" opacity="0.7"/>
<rect x="159.0" y="560.0" width="1" height="18.1" fill="url(#bd2b)" opacity="0.74"/>
<rect x="160.0" y="560.0" width="1" height="12.7" fill="url(#bd2b)" opacity="0.83"/>
<rect x="160.0" y="560.0" width="1" height="26.0" fill="url(#bd2b)" opacity="0.7"/>
<rect x="161.0" y="560.0" width="1" height="15.4" fill="url(#bd2b)" opacity="0.80"/>
<rect x="161.0" y="560.0" width="1" height="20.9" fill="url(#bd2b)" opacity="0.7"/>
<rect x="162.0" y="560.0" width="1" height="12.7" fill="url(#bd2b)" opacity="0.83"/>
<rect x="163.0" y="560.0" width="1" height="12.0" fill="url(#bd2a)" opacity="0.77"/>
<rect x="163.0" y="560.0" width="1" height="29.2" fill="url(#bd2a)" opacity="0.7"/>
<rect x="164.0" y="560.0" width="1" height="14.3" fill="url(#bd2b)" opacity="0.92"/>
<rect x="164.0" y="560.0" width="1" height="26.5" fill="url(#bd2a)" opacity="0.7"/>
<rect x="165.0" y="560.0" width="1" height="18.7" fill="url(#bd2b)" opacity="0.93"/>
<rect x="166.0" y="560.0" width="1" height="17.8" fill="url(#bd2b)" opacity="0.94"/>
<rect x="166.0" y="560.0" width="1" height="22.5" fill="url(#bd2b)" opacity="0.7"/>
<rect x="167.0" y="560.0" width="1" height="12.5" fill="url(#bd2a)" opacity="0.82"/>
<rect x="168.0" y="560.0" width="1" height="16.0" fill="url(#bd2b)" opacity="0.83"/>
<rect x="169.0" y="560.0" width="1" height="17.1" fill="url(#bd2a)" opacity="0.97"/>
<rect x="170.0" y="560.0" width="1" height="13.3" fill="url(#bd2a)" opacity="0.99"/>
<rect x="170.0" y="560.0" width="1" height="21.7" fill="url(#bd2b)" opacity="0.7"/>
<rect x="171.0" y="560.0" width="1" height="14.5" fill="url(#bd2b)" opacity="0.82"/>
<rect x="172.0" y="560.0" width="1" height="13.4" fill="url(#bd2b)" opacity="0.72"/>
<rect x="173.0" y="560.0" width="1" height="17.2" fill="url(#bd2b)" opacity="0.76"/>
<rect x="173.0" y="560.0" width="1" height="20.9" fill="url(#bd2b)" opacity="0.7"/>
<rect x="174.0" y="560.0" width="1" height="18.2" fill="url(#bd2a)" opacity="0.96"/>
<rect x="175.0" y="560.0" width="1" height="15.5" fill="url(#bd2b)" opacity="0.72"/>
<rect x="176.0" y="560.0" width="1" height="12.0" fill="url(#bd2b)" opacity="0.89"/>
<rect x="176.0" y="560.0" width="1" height="21.0" fill="url(#bd2b)" opacity="0.7"/>
<rect x="177.0" y="560.0" width="1" height="16.0" fill="url(#bd2a)" opacity="0.84"/>
<rect x="177.0" y="560.0" width="1" height="27.9" fill="url(#bd2a)" opacity="0.7"/>
<rect x="178.0" y="560.0" width="1" height="17.7" fill="url(#bd2a)" opacity="0.74"/>
<rect x="186.0" y="560.0" width="1" height="7.3" fill="url(#bd2a)" opacity="0.79"/>
<rect x="188.0" y="560.0" width="1" height="11.5" fill="url(#bd2a)" opacity="0.72"/>
<rect x="189.0" y="560.0" width="1" height="11.4" fill="url(#bd2b)" opacity="0.86"/>
<rect x="189.0" y="560.0" width="1" height="18.4" fill="url(#bd2a)" opacity="0.7"/>
<rect x="190.0" y="560.0" width="1" height="9.9" fill="url(#bd2a)" opacity="0.92"/>
<rect x="191.0" y="560.0" width="1" height="14.3" fill="url(#bd2a)" opacity="0.83"/>
<rect x="192.0" y="560.0" width="1" height="13.5" fill="url(#bd2a)" opacity="0.87"/>
<rect x="193.0" y="560.0" width="1" height="12.8" fill="url(#bd2a)" opacity="0.85"/>
<rect x="194.0" y="560.0" width="1" height="10.0" fill="url(#bd2b)" opacity="0.77"/>
<rect x="194.0" y="560.0" width="1" height="17.4" fill="url(#bd2a)" opacity="0.7"/>
<rect x="195.0" y="560.0" width="1" height="10.3" fill="url(#bd2a)" opacity="0.91"/>
<rect x="196.0" y="560.0" width="1" height="7.3" fill="url(#bd2b)" opacity="0.99"/>
<rect x="197.0" y="560.0" width="1" height="13.7" fill="url(#bd2a)" opacity="0.90"/>
<rect x="198.0" y="560.0" width="1" height="9.5" fill="url(#bd2b)" opacity="0.71"/>
<rect x="198.0" y="560.0" width="1" height="15.9" fill="url(#bd2a)" opacity="0.7"/>
<rect x="200.0" y="560.0" width="1" height="13.6" fill="url(#bd2a)" opacity="0.98"/>
<rect x="200.0" y="560.0" width="1" height="20.5" fill="url(#bd2a)" opacity="0.7"/>
<rect x="201.0" y="560.0" width="1" height="10.7" fill="url(#bd2b)" opacity="0.87"/>
<rect x="201.0" y="560.0" width="1" height="17.9" fill="url(#bd2a)" opacity="0.7"/>
<rect x="202.0" y="560.0" width="1" height="20.2" fill="url(#bd2b)" opacity="0.7"/>
<rect x="203.0" y="560.0" width="1" height="10.1" fill="url(#bd2b)" opacity="0.96"/>
<rect x="204.0" y="560.0" width="1" height="14.0" fill="url(#bd2a)" opacity="0.74"/>
<rect x="204.0" y="560.0" width="1" height="17.0" fill="url(#bd2b)" opacity="0.7"/>
<rect x="205.0" y="560.0" width="1" height="9.2" fill="url(#bd2b)" opacity="0.94"/>
<rect x="206.0" y="560.0" width="1" height="11.0" fill="url(#bd2b)" opacity="0.71"/>
<rect x="206.0" y="560.0" width="1" height="23.5" fill="url(#bd2b)" opacity="0.7"/>
<rect x="207.0" y="560.0" width="1" height="7.5" fill="url(#bd2a)" opacity="0.84"/>
<rect x="207.0" y="560.0" width="1" height="19.1" fill="url(#bd2b)" opacity="0.7"/>
<rect x="217.0" y="560.0" width="1" height="16.4" fill="url(#bd2a)" opacity="0.89"/>
<rect x="218.0" y="560.0" width="1" height="12.5" fill="url(#bd2b)" opacity="0.70"/>
<rect x="219.0" y="560.0" width="1" height="13.3" fill="url(#bd2b)" opacity="0.75"/>
<rect x="220.0" y="560.0" width="1" height="14.8" fill="url(#bd2a)" opacity="0.79"/>
<rect x="221.0" y="560.0" width="1" height="10.9" fill="url(#bd2b)" opacity="1.00"/>
<rect x="221.0" y="560.0" width="1" height="18.6" fill="url(#bd2b)" opacity="0.7"/>
<rect x="222.0" y="560.0" width="1" height="14.3" fill="url(#bd2b)" opacity="0.95"/>
<rect x="223.0" y="560.0" width="1" height="15.2" fill="url(#bd2a)" opacity="0.93"/>
<rect x="223.0" y="560.0" width="1" height="25.1" fill="url(#bd2a)" opacity="0.7"/>
<rect x="224.0" y="560.0" width="1" height="13.2" fill="url(#bd2b)" opacity="0.83"/>
<rect x="224.0" y="560.0" width="1" height="20.7" fill="url(#bd2a)" opacity="0.7"/>
<rect x="225.0" y="560.0" width="1" height="12.4" fill="url(#bd2a)" opacity="0.96"/>
<rect x="225.0" y="560.0" width="1" height="24.7" fill="url(#bd2a)" opacity="0.7"/>
<rect x="226.0" y="560.0" width="1" height="11.5" fill="url(#bd2a)" opacity="0.75"/>
<rect x="226.0" y="560.0" width="1" height="21.7" fill="url(#bd2b)" opacity="0.7"/>
<rect x="227.0" y="560.0" width="1" height="14.3" fill="url(#bd2b)" opacity="0.74"/>
<rect x="229.0" y="560.0" width="1" height="13.1" fill="url(#bd2b)" opacity="0.87"/>
<rect x="230.0" y="560.0" width="1" height="15.4" fill="url(#bd2b)" opacity="0.84"/>
<rect x="230.0" y="560.0" width="1" height="18.3" fill="url(#bd2a)" opacity="0.7"/>
<rect x="231.0" y="560.0" width="1" height="15.7" fill="url(#bd2a)" opacity="0.89"/>
<rect x="231.0" y="560.0" width="1" height="20.9" fill="url(#bd2b)" opacity="0.7"/>
<rect x="232.0" y="560.0" width="1" height="13.1" fill="url(#bd2a)" opacity="0.73"/>
<rect x="232.0" y="560.0" width="1" height="24.8" fill="url(#bd2b)" opacity="0.7"/>
<rect x="233.0" y="560.0" width="1" height="15.9" fill="url(#bd2a)" opacity="0.88"/>
<rect x="233.0" y="560.0" width="1" height="21.8" fill="url(#bd2b)" opacity="0.7"/>
<rect x="234.0" y="560.0" width="1" height="14.8" fill="url(#bd2a)" opacity="0.82"/>
<rect x="234.0" y="560.0" width="1" height="18.8" fill="url(#bd2b)" opacity="0.7"/>
<rect x="235.0" y="560.0" width="1" height="15.7" fill="url(#bd2b)" opacity="0.85"/>
<rect x="235.0" y="560.0" width="1" height="18.4" fill="url(#bd2b)" opacity="0.7"/>
<rect x="236.0" y="560.0" width="1" height="15.9" fill="url(#bd2b)" opacity="0.95"/>
<rect x="236.0" y="560.0" width="1" height="25.3" fill="url(#bd2a)" opacity="0.7"/>
<rect x="240.0" y="560.0" width="1" height="13.6" fill="url(#bd2a)" opacity="0.87"/></g>
<g filter="url(#bb)"><rect x="295.0" y="303.7" width="1" height="15.5" fill="url(#mu0a)" opacity="0.78"/>
<rect x="295.0" y="285.8" width="1" height="33.4" fill="#a81858" opacity="0.7"/>
<rect x="296.0" y="307.8" width="1" height="11.4" fill="url(#mu0b)" opacity="0.82"/>
<rect x="297.0" y="302.0" width="1" height="17.2" fill="url(#mu0b)" opacity="0.81"/>
<rect x="297.0" y="283.6" width="1" height="35.7" fill="#a81858" opacity="0.7"/>
<rect x="298.0" y="309.4" width="1" height="9.9" fill="url(#mu0b)" opacity="0.75"/>
<rect x="299.0" y="307.5" width="1" height="11.8" fill="url(#mu0a)" opacity="0.78"/>
<rect x="300.0" y="305.0" width="1" height="14.3" fill="url(#mu0b)" opacity="0.97"/>
<rect x="300.0" y="288.5" width="1" height="30.7" fill="#a81858" opacity="0.7"/>
<rect x="302.0" y="307.2" width="1" height="12.1" fill="url(#mu0a)" opacity="0.92"/>
<rect x="303.0" y="308.1" width="1" height="11.1" fill="url(#mu0a)" opacity="0.85"/>
<rect x="303.0" y="295.7" width="1" height="23.5" fill="#a81858" opacity="0.7"/>
<rect x="304.0" y="300.7" width="1" height="18.5" fill="url(#mu0b)" opacity="0.78"/>
<rect x="304.0" y="285.6" width="1" height="33.6" fill="#a81858" opacity="0.7"/>
<rect x="305.0" y="305.5" width="1" height="13.7" fill="url(#mu0a)" opacity="0.83"/>
<rect x="306.0" y="307.0" width="1" height="12.3" fill="url(#mu0b)" opacity="0.85"/>
<rect x="307.0" y="309.9" width="1" height="9.3" fill="url(#mu0b)" opacity="0.82"/>
<rect x="308.0" y="305.9" width="1" height="13.3" fill="url(#mu0a)" opacity="0.85"/>
<rect x="308.0" y="293.0" width="1" height="26.3" fill="#a81858" opacity="0.7"/>
<rect x="309.0" y="306.8" width="1" height="12.5" fill="url(#mu0b)" opacity="0.71"/>
<rect x="310.0" y="306.1" width="1" height="13.1" fill="url(#mu0b)" opacity="0.79"/>
<rect x="310.0" y="288.8" width="1" height="30.4" fill="#a81858" opacity="0.7"/>
<rect x="311.0" y="308.3" width="1" height="11.0" fill="url(#mu0b)" opacity="0.73"/>
<rect x="311.0" y="297.0" width="1" height="22.2" fill="#a81858" opacity="0.7"/>
<rect x="312.0" y="305.7" width="1" height="13.5" fill="url(#mu0b)" opacity="1.00"/>
<rect x="312.0" y="278.0" width="1" height="41.2" fill="#a81858" opacity="0.7"/>
<rect x="313.0" y="310.9" width="1" height="8.4" fill="url(#mu0b)" opacity="0.96"/>
<rect x="313.0" y="295.8" width="1" height="23.5" fill="#a81858" opacity="0.7"/>
<rect x="314.0" y="301.6" width="1" height="17.7" fill="url(#mu0b)" opacity="0.92"/>
<rect x="315.0" y="301.5" width="1" height="17.7" fill="url(#mu0a)" opacity="0.85"/>
<rect x="316.0" y="307.0" width="1" height="12.3" fill="url(#mu0b)" opacity="0.86"/>
<rect x="317.0" y="301.6" width="1" height="17.7" fill="url(#mu0a)" opacity="0.77"/>
<rect x="318.0" y="307.4" width="1" height="11.8" fill="url(#mu0b)" opacity="0.94"/>
<rect x="318.0" y="297.0" width="1" height="22.3" fill="#a81858" opacity="0.7"/>
<rect x="319.0" y="292.1" width="1" height="27.1" fill="#a81858" opacity="0.7"/>
<rect x="320.0" y="301.8" width="1" height="17.5" fill="url(#mu0a)" opacity="0.94"/>
<rect x="320.0" y="294.2" width="1" height="25.0" fill="#a81858" opacity="0.7"/>
<rect x="324.0" y="318.7" width="1" height="0.8" fill="url(#mu0a)" opacity="0.73"/>
<rect x="325.0" y="319.2" width="1" height="0.8" fill="url(#mu0a)" opacity="0.99"/>
<rect x="329.0" y="315.2" width="1" height="4.0" fill="url(#mu0b)" opacity="0.98"/>
<rect x="330.0" y="316.4" width="1" height="2.8" fill="url(#mu0a)" opacity="0.98"/>
<rect x="332.0" y="316.6" width="1" height="2.7" fill="url(#mu0a)" opacity="0.72"/>
<rect x="333.0" y="318.7" width="1" height="0.8" fill="url(#mu0b)" opacity="0.97"/>
<rect x="336.0" y="318.9" width="1" height="0.8" fill="url(#mu0b)" opacity="0.77"/>
<rect x="341.0" y="317.4" width="1" height="1.9" fill="url(#mu0b)" opacity="0.92"/>
<rect x="342.0" y="318.1" width="1" height="1.2" fill="url(#mu0b)" opacity="0.99"/>
<rect x="345.0" y="316.8" width="1" height="2.4" fill="url(#mu0b)" opacity="0.78"/>
<rect x="355.0" y="303.3" width="1" height="16.0" fill="url(#mu0a)" opacity="0.77"/>
<rect x="355.0" y="289.2" width="1" height="30.0" fill="#a81858" opacity="0.7"/>
<rect x="356.0" y="310.6" width="1" height="8.6" fill="url(#mu0b)" opacity="0.93"/>
<rect x="357.0" y="304.2" width="1" height="15.0" fill="url(#mu0a)" opacity="0.91"/>
<rect x="357.0" y="297.6" width="1" height="21.7" fill="#a81858" opacity="0.7"/>
<rect x="358.0" y="307.4" width="1" height="11.8" fill="url(#mu0b)" opacity="0.84"/>
<rect x="359.0" y="306.4" width="1" height="12.8" fill="url(#mu0b)" opacity="0.71"/>
<rect x="360.0" y="302.8" width="1" height="16.4" fill="url(#mu0b)" opacity="0.84"/>
<rect x="361.0" y="310.4" width="1" height="8.9" fill="url(#mu0a)" opacity="0.90"/>
<rect x="362.0" y="307.6" width="1" height="11.7" fill="url(#mu0a)" opacity="0.74"/>
<rect x="363.0" y="304.0" width="1" height="15.3" fill="url(#mu0a)" opacity="0.96"/>
<rect x="363.0" y="289.3" width="1" height="30.0" fill="#a81858" opacity="0.7"/>
<rect x="364.0" y="305.6" width="1" height="13.7" fill="url(#mu0b)" opacity="0.75"/>
<rect x="364.0" y="289.3" width="1" height="30.0" fill="#a81858" opacity="0.7"/>
<rect x="365.0" y="307.9" width="1" height="11.4" fill="url(#mu0b)" opacity="0.73"/>
<rect x="365.0" y="289.1" width="1" height="30.1" fill="#a81858" opacity="0.7"/>
<rect x="366.0" y="308.2" width="1" height="11.1" fill="url(#mu0a)" opacity="0.73"/>
<rect x="367.0" y="307.4" width="1" height="11.8" fill="url(#mu0b)" opacity="0.73"/>
<rect x="368.0" y="304.0" width="1" height="15.3" fill="url(#mu0a)" opacity="0.91"/>
<rect x="369.0" y="295.5" width="1" height="23.8" fill="#a81858" opacity="0.7"/>
<rect x="370.0" y="302.1" width="1" height="17.2" fill="url(#mu0b)" opacity="0.76"/>
<rect x="370.0" y="297.7" width="1" height="21.6" fill="#a81858" opacity="0.7"/>
<rect x="372.0" y="304.0" width="1" height="15.3" fill="url(#mu0a)" opacity="0.96"/>
<rect x="373.0" y="302.4" width="1" height="16.9" fill="url(#mu0a)" opacity="0.84"/>
<rect x="374.0" y="310.3" width="1" height="8.9" fill="url(#mu0b)" opacity="0.74"/>
<rect x="375.0" y="309.4" width="1" height="9.8" fill="url(#mu0b)" opacity="0.99"/>
<rect x="376.0" y="310.5" width="1" height="8.7" fill="url(#mu0b)" opacity="0.80"/>
<rect x="377.0" y="309.1" width="1" height="10.2" fill="url(#mu0a)" opacity="0.81"/>
<rect x="378.0" y="298.4" width="1" height="20.8" fill="#a81858" opacity="0.7"/>
<rect x="379.0" y="304.1" width="1" height="15.1" fill="url(#mu0a)" opacity="0.83"/>
<rect x="380.0" y="305.9" width="1" height="13.4" fill="url(#mu0b)" opacity="0.75"/>
<rect x="384.0" y="300.2" width="1" height="19.1" fill="url(#mu0b)" opacity="0.91"/>
<rect x="385.0" y="300.2" width="1" height="19.1" fill="url(#mu0a)" opacity="0.78"/>
<rect x="386.0" y="306.8" width="1" height="12.5" fill="url(#mu0b)" opacity="0.78"/>
<rect x="386.0" y="291.0" width="1" height="28.3" fill="#a81858" opacity="0.7"/>
<rect x="387.0" y="300.6" width="1" height="18.6" fill="url(#mu0b)" opacity="0.71"/>
<rect x="387.0" y="289.2" width="1" height="30.1" fill="#a81858" opacity="0.7"/>
<rect x="388.0" y="306.9" width="1" height="12.4" fill="url(#mu0a)" opacity="0.94"/>
<rect x="389.0" y="298.4" width="1" height="20.9" fill="url(#mu0b)" opacity="0.89"/>
<rect x="389.0" y="283.5" width="1" height="35.8" fill="#a81858" opacity="0.7"/>
<rect x="390.0" y="299.6" width="1" height="19.7" fill="url(#mu0b)" opacity="0.97"/>
<rect x="391.0" y="300.8" width="1" height="18.4" fill="url(#mu0a)" opacity="0.85"/>
<rect x="392.0" y="307.0" width="1" height="12.2" fill="url(#mu0b)" opacity="0.71"/>
<rect x="393.0" y="303.4" width="1" height="15.8" fill="url(#mu0b)" opacity="0.86"/>
<rect x="394.0" y="300.7" width="1" height="18.6" fill="url(#mu0b)" opacity="0.72"/>
<rect x="394.0" y="289.9" width="1" height="29.4" fill="#a81858" opacity="0.7"/>
<rect x="395.0" y="302.6" width="1" height="16.7" fill="url(#mu0b)" opacity="0.93"/>
<rect x="395.0" y="280.7" width="1" height="38.5" fill="#a81858" opacity="0.7"/>
<rect x="396.0" y="290.7" width="1" height="28.5" fill="#a81858" opacity="0.7"/>
<rect x="397.0" y="306.0" width="1" height="13.2" fill="url(#mu0b)" opacity="0.99"/>
<rect x="399.0" y="304.5" width="1" height="14.7" fill="url(#mu0b)" opacity="0.96"/>
<rect x="400.0" y="303.9" width="1" height="15.4" fill="url(#mu0b)" opacity="0.76"/>
<rect x="400.0" y="260.5" width="1" height="58.8" fill="#a81858" opacity="0.7"/>
<rect x="401.0" y="298.8" width="1" height="20.5" fill="url(#mu0b)" opacity="0.90"/>
<rect x="401.0" y="263.8" width="1" height="55.4" fill="#a81858" opacity="0.7"/>
<rect x="402.0" y="303.6" width="1" height="15.7" fill="url(#mu0a)" opacity="0.88"/>
<rect x="403.0" y="308.0" width="1" height="11.2" fill="url(#mu0b)" opacity="0.74"/>
<rect x="404.0" y="307.7" width="1" height="11.5" fill="url(#mu0a)" opacity="0.98"/>
<rect x="404.0" y="274.4" width="1" height="44.9" fill="#a81858" opacity="0.7"/>
<rect x="405.0" y="299.3" width="1" height="20.0" fill="url(#mu0a)" opacity="0.87"/>
<rect x="405.0" y="290.9" width="1" height="28.3" fill="#a81858" opacity="0.7"/>
<rect x="406.0" y="301.2" width="1" height="18.0" fill="url(#mu0b)" opacity="0.89"/>
<rect x="407.0" y="302.0" width="1" height="17.2" fill="url(#mu0a)" opacity="0.97"/>
<rect x="407.0" y="261.7" width="1" height="57.5" fill="#a81858" opacity="0.7"/>
<rect x="408.0" y="306.2" width="1" height="13.1" fill="url(#mu0a)" opacity="0.94"/>
<rect x="408.0" y="288.1" width="1" height="31.1" fill="#a81858" opacity="0.7"/>
<rect x="409.0" y="302.0" width="1" height="17.3" fill="url(#mu0a)" opacity="0.95"/>
<rect x="410.0" y="305.5" width="1" height="13.7" fill="url(#mu0b)" opacity="0.95"/>
<rect x="415.0" y="298.0" width="1" height="21.3" fill="url(#mu0a)" opacity="0.85"/>
<rect x="416.0" y="305.2" width="1" height="14.0" fill="url(#mu0b)" opacity="0.75"/>
<rect x="416.0" y="286.2" width="1" height="33.0" fill="#a81858" opacity="0.7"/>
<rect x="417.0" y="306.3" width="1" height="12.9" fill="url(#mu0b)" opacity="0.79"/>
<rect x="419.0" y="308.5" width="1" height="10.8" fill="url(#mu0b)" opacity="0.71"/>
<rect x="420.0" y="305.5" width="1" height="13.7" fill="url(#mu0a)" opacity="0.97"/>
<rect x="420.0" y="282.1" width="1" height="37.1" fill="#a81858" opacity="0.7"/>
<rect x="421.0" y="306.6" width="1" height="12.7" fill="url(#mu0b)" opacity="0.88"/>
<rect x="422.0" y="306.9" width="1" height="12.3" fill="url(#mu0b)" opacity="0.76"/>
<rect x="422.0" y="260.2" width="1" height="59.1" fill="#a81858" opacity="0.7"/>
<rect x="424.0" y="307.0" width="1" height="12.2" fill="url(#mu0b)" opacity="0.89"/>
<rect x="425.0" y="297.7" width="1" height="21.5" fill="url(#mu0b)" opacity="0.99"/>
<rect x="425.0" y="264.0" width="1" height="55.3" fill="#a81858" opacity="0.7"/>
<rect x="427.0" y="297.9" width="1" height="21.4" fill="url(#mu0b)" opacity="0.82"/>
<rect x="427.0" y="287.5" width="1" height="31.8" fill="#a81858" opacity="0.7"/>
<rect x="428.0" y="299.6" width="1" height="19.7" fill="url(#mu0b)" opacity="0.96"/>
<rect x="428.0" y="290.6" width="1" height="28.6" fill="#a81858" opacity="0.7"/>
<rect x="429.0" y="303.0" width="1" height="16.2" fill="url(#mu0a)" opacity="0.78"/>
<rect x="429.0" y="288.3" width="1" height="31.0" fill="#a81858" opacity="0.7"/>
<rect x="430.0" y="306.9" width="1" height="12.3" fill="url(#mu0b)" opacity="0.78"/>
<rect x="431.0" y="302.9" width="1" height="16.4" fill="url(#mu0b)" opacity="0.70"/>
<rect x="432.0" y="287.8" width="1" height="31.5" fill="#a81858" opacity="0.7"/>
<rect x="433.0" y="306.6" width="1" height="12.6" fill="url(#mu0b)" opacity="0.88"/>
<rect x="435.0" y="301.3" width="1" height="18.0" fill="url(#mu0a)" opacity="0.91"/>
<rect x="436.0" y="303.9" width="1" height="15.4" fill="url(#mu0b)" opacity="0.95"/>
<rect x="436.0" y="281.6" width="1" height="37.7" fill="#a81858" opacity="0.7"/>
<rect x="437.0" y="307.2" width="1" height="12.1" fill="url(#mu0b)" opacity="0.99"/>
<rect x="438.0" y="297.4" width="1" height="21.8" fill="url(#mu0b)" opacity="0.96"/>
<rect x="439.0" y="304.8" width="1" height="14.5" fill="url(#mu0b)" opacity="0.92"/>
<rect x="441.0" y="306.3" width="1" height="12.9" fill="url(#mu0a)" opacity="0.84"/>
<rect x="446.0" y="306.5" width="1" height="12.8" fill="url(#mu0a)" opacity="0.96"/>
<rect x="446.0" y="270.5" width="1" height="48.7" fill="#a81858" opacity="0.7"/>
<rect x="447.0" y="308.1" width="1" height="11.1" fill="url(#mu0a)" opacity="0.99"/>
<rect x="447.0" y="271.7" width="1" height="47.6" fill="#a81858" opacity="0.7"/>
<rect x="449.0" y="298.0" width="1" height="21.3" fill="url(#mu0a)" opacity="0.86"/>
<rect x="450.0" y="306.7" width="1" height="12.6" fill="url(#mu0a)" opacity="0.71"/>
<rect x="451.0" y="308.2" width="1" height="11.1" fill="url(#mu0b)" opacity="0.83"/>
<rect x="451.0" y="293.2" width="1" height="26.0" fill="#a81858" opacity="0.7"/>
<rect x="452.0" y="300.6" width="1" height="18.7" fill="url(#mu0a)" opacity="0.79"/>
<rect x="453.0" y="298.9" width="1" height="20.4" fill="url(#mu0b)" opacity="0.85"/>
<rect x="454.0" y="303.8" width="1" height="15.4" fill="url(#mu0b)" opacity="0.93"/>
<rect x="454.0" y="286.9" width="1" height="32.3" fill="#a81858" opacity="0.7"/>
<rect x="455.0" y="303.1" width="1" height="16.2" fill="url(#mu0a)" opacity="0.76"/>
<rect x="456.0" y="307.8" width="1" height="11.5" fill="url(#mu0a)" opacity="0.91"/>
<rect x="457.0" y="298.7" width="1" height="20.5" fill="url(#mu0b)" opacity="0.85"/>
<rect x="458.0" y="300.7" width="1" height="18.5" fill="url(#mu0a)" opacity="0.72"/>
<rect x="459.0" y="301.3" width="1" height="17.9" fill="url(#mu0a)" opacity="0.80"/>
<rect x="460.0" y="305.3" width="1" height="13.9" fill="url(#mu0b)" opacity="0.93"/>
<rect x="460.0" y="293.4" width="1" height="25.9" fill="#a81858" opacity="0.7"/>
<rect x="461.0" y="303.7" width="1" height="15.5" fill="url(#mu0a)" opacity="0.86"/>
<rect x="462.0" y="305.6" width="1" height="13.7" fill="url(#mu0a)" opacity="0.78"/>
<rect x="462.0" y="291.5" width="1" height="27.7" fill="#a81858" opacity="0.7"/>
<rect x="463.0" y="299.9" width="1" height="19.3" fill="url(#mu0b)" opacity="0.94"/>
<rect x="463.0" y="284.5" width="1" height="34.8" fill="#a81858" opacity="0.7"/>
<rect x="465.0" y="308.4" width="1" height="10.9" fill="url(#mu0b)" opacity="0.90"/>
<rect x="466.0" y="299.0" width="1" height="20.2" fill="url(#mu0a)" opacity="0.92"/>
<rect x="466.0" y="284.2" width="1" height="35.1" fill="#a81858" opacity="0.7"/>
<rect x="467.0" y="302.1" width="1" height="17.2" fill="url(#mu0b)" opacity="0.73"/>
<rect x="468.0" y="302.7" width="1" height="16.6" fill="url(#mu0a)" opacity="0.97"/>
<rect x="469.0" y="299.6" width="1" height="19.7" fill="url(#mu0a)" opacity="0.71"/>
<rect x="470.0" y="304.6" width="1" height="14.6" fill="url(#mu0a)" opacity="0.77"/>
<rect x="470.0" y="293.3" width="1" height="26.0" fill="#a81858" opacity="0.7"/></g>
<g filter="url(#bb)"><rect x="295.0" y="439.6" width="1" height="6.8" fill="url(#bd1a)" opacity="0.7"/>
<rect x="297.0" y="439.6" width="1" height="0.8" fill="url(#bd1a)" opacity="0.96"/>
<rect x="298.0" y="439.6" width="1" height="3.9" fill="url(#bd1b)" opacity="0.78"/>
<rect x="299.0" y="439.5" width="1" height="0.8" fill="url(#bu1a)" opacity="0.94"/>
<rect x="301.0" y="439.6" width="1" height="3.0" fill="url(#bd1b)" opacity="0.85"/>
<rect x="302.0" y="439.6" width="1" height="3.2" fill="url(#bd1b)" opacity="0.98"/>
<rect x="303.0" y="439.4" width="1" height="0.8" fill="url(#bu1a)" opacity="0.85"/>
<rect x="304.0" y="439.6" width="1" height="5.5" fill="url(#bd1a)" opacity="0.88"/>
<rect x="305.0" y="439.6" width="1" height="3.9" fill="url(#bd1a)" opacity="0.7"/>
<rect x="307.0" y="439.6" width="1" height="6.2" fill="url(#bd1b)" opacity="0.92"/>
<rect x="308.0" y="439.0" width="1" height="0.8" fill="url(#bu1a)" opacity="0.75"/>
<rect x="309.0" y="439.6" width="1" height="4.7" fill="url(#bd1b)" opacity="0.75"/>
<rect x="310.0" y="439.6" width="1" height="2.9" fill="url(#bd1b)" opacity="0.93"/>
<rect x="312.0" y="439.6" width="1" height="1.3" fill="url(#bd1b)" opacity="0.81"/>
<rect x="314.0" y="439.6" width="1" height="6.3" fill="url(#bd1a)" opacity="0.98"/>
<rect x="315.0" y="439.6" width="1" height="2.8" fill="url(#bd1b)" opacity="0.71"/>
<rect x="317.0" y="439.6" width="1" height="0.8" fill="url(#bd1b)" opacity="0.91"/>
<rect x="318.0" y="439.6" width="1" height="6.5" fill="url(#bd1b)" opacity="0.93"/>
<rect x="319.0" y="439.6" width="1" height="6.1" fill="url(#bd1b)" opacity="0.88"/>
<rect x="325.0" y="430.0" width="1" height="9.6" fill="url(#bu1a)" opacity="0.88"/>
<rect x="326.0" y="433.0" width="1" height="6.6" fill="url(#bu1a)" opacity="1.00"/>
<rect x="328.0" y="432.5" width="1" height="7.1" fill="url(#bu1a)" opacity="0.91"/>
<rect x="329.0" y="433.5" width="1" height="6.0" fill="url(#bu1a)" opacity="1.00"/>
<rect x="330.0" y="428.5" width="1" height="11.1" fill="url(#bu1a)" opacity="0.80"/>
<rect x="331.0" y="430.4" width="1" height="9.2" fill="url(#bu1a)" opacity="0.87"/>
<rect x="331.0" y="423.4" width="1" height="16.2" fill="url(#bu1a)" opacity="0.7"/>
<rect x="332.0" y="428.7" width="1" height="10.9" fill="url(#bu1a)" opacity="0.95"/>
<rect x="333.0" y="430.8" width="1" height="8.7" fill="url(#bu1a)" opacity="0.81"/>
<rect x="333.0" y="425.6" width="1" height="13.9" fill="url(#bu1a)" opacity="0.7"/>
<rect x="335.0" y="428.8" width="1" height="10.7" fill="url(#bu1a)" opacity="0.84"/>
<rect x="336.0" y="427.9" width="1" height="11.7" fill="url(#bu1a)" opacity="0.78"/>
<rect x="336.0" y="426.6" width="1" height="13.0" fill="url(#bu1a)" opacity="0.7"/>
<rect x="337.0" y="428.2" width="1" height="11.3" fill="url(#bu1a)" opacity="0.73"/>
<rect x="338.0" y="429.9" width="1" height="9.6" fill="url(#bu1a)" opacity="0.86"/>
<rect x="339.0" y="433.6" width="1" height="5.9" fill="url(#bu1a)" opacity="0.81"/>
<rect x="339.0" y="424.7" width="1" height="14.9" fill="url(#bu1a)" opacity="0.7"/>
<rect x="340.0" y="430.7" width="1" height="8.9" fill="url(#bu1a)" opacity="0.84"/>
<rect x="341.0" y="430.5" width="1" height="9.1" fill="url(#bu1a)" opacity="0.72"/>
<rect x="341.0" y="426.1" width="1" height="13.5" fill="url(#bu1a)" opacity="0.7"/>
<rect x="342.0" y="427.8" width="1" height="11.8" fill="url(#bu1a)" opacity="0.80"/>
<rect x="343.0" y="430.0" width="1" height="9.6" fill="url(#bu1a)" opacity="0.88"/>
<rect x="344.0" y="431.5" width="1" height="8.0" fill="url(#bu1a)" opacity="0.88"/>
<rect x="344.0" y="426.0" width="1" height="13.5" fill="url(#bu1a)" opacity="0.7"/>
<rect x="345.0" y="430.2" width="1" height="9.3" fill="url(#bu1a)" opacity="0.75"/>
<rect x="346.0" y="431.3" width="1" height="8.2" fill="url(#bu1a)" opacity="0.86"/>
<rect x="346.0" y="426.7" width="1" height="12.9" fill="url(#bu1a)" opacity="0.7"/>
<rect x="347.0" y="429.8" width="1" height="9.8" fill="url(#bu1a)" opacity="0.80"/>
<rect x="348.0" y="433.5" width="1" height="6.0" fill="url(#bu1a)" opacity="0.97"/>
<rect x="348.0" y="423.7" width="1" height="15.9" fill="url(#bu1a)" opacity="0.7"/>
<rect x="349.0" y="430.6" width="1" height="8.9" fill="url(#bu1a)" opacity="0.75"/>
<rect x="350.0" y="433.7" width="1" height="5.9" fill="url(#bu1a)" opacity="0.90"/>
<rect x="355.0" y="439.6" width="1" height="6.1" fill="url(#bd1b)" opacity="0.94"/>
<rect x="356.0" y="439.6" width="1" height="7.3" fill="url(#bd1b)" opacity="0.92"/>
<rect x="357.0" y="439.6" width="1" height="4.9" fill="url(#bd1b)" opacity="0.81"/>
<rect x="358.0" y="439.6" width="1" height="5.6" fill="url(#bd1a)" opacity="0.85"/>
<rect x="359.0" y="439.6" width="1" height="7.0" fill="url(#bd1a)" opacity="0.75"/>
<rect x="360.0" y="439.6" width="1" height="4.9" fill="url(#bd1b)" opacity="0.78"/>
<rect x="361.0" y="439.6" width="1" height="5.0" fill="url(#bd1b)" opacity="0.98"/>
<rect x="361.0" y="439.6" width="1" height="11.8" fill="url(#bd1a)" opacity="0.7"/>
<rect x="363.0" y="439.6" width="1" height="8.2" fill="url(#bd1b)" opacity="0.89"/>
<rect x="364.0" y="439.6" width="1" height="8.2" fill="url(#bd1a)" opacity="0.71"/>
<rect x="365.0" y="439.6" width="1" height="5.4" fill="url(#bd1b)" opacity="0.80"/>
<rect x="366.0" y="439.6" width="1" height="7.3" fill="url(#bd1a)" opacity="0.98"/>
<rect x="367.0" y="439.6" width="1" height="7.0" fill="url(#bd1a)" opacity="0.83"/>
<rect x="367.0" y="439.6" width="1" height="14.8" fill="url(#bd1b)" opacity="0.7"/>
<rect x="368.0" y="439.6" width="1" height="4.0" fill="url(#bd1a)" opacity="0.71"/>
<rect x="369.0" y="439.6" width="1" height="8.4" fill="url(#bd1b)" opacity="0.75"/>
<rect x="371.0" y="439.6" width="1" height="11.8" fill="url(#bd1b)" opacity="0.7"/>
<rect x="373.0" y="439.6" width="1" height="6.6" fill="url(#bd1a)" opacity="0.70"/>
<rect x="374.0" y="439.6" width="1" height="10.6" fill="url(#bd1a)" opacity="0.7"/>
<rect x="375.0" y="439.6" width="1" height="5.9" fill="url(#bd1a)" opacity="0.94"/>
<rect x="375.0" y="439.6" width="1" height="13.1" fill="url(#bd1b)" opacity="0.7"/>
<rect x="377.0" y="439.6" width="1" height="4.3" fill="url(#bd1a)" opacity="0.82"/>
<rect x="378.0" y="439.6" width="1" height="9.3" fill="url(#bd1b)" opacity="0.93"/>
<rect x="379.0" y="439.6" width="1" height="5.2" fill="url(#bd1a)" opacity="0.86"/>
<rect x="379.0" y="439.6" width="1" height="10.8" fill="url(#bd1a)" opacity="0.7"/>
<rect x="380.0" y="439.6" width="1" height="6.0" fill="url(#bd1a)" opacity="0.89"/>
<rect x="385.0" y="439.6" width="1" height="8.8" fill="url(#bd1b)" opacity="0.75"/>
<rect x="386.0" y="439.6" width="1" height="12.7" fill="url(#bd1a)" opacity="0.7"/>
<rect x="387.0" y="439.6" width="1" height="9.9" fill="url(#bd1b)" opacity="0.83"/>
<rect x="387.0" y="439.6" width="1" height="13.2" fill="url(#bd1a)" opacity="0.7"/>
<rect x="388.0" y="439.6" width="1" height="8.2" fill="url(#bd1a)" opacity="1.00"/>
<rect x="389.0" y="439.6" width="1" height="4.2" fill="url(#bd1b)" opacity="0.88"/>
<rect x="390.0" y="439.6" width="1" height="9.2" fill="url(#bd1a)" opacity="0.92"/>
<rect x="392.0" y="439.6" width="1" height="4.8" fill="url(#bd1a)" opacity="0.82"/>
<rect x="394.0" y="439.6" width="1" height="9.1" fill="url(#bd1b)" opacity="0.81"/>
<rect x="394.0" y="439.6" width="1" height="14.6" fill="url(#bd1a)" opacity="0.7"/>
<rect x="395.0" y="439.6" width="1" height="4.3" fill="url(#bd1a)" opacity="1.00"/>
<rect x="395.0" y="439.6" width="1" height="11.9" fill="url(#bd1b)" opacity="0.7"/>
<rect x="396.0" y="439.6" width="1" height="9.5" fill="url(#bd1b)" opacity="0.91"/>
<rect x="397.0" y="439.6" width="1" height="3.7" fill="url(#bd1a)" opacity="0.93"/>
<rect x="397.0" y="439.6" width="1" height="17.4" fill="url(#bd1b)" opacity="0.7"/>
<rect x="398.0" y="439.6" width="1" height="12.9" fill="url(#bd1b)" opacity="0.7"/>
<rect x="399.0" y="439.6" width="1" height="3.9" fill="url(#bd1a)" opacity="0.91"/>
<rect x="401.0" y="439.6" width="1" height="7.1" fill="url(#bd1b)" opacity="0.87"/>
<rect x="402.0" y="439.6" width="1" height="9.8" fill="url(#bd1a)" opacity="0.98"/>
<rect x="403.0" y="439.6" width="1" height="6.0" fill="url(#bd1b)" opacity="0.89"/>
<rect x="403.0" y="439.6" width="1" height="12.0" fill="url(#bd1b)" opacity="0.7"/>
<rect x="404.0" y="439.6" width="1" height="12.7" fill="url(#bd1a)" opacity="0.7"/>
<rect x="405.0" y="439.6" width="1" height="8.1" fill="url(#bd1b)" opacity="0.72"/>
<rect x="405.0" y="439.6" width="1" height="17.0" fill="url(#bd1b)" opacity="0.7"/>
<rect x="406.0" y="439.6" width="1" height="3.8" fill="url(#bd1b)" opacity="0.95"/>
<rect x="406.0" y="439.6" width="1" height="14.7" fill="url(#bd1b)" opacity="0.7"/>
<rect x="407.0" y="439.6" width="1" height="4.9" fill="url(#bd1a)" opacity="0.92"/>
<rect x="408.0" y="439.6" width="1" height="8.4" fill="url(#bd1b)" opacity="0.93"/>
<rect x="409.0" y="439.6" width="1" height="10.7" fill="url(#bd1a)" opacity="0.94"/>
<rect x="409.0" y="439.6" width="1" height="16.0" fill="url(#bd1a)" opacity="0.7"/>
<rect x="410.0" y="439.6" width="1" height="10.0" fill="url(#bd1a)" opacity="0.75"/>
<rect x="415.0" y="425.1" width="1" height="14.4" fill="url(#bu1a)" opacity="0.7"/>
<rect x="417.0" y="429.7" width="1" height="9.9" fill="url(#bu1a)" opacity="1.00"/>
<rect x="418.0" y="430.4" width="1" height="9.1" fill="url(#bu1a)" opacity="0.98"/>
<rect x="419.0" y="431.2" width="1" height="8.4" fill="url(#bu1a)" opacity="0.86"/>
<rect x="419.0" y="425.0" width="1" height="14.6" fill="url(#bu1a)" opacity="0.7"/>
<rect x="420.0" y="430.7" width="1" height="8.9" fill="url(#bu1a)" opacity="0.86"/>
<rect x="420.0" y="411.1" width="1" height="28.4" fill="url(#bu1a)" opacity="0.7"/>
<rect x="421.0" y="436.3" width="1" height="3.3" fill="url(#bu1a)" opacity="0.80"/>
<rect x="421.0" y="412.4" width="1" height="27.1" fill="url(#bu1a)" opacity="0.7"/>
<rect x="422.0" y="439.6" width="1" height="3.8" fill="url(#bd1a)" opacity="0.94"/>
<rect x="424.0" y="439.6" width="1" height="3.6" fill="url(#bd1b)" opacity="0.77"/>
<rect x="425.0" y="439.6" width="1" height="1.2" fill="url(#bd1a)" opacity="0.79"/>
<rect x="426.0" y="434.7" width="1" height="4.9" fill="url(#bu1a)" opacity="0.93"/>
<rect x="428.0" y="435.9" width="1" height="3.7" fill="url(#bu1a)" opacity="0.85"/>
<rect x="429.0" y="439.6" width="1" height="1.5" fill="url(#bd1b)" opacity="0.89"/>
<rect x="430.0" y="439.2" width="1" height="0.8" fill="url(#bu1a)" opacity="0.83"/>
<rect x="431.0" y="439.6" width="1" height="2.6" fill="url(#bd1b)" opacity="0.86"/>
<rect x="431.0" y="425.7" width="1" height="13.8" fill="url(#bu1a)" opacity="0.7"/>
<rect x="432.0" y="429.8" width="1" height="9.7" fill="url(#bu1a)" opacity="0.97"/>
<rect x="433.0" y="439.6" width="1" height="0.8" fill="url(#bd1b)" opacity="0.90"/>
<rect x="434.0" y="430.7" width="1" height="8.8" fill="url(#bu1a)" opacity="0.77"/>
<rect x="435.0" y="439.6" width="1" height="2.6" fill="url(#bd1a)" opacity="0.89"/>
<rect x="436.0" y="439.6" width="1" height="2.1" fill="url(#bd1b)" opacity="0.73"/>
<rect x="437.0" y="432.7" width="1" height="6.9" fill="url(#bu1a)" opacity="0.94"/>
<rect x="437.0" y="412.6" width="1" height="27.0" fill="url(#bu1a)" opacity="0.7"/>
<rect x="438.0" y="437.9" width="1" height="1.6" fill="url(#bu1a)" opacity="0.95"/>
<rect x="438.0" y="413.2" width="1" height="26.3" fill="url(#bu1a)" opacity="0.7"/>
<rect x="440.0" y="429.7" width="1" height="9.9" fill="url(#bu1a)" opacity="0.82"/>
<rect x="440.0" y="420.3" width="1" height="19.2" fill="url(#bu1a)" opacity="0.7"/>
<rect x="441.0" y="431.1" width="1" height="8.4" fill="url(#bu1a)" opacity="0.70"/>
<rect x="445.0" y="439.6" width="1" height="12.8" fill="url(#bd1a)" opacity="0.98"/>
<rect x="446.0" y="439.6" width="1" height="7.0" fill="url(#bd1b)" opacity="0.90"/>
<rect x="447.0" y="439.6" width="1" height="14.0" fill="url(#bd1b)" opacity="0.85"/>
<rect x="447.0" y="439.6" width="1" height="15.1" fill="url(#bd1b)" opacity="0.7"/>
<rect x="448.0" y="439.6" width="1" height="12.2" fill="url(#bd1a)" opacity="0.72"/>
<rect x="450.0" y="439.6" width="1" height="6.0" fill="url(#bd1b)" opacity="0.93"/>
<rect x="451.0" y="439.6" width="1" height="11.2" fill="url(#bd1b)" opacity="0.89"/>
<rect x="452.0" y="439.6" width="1" height="6.7" fill="url(#bd1b)" opacity="0.85"/>
<rect x="452.0" y="439.6" width="1" height="16.7" fill="url(#bd1b)" opacity="0.7"/>
<rect x="453.0" y="439.6" width="1" height="8.1" fill="url(#bd1a)" opacity="0.93"/>
<rect x="454.0" y="439.6" width="1" height="8.3" fill="url(#bd1b)" opacity="0.78"/>
<rect x="455.0" y="439.6" width="1" height="14.2" fill="url(#bd1a)" opacity="0.82"/>
<rect x="455.0" y="439.6" width="1" height="17.6" fill="url(#bd1b)" opacity="0.7"/>
<rect x="456.0" y="439.6" width="1" height="13.4" fill="url(#bd1b)" opacity="0.85"/>
<rect x="456.0" y="439.6" width="1" height="15.9" fill="url(#bd1a)" opacity="0.7"/>
<rect x="457.0" y="439.6" width="1" height="6.1" fill="url(#bd1b)" opacity="0.85"/>
<rect x="458.0" y="439.6" width="1" height="13.1" fill="url(#bd1b)" opacity="0.91"/>
<rect x="459.0" y="439.6" width="1" height="12.4" fill="url(#bd1a)" opacity="0.72"/>
<rect x="460.0" y="439.6" width="1" height="12.9" fill="url(#bd1b)" opacity="0.71"/>
<rect x="461.0" y="439.6" width="1" height="12.9" fill="url(#bd1a)" opacity="0.72"/>
<rect x="461.0" y="439.6" width="1" height="15.8" fill="url(#bd1a)" opacity="0.7"/>
<rect x="462.0" y="439.6" width="1" height="7.8" fill="url(#bd1a)" opacity="0.74"/>
<rect x="462.0" y="439.6" width="1" height="16.9" fill="url(#bd1b)" opacity="0.7"/>
<rect x="463.0" y="439.6" width="1" height="12.3" fill="url(#bd1b)" opacity="0.92"/>
<rect x="464.0" y="439.6" width="1" height="6.7" fill="url(#bd1b)" opacity="0.99"/>
<rect x="465.0" y="439.6" width="1" height="13.4" fill="url(#bd1b)" opacity="0.96"/>
<rect x="465.0" y="439.6" width="1" height="15.1" fill="url(#bd1b)" opacity="0.7"/>
<rect x="466.0" y="439.6" width="1" height="9.5" fill="url(#bd1b)" opacity="0.85"/>
<rect x="466.0" y="439.6" width="1" height="16.0" fill="url(#bd1b)" opacity="0.7"/>
<rect x="467.0" y="439.6" width="1" height="7.5" fill="url(#bd1b)" opacity="0.99"/>
<rect x="468.0" y="439.6" width="1" height="7.2" fill="url(#bd1b)" opacity="0.87"/>
<rect x="470.0" y="439.6" width="1" height="10.3" fill="url(#bd1b)" opacity="1.00"/></g>
<g filter="url(#bb)"><rect x="295.0" y="548.8" width="1" height="11.2" fill="url(#su2b)" opacity="0.77"/>
<rect x="295.0" y="538.9" width="1" height="21.1" fill="#9a2070" opacity="0.7"/>
<rect x="296.0" y="550.8" width="1" height="9.2" fill="url(#mu2a)" opacity="0.70"/>
<rect x="297.0" y="551.6" width="1" height="8.4" fill="url(#su2c)" opacity="0.88"/>
<rect x="297.0" y="543.0" width="1" height="16.9" fill="#9a2070" opacity="0.7"/>
<rect x="298.0" y="552.6" width="1" height="7.3" fill="url(#mu2a)" opacity="0.94"/>
<rect x="299.0" y="549.0" width="1" height="11.0" fill="url(#su2c)" opacity="0.91"/>
<rect x="300.0" y="549.8" width="1" height="10.2" fill="url(#su2b)" opacity="0.94"/>
<rect x="301.0" y="547.4" width="1" height="12.5" fill="url(#su2c)" opacity="0.79"/>
<rect x="301.0" y="537.6" width="1" height="22.4" fill="#9a2070" opacity="0.7"/>
<rect x="302.0" y="546.2" width="1" height="13.8" fill="url(#su2c)" opacity="0.81"/>
<rect x="303.0" y="550.1" width="1" height="9.8" fill="url(#su2b)" opacity="0.72"/>
<rect x="304.0" y="552.7" width="1" height="7.3" fill="url(#su2b)" opacity="0.70"/>
<rect x="305.0" y="551.8" width="1" height="8.2" fill="url(#su2c)" opacity="0.72"/>
<rect x="308.0" y="552.4" width="1" height="7.5" fill="url(#su2c)" opacity="0.82"/>
<rect x="309.0" y="544.8" width="1" height="15.1" fill="url(#su2c)" opacity="0.90"/>
<rect x="310.0" y="551.9" width="1" height="8.0" fill="url(#mu2a)" opacity="0.86"/>
<rect x="310.0" y="542.4" width="1" height="17.6" fill="#9a2070" opacity="0.7"/>
<rect x="311.0" y="545.7" width="1" height="14.2" fill="url(#su2c)" opacity="0.91"/>
<rect x="312.0" y="551.5" width="1" height="8.5" fill="url(#su2c)" opacity="0.91"/>
<rect x="312.0" y="541.3" width="1" height="18.7" fill="#9a2070" opacity="0.7"/>
<rect x="313.0" y="550.7" width="1" height="9.2" fill="url(#mu2a)" opacity="0.73"/>
<rect x="313.0" y="542.4" width="1" height="17.5" fill="#9a2070" opacity="0.7"/>
<rect x="314.0" y="548.9" width="1" height="11.1" fill="url(#su2c)" opacity="0.84"/>
<rect x="314.0" y="543.3" width="1" height="16.6" fill="#9a2070" opacity="0.7"/>
<rect x="315.0" y="549.2" width="1" height="10.7" fill="url(#su2b)" opacity="0.98"/>
<rect x="316.0" y="551.0" width="1" height="9.0" fill="url(#su2b)" opacity="0.89"/>
<rect x="316.0" y="542.1" width="1" height="17.9" fill="#9a2070" opacity="0.7"/>
<rect x="317.0" y="549.4" width="1" height="10.5" fill="url(#mu2a)" opacity="0.96"/>
<rect x="318.0" y="550.9" width="1" height="9.1" fill="url(#mu2a)" opacity="0.81"/>
<rect x="319.0" y="549.4" width="1" height="10.6" fill="url(#su2c)" opacity="0.83"/>
<rect x="319.0" y="542.8" width="1" height="17.2" fill="#9a2070" opacity="0.7"/>
<rect x="320.0" y="551.7" width="1" height="8.2" fill="url(#mu2a)" opacity="0.93"/>
<rect x="330.0" y="560.0" width="1" height="1.2" fill="url(#bdd2d)" opacity="0.85"/>
<rect x="331.0" y="560.0" width="1" height="2.0" fill="url(#bdd2d)" opacity="0.82"/>
<rect x="335.0" y="558.7" width="1" height="1.2" fill="url(#mu2a)" opacity="0.82"/>
<rect x="341.0" y="560.0" width="1" height="4.0" fill="url(#bdd2d)" opacity="0.84"/>
<rect x="342.0" y="560.0" width="1" height="1.4" fill="url(#bdd2d)" opacity="0.73"/>
<rect x="346.0" y="560.0" width="1" height="0.8" fill="url(#bdd2d)" opacity="0.92"/>
<rect x="347.0" y="560.0" width="1" height="0.8" fill="url(#bdd2d)" opacity="0.75"/>
<rect x="348.0" y="560.0" width="1" height="4.0" fill="url(#bdd2d)" opacity="0.75"/>
<rect x="349.0" y="560.0" width="1" height="3.0" fill="url(#bdd2d)" opacity="0.93"/>
<rect x="355.0" y="548.4" width="1" height="11.6" fill="url(#mu2a)" opacity="0.81"/>
<rect x="356.0" y="548.7" width="1" height="11.2" fill="url(#mu2a)" opacity="0.76"/>
<rect x="357.0" y="540.1" width="1" height="19.9" fill="#9a2070" opacity="0.7"/>
<rect x="358.0" y="546.0" width="1" height="14.0" fill="url(#su2b)" opacity="0.71"/>
<rect x="359.0" y="546.1" width="1" height="13.8" fill="url(#su2b)" opacity="0.77"/>
<rect x="360.0" y="548.4" width="1" height="11.5" fill="url(#su2b)" opacity="0.89"/>
<rect x="361.0" y="551.3" width="1" height="8.7" fill="url(#mu2a)" opacity="0.75"/>
<rect x="362.0" y="546.7" width="1" height="13.2" fill="url(#su2c)" opacity="0.90"/>
<rect x="363.0" y="540.5" width="1" height="19.4" fill="#9a2070" opacity="0.7"/>
<rect x="364.0" y="544.8" width="1" height="15.2" fill="url(#mu2a)" opacity="0.99"/>
<rect x="365.0" y="546.7" width="1" height="13.3" fill="url(#su2b)" opacity="0.83"/>
<rect x="367.0" y="547.1" width="1" height="12.8" fill="url(#su2c)" opacity="0.93"/>
<rect x="367.0" y="540.7" width="1" height="19.3" fill="#9a2070" opacity="0.7"/>
<rect x="368.0" y="546.1" width="1" height="13.8" fill="url(#su2c)" opacity="0.83"/>
<rect x="369.0" y="544.8" width="1" height="15.2" fill="url(#su2c)" opacity="0.78"/>
<rect x="370.0" y="543.6" width="1" height="16.3" fill="url(#su2b)" opacity="0.71"/>
<rect x="370.0" y="529.5" width="1" height="30.5" fill="#9a2070" opacity="0.7"/>
<rect x="371.0" y="543.6" width="1" height="16.3" fill="url(#su2b)" opacity="0.79"/>
<rect x="372.0" y="551.5" width="1" height="8.5" fill="url(#su2c)" opacity="0.70"/>
<rect x="372.0" y="540.6" width="1" height="19.3" fill="#9a2070" opacity="0.7"/>
<rect x="373.0" y="543.6" width="1" height="16.4" fill="url(#mu2a)" opacity="0.98"/>
<rect x="374.0" y="545.4" width="1" height="14.6" fill="url(#su2b)" opacity="0.99"/>
<rect x="375.0" y="548.9" width="1" height="11.0" fill="url(#mu2a)" opacity="0.81"/>
<rect x="376.0" y="549.8" width="1" height="10.2" fill="url(#su2c)" opacity="0.76"/>
<rect x="377.0" y="550.9" width="1" height="9.1" fill="url(#mu2a)" opacity="0.91"/>
<rect x="378.0" y="544.5" width="1" height="15.4" fill="url(#mu2a)" opacity="0.73"/>
<rect x="379.0" y="551.6" width="1" height="8.4" fill="url(#mu2a)" opacity="0.91"/>
<rect x="384.0" y="541.0" width="1" height="19.0" fill="url(#mu2a)" opacity="0.88"/>
<rect x="384.0" y="528.5" width="1" height="31.4" fill="#9a2070" opacity="0.7"/>
<rect x="385.0" y="540.8" width="1" height="19.2" fill="url(#su2b)" opacity="0.99"/>
<rect x="385.0" y="524.0" width="1" height="35.9" fill="#9a2070" opacity="0.7"/>
<rect x="386.0" y="532.4" width="1" height="27.5" fill="url(#su2c)" opacity="0.82"/>
<rect x="388.0" y="540.2" width="1" height="19.8" fill="url(#su2c)" opacity="0.93"/>
<rect x="389.0" y="541.6" width="1" height="18.4" fill="url(#su2b)" opacity="0.71"/>
<rect x="390.0" y="540.0" width="1" height="20.0" fill="url(#su2c)" opacity="0.82"/>
<rect x="391.0" y="538.6" width="1" height="21.4" fill="url(#su2c)" opacity="0.77"/>
<rect x="391.0" y="528.8" width="1" height="31.2" fill="#9a2070" opacity="0.7"/>
<rect x="392.0" y="543.4" width="1" height="16.6" fill="url(#su2b)" opacity="1.00"/>
<rect x="393.0" y="533.8" width="1" height="26.1" fill="url(#su2b)" opacity="0.84"/>
<rect x="394.0" y="541.6" width="1" height="18.3" fill="url(#su2b)" opacity="0.82"/>
<rect x="394.0" y="518.5" width="1" height="41.5" fill="#9a2070" opacity="0.7"/>
<rect x="396.0" y="537.1" width="1" height="22.9" fill="url(#su2b)" opacity="0.89"/>
<rect x="396.0" y="519.6" width="1" height="40.3" fill="#9a2070" opacity="0.7"/>
<rect x="398.0" y="546.4" width="1" height="13.6" fill="url(#mu2a)" opacity="0.97"/>
<rect x="398.0" y="528.4" width="1" height="31.5" fill="#9a2070" opacity="0.7"/>
<rect x="399.0" y="526.5" width="1" height="33.4" fill="#9a2070" opacity="0.7"/>
<rect x="401.0" y="541.6" width="1" height="18.3" fill="url(#mu2a)" opacity="0.77"/>
<rect x="402.0" y="535.8" width="1" height="24.2" fill="url(#su2b)" opacity="0.95"/>
<rect x="402.0" y="529.0" width="1" height="30.9" fill="#9a2070" opacity="0.7"/>
<rect x="403.0" y="537.0" width="1" height="23.0" fill="url(#mu2a)" opacity="0.96"/>
<rect x="404.0" y="542.4" width="1" height="17.6" fill="url(#su2c)" opacity="0.72"/>
<rect x="404.0" y="529.1" width="1" height="30.8" fill="#9a2070" opacity="0.7"/>
<rect x="405.0" y="536.5" width="1" height="23.5" fill="url(#su2b)" opacity="0.81"/>
<rect x="406.0" y="537.4" width="1" height="22.5" fill="url(#mu2a)" opacity="0.97"/>
<rect x="408.0" y="544.8" width="1" height="15.2" fill="url(#su2b)" opacity="0.87"/>
<rect x="409.0" y="532.9" width="1" height="27.0" fill="url(#mu2a)" opacity="0.88"/>
<rect x="410.0" y="534.8" width="1" height="25.2" fill="url(#su2b)" opacity="0.86"/>
<rect x="410.0" y="526.9" width="1" height="33.0" fill="#9a2070" opacity="0.7"/>
<rect x="415.0" y="548.0" width="1" height="11.9" fill="url(#su2c)" opacity="0.94"/>
<rect x="416.0" y="539.5" width="1" height="20.4" fill="url(#mu2a)" opacity="0.89"/>
<rect x="417.0" y="542.3" width="1" height="17.6" fill="url(#mu2a)" opacity="0.73"/>
<rect x="418.0" y="547.4" width="1" height="12.5" fill="url(#mu2a)" opacity="0.82"/>
<rect x="419.0" y="547.3" width="1" height="12.7" fill="url(#su2b)" opacity="0.91"/>
<rect x="420.0" y="537.7" width="1" height="22.3" fill="url(#su2c)" opacity="0.83"/>
<rect x="421.0" y="544.3" width="1" height="15.6" fill="url(#mu2a)" opacity="0.80"/>
<rect x="421.0" y="532.6" width="1" height="27.4" fill="#9a2070" opacity="0.7"/>
<rect x="422.0" y="547.5" width="1" height="12.5" fill="url(#mu2a)" opacity="0.83"/>
<rect x="423.0" y="542.4" width="1" height="17.6" fill="url(#su2c)" opacity="0.75"/>
<rect x="425.0" y="544.3" width="1" height="15.7" fill="url(#mu2a)" opacity="0.85"/>
<rect x="425.0" y="529.2" width="1" height="30.8" fill="#9a2070" opacity="0.7"/>
<rect x="427.0" y="542.1" width="1" height="17.9" fill="url(#su2c)" opacity="0.91"/>
<rect x="427.0" y="534.8" width="1" height="25.1" fill="#9a2070" opacity="0.7"/>
<rect x="428.0" y="539.9" width="1" height="20.1" fill="url(#su2c)" opacity="0.95"/>
<rect x="429.0" y="540.1" width="1" height="19.8" fill="url(#su2b)" opacity="0.73"/>
<rect x="430.0" y="542.7" width="1" height="17.2" fill="url(#mu2a)" opacity="0.95"/>
<rect x="431.0" y="543.1" width="1" height="16.8" fill="url(#su2b)" opacity="0.81"/>
<rect x="431.0" y="531.5" width="1" height="28.5" fill="#9a2070" opacity="0.7"/>
<rect x="433.0" y="546.2" width="1" height="13.7" fill="url(#su2c)" opacity="1.00"/>
<rect x="435.0" y="544.7" width="1" height="15.2" fill="url(#su2c)" opacity="0.89"/>
<rect x="436.0" y="545.1" width="1" height="14.9" fill="url(#su2c)" opacity="0.85"/>
<rect x="436.0" y="534.8" width="1" height="25.2" fill="#9a2070" opacity="0.7"/>
<rect x="437.0" y="544.4" width="1" height="15.6" fill="url(#su2b)" opacity="0.89"/>
<rect x="437.0" y="533.5" width="1" height="26.5" fill="#9a2070" opacity="0.7"/>
<rect x="438.0" y="539.7" width="1" height="20.3" fill="url(#su2b)" opacity="0.75"/>
<rect x="440.0" y="547.5" width="1" height="12.4" fill="url(#su2b)" opacity="0.81"/>
<rect x="441.0" y="542.1" width="1" height="17.9" fill="url(#su2b)" opacity="0.92"/>
<rect x="445.0" y="538.7" width="1" height="21.3" fill="url(#su2b)" opacity="0.87"/>
<rect x="445.0" y="529.6" width="1" height="30.3" fill="#9a2070" opacity="0.7"/>
<rect x="446.0" y="540.1" width="1" height="19.9" fill="url(#su2b)" opacity="0.75"/>
<rect x="447.0" y="546.7" width="1" height="13.3" fill="url(#mu2a)" opacity="0.80"/>
<rect x="447.0" y="535.6" width="1" height="24.3" fill="#9a2070" opacity="0.7"/>
<rect x="449.0" y="541.5" width="1" height="18.4" fill="url(#su2b)" opacity="0.77"/>
<rect x="451.0" y="538.2" width="1" height="21.7" fill="url(#su2c)" opacity="0.80"/>
<rect x="451.0" y="527.9" width="1" height="32.1" fill="#9a2070" opacity="0.7"/>
<rect x="452.0" y="545.5" width="1" height="14.4" fill="url(#mu2a)" opacity="1.00"/>
<rect x="452.0" y="534.0" width="1" height="25.9" fill="#9a2070" opacity="0.7"/>
<rect x="453.0" y="543.4" width="1" height="16.6" fill="url(#su2b)" opacity="0.76"/>
<rect x="454.0" y="544.6" width="1" height="15.4" fill="url(#su2c)" opacity="0.72"/>
<rect x="455.0" y="543.9" width="1" height="16.1" fill="url(#mu2a)" opacity="0.79"/>
<rect x="456.0" y="537.6" width="1" height="22.4" fill="url(#su2c)" opacity="0.82"/>
<rect x="457.0" y="543.2" width="1" height="16.8" fill="url(#mu2a)" opacity="0.76"/>
<rect x="458.0" y="540.0" width="1" height="20.0" fill="url(#mu2a)" opacity="0.89"/>
<rect x="459.0" y="540.1" width="1" height="19.9" fill="url(#su2c)" opacity="0.73"/>
<rect x="460.0" y="539.0" width="1" height="20.9" fill="url(#mu2a)" opacity="0.85"/>
<rect x="460.0" y="535.1" width="1" height="24.9" fill="#9a2070" opacity="0.7"/>
<rect x="461.0" y="538.4" width="1" height="21.6" fill="url(#su2b)" opacity="0.71"/>
<rect x="461.0" y="529.1" width="1" height="30.9" fill="#9a2070" opacity="0.7"/>
<rect x="462.0" y="547.1" width="1" height="12.8" fill="url(#mu2a)" opacity="0.86"/>
<rect x="462.0" y="534.2" width="1" height="25.7" fill="#9a2070" opacity="0.7"/>
<rect x="463.0" y="539.0" width="1" height="21.0" fill="url(#su2c)" opacity="0.75"/>
<rect x="463.0" y="535.6" width="1" height="24.3" fill="#9a2070" opacity="0.7"/>
<rect x="464.0" y="541.2" width="1" height="18.7" fill="url(#mu2a)" opacity="0.84"/>
<rect x="465.0" y="543.9" width="1" height="16.0" fill="url(#su2b)" opacity="0.70"/>
<rect x="465.0" y="535.5" width="1" height="24.5" fill="#9a2070" opacity="0.7"/>
<rect x="466.0" y="541.3" width="1" height="18.6" fill="url(#mu2a)" opacity="0.71"/>
<rect x="467.0" y="539.0" width="1" height="20.9" fill="url(#su2c)" opacity="0.93"/>
<rect x="467.0" y="534.8" width="1" height="25.1" fill="#9a2070" opacity="0.7"/>
<rect x="468.0" y="542.1" width="1" height="17.8" fill="url(#mu2a)" opacity="0.96"/>
<rect x="470.0" y="529.6" width="1" height="30.4" fill="#9a2070" opacity="0.7"/></g>
<text x="81.0" y="271.3" class="ann"><tspan class="annb">E</tspan><tspan dx="2">down &gt;1.75 fold (119 genes)</tspan></text>
<text x="86.5" y="390.3" class="ann"><tspan class="annb">D</tspan><tspan dx="2">down &gt;1.5 fold (67 genes)</tspan></text>
<text x="81.0" y="510.3" class="ann"><tspan class="annb">S</tspan><tspan dx="2">down &gt;1.75 fold (217 genes)</tspan></text>
<text x="312.5" y="354.0" class="ann"><tspan class="annb">E</tspan><tspan dx="2">up &gt;1.75 fold (177 genes)</tspan></text>
<text x="318.5" y="390.3" class="ann"><tspan class="annb">D</tspan><tspan dx="2">up &gt;1.5 fold (92 genes)</tspan></text>
<text x="312.5" y="594.0" class="ann"><tspan class="annb">S</tspan><tspan dx="2">up &gt;1.75 fold (163 genes)</tspan></text>
<text class="xl" text-anchor="end" transform="translate(75.0,621.0) rotate(-45)">E</text>
<text class="xl" text-anchor="end" transform="translate(105.0,621.0) rotate(-45)">D</text>
<text class="xl" text-anchor="end" transform="translate(135.0,621.0) rotate(-45)">S</text>
<text class="xl" text-anchor="end" transform="translate(165.0,621.0) rotate(-45)">ES</text>
<text class="xl" text-anchor="end" transform="translate(196.0,621.0) rotate(-45)">ESD</text>
<text class="xl" text-anchor="end" transform="translate(226.0,621.0) rotate(-45)">ESZK</text>
<text class="xl" text-anchor="end" transform="translate(306.8,621.0) rotate(-45)">E</text>
<text class="xl" text-anchor="end" transform="translate(336.4,621.0) rotate(-45)">D</text>
<text class="xl" text-anchor="end" transform="translate(366.0,621.0) rotate(-45)">S</text>
<text class="xl" text-anchor="end" transform="translate(395.6,621.0) rotate(-45)">ES</text>
<text class="xl" text-anchor="end" transform="translate(426.0,621.0) rotate(-45)">ESD</text>
<text class="xl" text-anchor="end" transform="translate(456.5,621.0) rotate(-45)">ESZK</text>
</svg>
</body></html>
